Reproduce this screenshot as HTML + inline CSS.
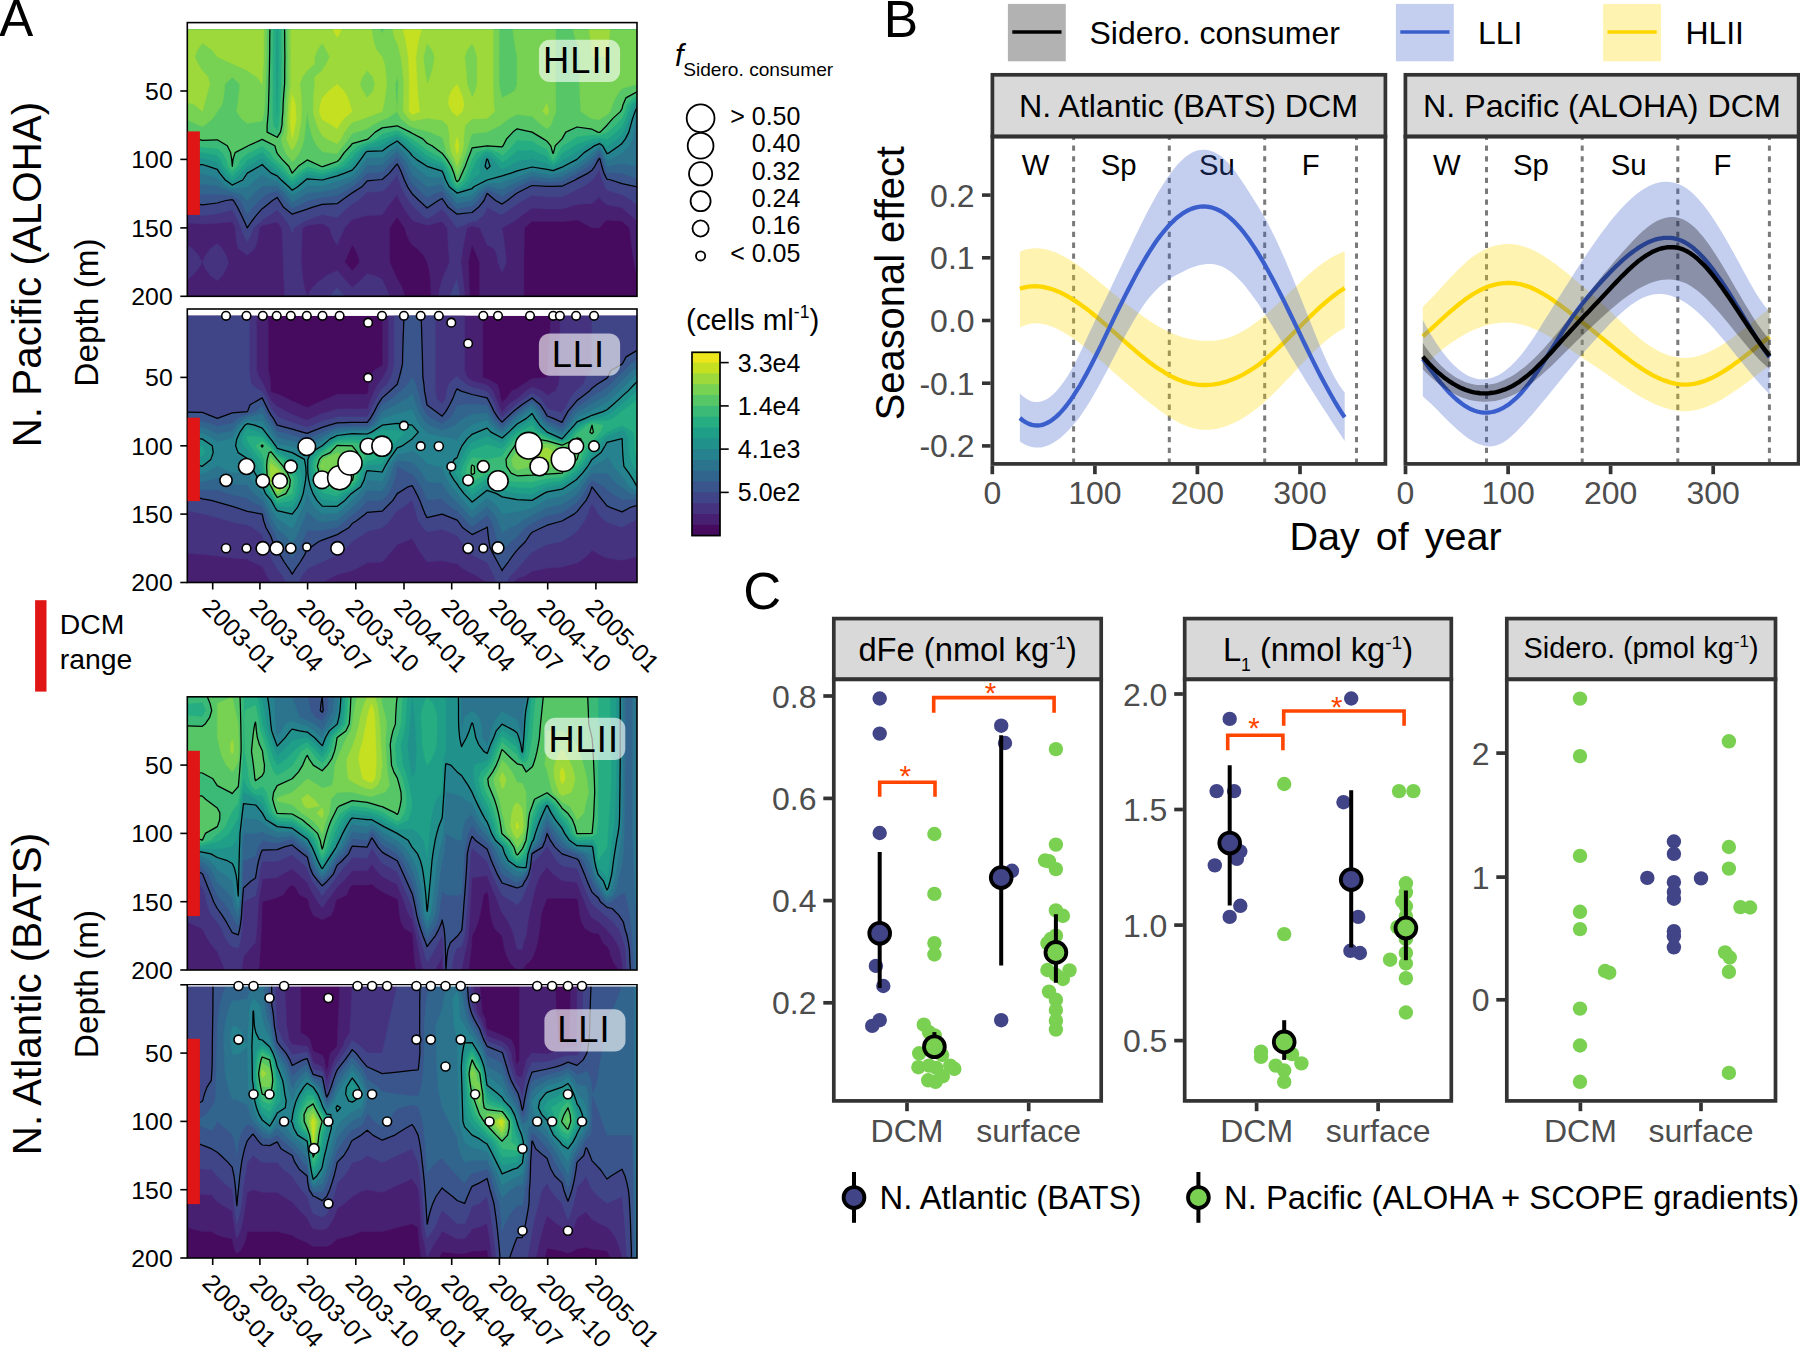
<!DOCTYPE html>
<html><head><meta charset="utf-8"><title>Figure</title>
<style>
html,body{margin:0;padding:0;background:#fff;overflow:hidden;}
svg{display:block;}
text{font-family:"Liberation Sans", Arial, sans-serif;}
</style></head><body>
<svg width="1800" height="1347" viewBox="0 0 1800 1347">
<rect x="0" y="0" width="1800" height="1347" fill="#ffffff"/>
<clipPath id="clip_aH"><rect x="187.3" y="29.4" width="449.7" height="266.9"/></clipPath>
<g clip-path="url(#clip_aH)">
<rect x="187.3" y="29.4" width="449.7" height="266.9" fill="#460b5e"/>
<path d="M202.3 22.6L217.3 22.6L232.3 22.6L247.3 22.6L262.2 22.6L277.2 22.6L292.2 22.6L307.2 22.6L322.2 22.6L337.2 22.6L352.2 22.6L367.2 22.6L382.2 22.6L397.2 22.6L412.1 22.6L427.1 22.6L442.1 22.6L457.1 22.6L472.1 22.6L487.1 22.6L502.1 22.6L517.1 22.6L532.1 22.6L547.1 22.6L553.1 22.6L562 22.6L577 22.6L592 22.6L599.5 22.6L607 22.6L622 22.6L637 22.6L637 29.4L637 36.3L637 43.1L637 50L637 56.8L637 63.7L637 70.5L637 77.3L637 84.2L637 91L637 97.9L637 104.7L637 111.6L637 118.4L637 125.2L637 132.1L637 138.9L637 145.8L637 152.6L637 159.4L637 166.3L637 173.1L637 180L637 186.8L637 193.7L637 200.5L637 207.3L637 214.2L637 221L637 227.9L637 234.7L637 241.6L637 248.4L637 255.2L637 262.1L637 268.9L637 275.8L637 276.8L636.8 275.8L635.2 268.9L634 262.1L632.9 255.2L631.9 248.4L631 241.6L630.2 234.7L629.5 227.9L622 221.2L619.6 221L607 220.2L605.5 221L599.5 227.9L592 227.9L579.8 221L577 220L568.3 221L562 221.6L553.1 221.6L547.1 221.6L532.1 221.3L524.6 227.9L524.4 234.7L524.3 241.6L524.2 248.4L524 255.2L523.9 262.1L523.9 268.9L523.9 275.8L523.9 282.6L523.9 289.5L523.9 296.3L517.1 296.3L502.1 296.3L487.1 296.3L479.6 296.3L479.6 289.5L479.6 282.6L479.6 275.8L479.6 268.9L479.6 262.1L476.6 255.2L473.6 248.4L472.1 245L471.3 248.4L469.7 255.2L468.4 262.1L468.7 268.9L469 275.8L469.2 282.6L469.4 289.5L469.6 296.3L457.1 296.3L442.1 296.3L430.9 296.3L430.7 289.5L430.4 282.6L429.9 275.8L429 268.9L427.1 262.1L427.1 262.1L423.4 255.2L417.1 248.4L412.1 245L409.7 241.6L406.5 234.7L404.7 227.9L399.7 221L397.2 216.9L394.2 221L389.7 227.9L389.7 234.7L389.7 241.6L389.7 248.4L389.7 255.2L389.7 262.1L392.7 268.9L395.7 275.8L397.2 279.2L399.7 282.6L402.8 289.5L404.7 296.3L397.2 296.3L382.2 296.3L367.2 296.3L352.2 296.3L337.2 296.3L322.2 296.3L307.2 296.3L292.2 296.3L277.2 296.3L262.2 296.3L247.3 296.3L232.3 296.3L217.3 296.3L202.3 296.3L187.3 296.3L187.3 289.5L187.3 282.6L187.3 275.8L187.3 268.9L187.3 262.1L187.3 255.2L187.3 248.4L187.3 241.6L187.3 234.7L187.3 227.9L187.3 221L187.3 214.2L187.3 207.3L187.3 200.5L187.3 193.7L187.3 186.8L187.3 180L187.3 173.1L187.3 166.3L187.3 159.4L187.3 152.6L187.3 145.8L187.3 138.9L187.3 132.1L187.3 125.2L187.3 118.4L187.3 111.6L187.3 104.7L187.3 97.9L187.3 91L187.3 84.2L187.3 77.3L187.3 70.5L187.3 63.7L187.3 56.8L187.3 50L187.3 43.1L187.3 36.3L187.3 29.4L187.3 22.6ZM350.7 248.4L347.7 255.2L344.7 262.1L350.7 268.9L352.2 270.6L353.9 268.9L359.7 262.1L357.8 255.2L354.7 248.4L352.2 245Z" fill="#482071" stroke="#482071" stroke-width="0.5"/>
<path d="M202.3 22.6L217.3 22.6L232.3 22.6L247.3 22.6L262.2 22.6L277.2 22.6L292.2 22.6L307.2 22.6L322.2 22.6L337.2 22.6L352.2 22.6L367.2 22.6L382.2 22.6L397.2 22.6L412.1 22.6L427.1 22.6L442.1 22.6L457.1 22.6L472.1 22.6L487.1 22.6L502.1 22.6L517.1 22.6L532.1 22.6L547.1 22.6L553.1 22.6L562 22.6L577 22.6L592 22.6L599.5 22.6L607 22.6L622 22.6L637 22.6L637 29.4L637 36.3L637 43.1L637 50L637 56.8L637 63.7L637 70.5L637 77.3L637 84.2L637 91L637 97.9L637 104.7L637 111.6L637 118.4L637 125.2L637 132.1L637 138.9L637 145.8L637 152.6L637 159.4L637 166.3L637 173.1L637 180L637 186.8L637 193.7L637 200.5L637 207.3L637 214.2L637 221L629.3 214.2L622 207.8L619.6 207.3L607 204.8L601.7 200.5L599.5 196.9L595.8 200.5L592 203.4L577 204.4L568.3 207.3L562 209.1L553.1 209.1L547.1 209.1L532.1 208.2L523.3 214.2L517.1 219.6L514.8 221L502.1 227.9L502.1 227.9L502.1 227.9L503.2 234.7L504.2 241.6L505 248.4L505.7 255.2L506.4 262.1L503.7 268.9L502.1 271.9L500.5 268.9L497.8 262.1L496.9 255.2L493.9 248.4L487.1 245L485.6 241.6L482.6 234.7L479.6 227.9L472.1 225.8L467.1 227.9L465.6 234.7L464.2 241.6L462.9 248.4L461.9 255.2L460.9 262.1L461.9 268.9L462.7 275.8L463.5 282.6L464.1 289.5L464.6 296.3L457.1 296.3L442.1 296.3L438.4 296.3L439.5 289.5L441.1 282.6L442.1 279.2L443.6 275.8L446.6 268.9L449.6 262.1L448.9 255.2L448.4 248.4L447.9 241.6L447.5 234.7L447.1 227.9L442.1 221.5L427.1 225.2L413.3 221L412.1 220.1L407.7 214.2L403.3 207.3L399.5 200.5L397.2 194.9L392.5 200.5L387.3 207.3L382.6 214.2L382.2 214.9L367.2 215.4L352.2 219.6L350.7 221L344.7 227.9L341.7 234.7L338.7 241.6L337.2 245L334.7 241.6L331.6 234.7L329.7 227.9L322.2 223.5L307.2 225.4L302.7 227.9L302.1 234.7L301.9 241.6L301.7 248.4L301.5 255.2L301.3 262.1L301.8 268.9L302.5 275.8L303.5 282.6L304.9 289.5L307.2 296.3L292.2 296.3L284.7 296.3L284.4 289.5L284 282.6L283.7 275.8L283.4 268.9L283.2 262.1L283 255.2L282.7 248.4L282.5 241.6L282.3 234.7L281.7 227.9L277.2 222L262.2 225.4L259.3 227.9L258.5 234.7L257.3 241.6L254.8 248.4L247.3 255.2L238.1 248.4L236.4 241.6L235.7 234.7L235.3 227.9L232.3 221.8L217.3 223.2L202.3 224L187.3 223L187.3 221L187.3 214.2L187.3 207.3L187.3 200.5L187.3 193.7L187.3 186.8L187.3 180L187.3 173.1L187.3 166.3L187.3 159.4L187.3 152.6L187.3 145.8L187.3 138.9L187.3 132.1L187.3 125.2L187.3 118.4L187.3 111.6L187.3 104.7L187.3 97.9L187.3 91L187.3 84.2L187.3 77.3L187.3 70.5L187.3 63.7L187.3 56.8L187.3 50L187.3 43.1L187.3 36.3L187.3 29.4L187.3 22.6ZM192.3 248.4L198.5 255.2L202.3 262.1L198.5 268.9L192.3 275.8L187.3 279.2L187.3 275.8L187.3 268.9L187.3 262.1L187.3 255.2L187.3 248.4L187.3 245ZM217.3 243.4L222.3 248.4L226.2 255.2L228.5 262.1L226.2 268.9L222.3 275.8L217.3 280.7L210.6 275.8L205.4 268.9L202.3 262.1L205.4 255.2L210.6 248.4ZM337.2 270.6L341.7 275.8L347.7 282.6L352.2 287.7L358.6 282.6L365.3 275.8L367.2 273.5L374.7 275.8L382.2 279.2L383.7 282.6L386.7 289.5L389.7 296.3L382.2 296.3L367.2 296.3L352.2 296.3L337.2 296.3L322.2 296.3L307.2 296.3L311 289.5L317.2 282.6L322.2 279.2L326 275.8Z" fill="#46337f" stroke="#46337f" stroke-width="0.5"/>
<path d="M202.3 22.6L217.3 22.6L232.3 22.6L247.3 22.6L262.2 22.6L277.2 22.6L292.2 22.6L307.2 22.6L322.2 22.6L337.2 22.6L352.2 22.6L367.2 22.6L382.2 22.6L397.2 22.6L412.1 22.6L427.1 22.6L442.1 22.6L457.1 22.6L472.1 22.6L487.1 22.6L502.1 22.6L517.1 22.6L532.1 22.6L547.1 22.6L553.1 22.6L562 22.6L577 22.6L592 22.6L599.5 22.6L607 22.6L622 22.6L637 22.6L637 29.4L637 36.3L637 43.1L637 50L637 56.8L637 63.7L637 70.5L637 77.3L637 84.2L637 91L637 97.9L637 104.7L637 111.6L637 118.4L637 125.2L637 132.1L637 138.9L637 145.8L637 152.6L637 159.4L637 166.3L637 173.1L637 180L637 186.8L637 193.7L637 200.5L637 205.1L631.7 200.5L622 194.7L618.6 193.7L607 190.2L604.9 186.8L602.1 180L600.3 173.1L599.5 168.9L597.5 173.1L592.4 180L592 180.4L582.9 186.8L577 189.5L568.9 193.7L562 196.8L553.1 196.8L547.1 196.8L532.1 195.4L523 200.5L517.1 203.9L512.7 207.3L502.6 214.2L502.1 214.5L500.3 214.2L487.1 207.3L487.1 207.3L487.1 207.3L484.4 214.2L476.6 221L472.1 221.6L457.1 227.9L452 221L446.6 214.2L442.1 209.1L434.9 214.2L427.1 218.7L420.9 214.2L414.4 207.3L412.1 205.1L408.6 200.5L404.4 193.7L401.2 186.8L398.9 180L397.2 174.6L393.4 180L387.3 186.8L382.2 191.2L367.2 192.2L365.3 193.7L358.2 200.5L352.2 203.9L347.9 207.3L340.5 214.2L337.2 217.6L322.2 214.4L307.2 219.9L305 221L293.7 227.9L292.2 233.6L290.7 227.9L286.4 221L281 214.2L277.2 209.8L271.3 214.2L262.2 219.9L261.3 221L253.3 227.9L251 234.7L247.3 241.6L243.4 234.7L241.3 227.9L238 221L234.7 214.2L232.3 209.7L217.3 213.8L214.1 214.2L202.3 215.5L193.4 214.2L187.3 213.1L187.3 207.3L187.3 200.5L187.3 193.7L187.3 186.8L187.3 180L187.3 173.1L187.3 166.3L187.3 159.4L187.3 152.6L187.3 145.8L187.3 138.9L187.3 132.1L187.3 125.2L187.3 118.4L187.3 111.6L187.3 104.7L187.3 97.9L187.3 91L187.3 84.2L187.3 77.3L187.3 70.5L187.3 63.7L187.3 56.8L187.3 50L187.3 43.1L187.3 36.3L187.3 29.4L187.3 22.6ZM457.1 279.2L457.7 282.6L458.7 289.5L459.6 296.3L457.1 296.3L449.6 296.3L452.6 289.5L455.6 282.6ZM337.2 287.7L338.7 289.5L344.7 296.3L337.2 296.3L329.7 296.3L335.3 289.5Z" fill="#404588" stroke="#404588" stroke-width="0.5"/>
<path d="M202.3 22.6L217.3 22.6L232.3 22.6L247.3 22.6L262.2 22.6L277.2 22.6L292.2 22.6L307.2 22.6L322.2 22.6L337.2 22.6L352.2 22.6L367.2 22.6L382.2 22.6L397.2 22.6L412.1 22.6L427.1 22.6L442.1 22.6L457.1 22.6L472.1 22.6L487.1 22.6L502.1 22.6L517.1 22.6L532.1 22.6L547.1 22.6L553.1 22.6L562 22.6L577 22.6L592 22.6L599.5 22.6L607 22.6L622 22.6L637 22.6L637 29.4L637 36.3L637 43.1L637 50L637 56.8L637 63.7L637 70.5L637 77.3L637 84.2L637 91L637 97.9L637 104.7L637 111.6L637 118.4L637 125.2L637 132.1L637 138.9L637 145.8L637 152.6L637 159.4L637 166.3L637 173.1L637 180L637 186.8L622 183.6L611 180L607 179.2L603.9 173.1L601.8 166.3L600.1 159.4L599.5 158.3L598.6 159.4L594.8 166.3L592 170.2L588.1 173.1L577 178.9L575.1 180L562 186.2L553.1 186.3L547.1 186.3L532.1 185.5L529.3 186.8L517.1 193L515.9 193.7L507.4 200.5L502.1 204.1L495.6 200.5L487.6 193.7L487.1 193.5L486.9 193.7L484 200.5L478.5 207.3L472.1 212.5L457.1 214.2L448.2 207.3L443.5 200.5L442.1 198.5L438.3 200.5L428.2 207.3L427.1 208.1L426.4 207.3L419 200.5L412.1 193.7L412.1 193.7L407.6 186.8L404.4 180L401.7 173.1L398.6 166.3L397.2 164L395 166.3L389.4 173.1L382.2 179.5L376.1 180L367.2 180.9L361.9 186.8L352.2 192.9L350.9 193.7L341.5 200.5L337.2 203.7L322.2 204.4L312.1 207.3L307.2 209.2L292.2 214.2L283.6 207.3L279.2 200.5L277.2 197.4L272.5 200.5L264.2 207.3L262.2 208.7L257.3 214.2L251.9 221L247.3 227.9L244.2 221L241 214.2L237.5 207.3L233.5 200.5L232.3 199.7L225.9 200.5L217.3 203L202.3 204.8L187.3 202.1L187.3 200.5L187.3 193.7L187.3 186.8L187.3 180L187.3 173.1L187.3 166.3L187.3 159.4L187.3 152.6L187.3 145.8L187.3 138.9L187.3 132.1L187.3 125.2L187.3 118.4L187.3 111.6L187.3 104.7L187.3 97.9L187.3 91L187.3 84.2L187.3 77.3L187.3 70.5L187.3 63.7L187.3 56.8L187.3 50L187.3 43.1L187.3 36.3L187.3 29.4L187.3 22.6Z" fill="#39558c" stroke="#39558c" stroke-width="0.5"/>
<path d="M202.3 22.6L217.3 22.6L232.3 22.6L247.3 22.6L262.2 22.6L277.2 22.6L292.2 22.6L307.2 22.6L322.2 22.6L337.2 22.6L352.2 22.6L367.2 22.6L382.2 22.6L397.2 22.6L412.1 22.6L427.1 22.6L442.1 22.6L457.1 22.6L472.1 22.6L487.1 22.6L502.1 22.6L517.1 22.6L532.1 22.6L547.1 22.6L553.1 22.6L562 22.6L577 22.6L592 22.6L599.5 22.6L607 22.6L622 22.6L637 22.6L637 29.4L637 36.3L637 43.1L637 50L637 56.8L637 63.7L637 70.5L637 77.3L637 84.2L637 91L637 97.9L637 104.7L637 111.6L637 118.4L637 125.2L637 132.1L637 138.9L637 145.8L637 152.6L637 159.4L637 166.3L637 173.1L637 178.6L622 173.3L620 173.1L607 172.5L604.4 166.3L602.3 159.4L599.5 153.6L594.8 159.4L592 163.6L588.3 166.3L577.4 173.1L577 173.3L564.5 180L562 181.1L553.1 182L547.1 182L532.1 180L532.1 180L532.1 180L517.8 186.8L517.1 187.2L506 193.7L502.1 196.4L497.9 193.7L487.1 190L482.3 193.7L478 200.5L472.1 206L464.6 207.3L457.1 208.7L455.3 207.3L448.9 200.5L444 193.7L442.1 190.9L434.4 193.7L427.1 197.6L423 193.7L415.5 186.8L412.1 183.9L409.9 180L406.7 173.1L403.4 166.3L399.2 159.4L397.2 157.2L394.4 159.4L387.9 166.3L382.2 172.1L367.2 173L367 173.1L360.9 180L352.2 186.8L352.2 186.8L340.1 193.7L337.2 195.5L322.2 197.4L308.9 200.5L307.2 201L294 207.3L292.2 208L291.4 207.3L285.1 200.5L280.2 193.7L277.2 190.8L267.7 193.7L262.2 197.4L259 200.5L252.7 207.3L247.3 214.2L244 207.3L240.4 200.5L232.3 195.6L217.3 194.2L202.3 194.3L196.7 193.7L187.3 192.6L187.3 186.8L187.3 180L187.3 173.1L187.3 166.3L187.3 159.4L187.3 152.6L187.3 145.8L187.3 138.9L187.3 132.1L187.3 125.2L187.3 118.4L187.3 111.6L187.3 104.7L187.3 97.9L187.3 91L187.3 84.2L187.3 77.3L187.3 70.5L187.3 63.7L187.3 56.8L187.3 50L187.3 43.1L187.3 36.3L187.3 29.4L187.3 22.6Z" fill="#32658e" stroke="#32658e" stroke-width="0.5"/>
<path d="M202.3 22.6L217.3 22.6L232.3 22.6L247.3 22.6L262.2 22.6L277.2 22.6L292.2 22.6L307.2 22.6L322.2 22.6L337.2 22.6L352.2 22.6L367.2 22.6L382.2 22.6L397.2 22.6L412.1 22.6L427.1 22.6L442.1 22.6L457.1 22.6L472.1 22.6L487.1 22.6L502.1 22.6L517.1 22.6L532.1 22.6L547.1 22.6L553.1 22.6L562 22.6L577 22.6L592 22.6L599.5 22.6L607 22.6L622 22.6L637 22.6L637 29.4L637 36.3L637 43.1L637 50L637 56.8L637 63.7L637 70.5L637 77.3L637 84.2L637 91L637 97.9L637 104.7L637 111.6L637 118.4L637 125.2L637 132.1L637 138.9L637 145.8L637 152.6L637 159.4L637 166.3L637 167.1L635.2 166.3L622 163.2L607 166.3L604.5 159.4L601.5 152.6L599.5 149.9L596.2 152.6L592 158.1L590.4 159.4L580.9 166.3L577 168.7L568.7 173.1L562 176.6L553.1 177.9L547.1 177.9L532.1 175.9L521.4 180L517.1 182L506.6 186.8L502.1 189.6L490.2 186.8L487.1 186.5L486.4 186.8L477.8 193.7L472.1 200.5L472.1 200.5L457.1 203.2L454.4 200.5L448.8 193.7L443.3 186.8L442.1 184.1L428.3 186.8L427.1 187.2L426.8 186.8L419.1 180L412.1 174.2L411.6 173.1L408.3 166.3L404.4 159.4L398.2 152.6L397.2 151.6L395.7 152.6L387.5 159.4L382.2 164.9L367.2 165.3L366.5 166.3L361.1 173.1L353.9 180L352.2 181.3L340.1 186.8L337.2 188.5L322.2 191.6L307.2 193.3L306.7 193.7L295.1 200.5L292.2 201.9L290.9 200.5L285.4 193.7L278.3 186.8L277.2 185.8L262.2 186.1L261.4 186.8L253.7 193.7L247.3 200.5L240 193.7L232.3 192L218.4 186.8L217.3 185.8L202.3 184.1L187.3 183.4L187.3 180L187.3 173.1L187.3 166.3L187.3 159.4L187.3 152.6L187.3 145.8L187.3 138.9L187.3 132.1L187.3 125.2L187.3 118.4L187.3 111.6L187.3 104.7L187.3 97.9L187.3 91L187.3 84.2L187.3 77.3L187.3 70.5L187.3 63.7L187.3 56.8L187.3 50L187.3 43.1L187.3 36.3L187.3 29.4L187.3 22.6Z" fill="#2c738e" stroke="#2c738e" stroke-width="0.5"/>
<path d="M202.3 22.6L217.3 22.6L232.3 22.6L247.3 22.6L262.2 22.6L277.2 22.6L292.2 22.6L307.2 22.6L322.2 22.6L337.2 22.6L352.2 22.6L367.2 22.6L382.2 22.6L397.2 22.6L412.1 22.6L427.1 22.6L442.1 22.6L457.1 22.6L472.1 22.6L487.1 22.6L502.1 22.6L517.1 22.6L532.1 22.6L547.1 22.6L553.1 22.6L562 22.6L577 22.6L592 22.6L599.5 22.6L607 22.6L622 22.6L637 22.6L637 29.4L637 36.3L637 43.1L637 50L637 56.8L637 63.7L637 70.5L637 77.3L637 84.2L637 91L637 97.9L637 104.7L637 111.6L637 116.1L636.2 118.4L634.8 125.2L633.9 132.1L632.3 138.9L629.4 145.8L622.9 152.6L622 153.1L609.3 159.4L607 160.1L606.8 159.4L604 152.6L599.5 146.4L592 152.6L592 152.6L583.7 159.4L577 164.1L572.7 166.3L562 172L557.9 173.1L553.1 174.2L547.1 174.2L540.3 173.1L532.1 171.6L527.4 173.1L517.1 176.9L508.1 180L502.1 182.7L487.1 183.2L480.1 186.8L473.2 193.7L472.1 195L457.1 197.8L453.6 193.7L446.3 186.8L443.2 180L442.1 177.2L427.1 176.7L423 173.1L414.6 166.3L412.1 164.4L409.5 159.4L404.1 152.6L397.2 145.9L387.8 152.6L382.2 157.7L367.2 157.6L365.9 159.4L361 166.3L355.2 173.1L352.2 175.9L340.6 180L337.2 181.5L322.2 185.8L307.2 185.6L305.9 186.8L295.9 193.7L292.2 195.7L290.5 193.7L283.5 186.8L277.2 180.8L273.1 180L262.2 174.8L255.1 180L247.3 186.8L247.3 186.8L232.3 188.7L227.2 186.8L219.2 180L217.3 177.4L202.3 173.8L187.3 174.2L187.3 173.1L187.3 166.3L187.3 159.4L187.3 152.6L187.3 145.8L187.3 138.9L187.3 132.1L187.3 125.2L187.3 118.4L187.3 111.6L187.3 104.7L187.3 97.9L187.3 91L187.3 84.2L187.3 77.3L187.3 70.5L187.3 63.7L187.3 56.8L187.3 50L187.3 43.1L187.3 36.3L187.3 29.4L187.3 22.6Z" fill="#26828e" stroke="#26828e" stroke-width="0.5"/>
<path d="M202.3 22.6L217.3 22.6L232.3 22.6L247.3 22.6L262.2 22.6L277.2 22.6L292.2 22.6L307.2 22.6L322.2 22.6L337.2 22.6L352.2 22.6L367.2 22.6L382.2 22.6L397.2 22.6L412.1 22.6L427.1 22.6L442.1 22.6L457.1 22.6L472.1 22.6L487.1 22.6L502.1 22.6L517.1 22.6L532.1 22.6L547.1 22.6L553.1 22.6L562 22.6L577 22.6L592 22.6L599.5 22.6L607 22.6L622 22.6L637 22.6L637 29.4L637 36.3L637 43.1L637 50L637 56.8L637 63.7L637 70.5L637 77.3L637 84.2L637 91L637 97.9L637 104.7L637 107.6L635.1 111.6L632.6 118.4L630.8 125.2L628.8 132.1L625.4 138.9L622 143.4L619.1 145.8L609.5 152.6L607 153.8L606.5 152.6L602.6 145.8L599.5 143.6L594.2 145.8L592 147.5L584.1 152.6L577 159.4L577 159.4L563.8 166.3L562 167.2L553.1 170.6L547.1 169.3L532.1 167L517.1 170.8L511.1 173.1L502.1 175.9L487.1 180L487.1 180L473.8 186.8L472.1 188.6L457.1 193.1L449.2 186.8L445.7 180L443.2 173.1L442.1 171.2L427.1 166.3L427.1 166.3L416.4 159.4L412.1 155.6L409.9 152.6L402.7 145.8L397.2 141L389.3 145.8L382.2 150.9L367.2 151.4L365.5 152.6L360.8 159.4L355.6 166.3L352.2 170.1L344.7 173.1L337.2 175.8L322.2 180L307.2 178.8L305.7 180L297.7 186.8L292.2 190.2L288.8 186.8L281.2 180L277.2 175.9L271.2 173.1L263.9 166.3L262.2 164.5L259.4 166.3L247.3 173.1L247.3 173.1L242.7 180L232.3 185L225.3 180L219.7 173.1L217.3 169.4L208.3 166.3L202.3 164.5L187.3 165.2L187.3 159.4L187.3 152.6L187.3 145.8L187.3 138.9L187.3 132.1L187.3 125.2L187.3 118.4L187.3 111.6L187.3 104.7L187.3 97.9L187.3 91L187.3 84.2L187.3 77.3L187.3 70.5L187.3 63.7L187.3 56.8L187.3 50L187.3 43.1L187.3 36.3L187.3 29.4L187.3 22.6ZM486.6 159.4L485.1 166.3L487.1 169.1L490.1 166.3L487.7 159.4L487.1 159Z" fill="#21918c" stroke="#21918c" stroke-width="0.5"/>
<path d="M202.3 22.6L217.3 22.6L232.3 22.6L247.3 22.6L262.2 22.6L277.2 22.6L292.2 22.6L307.2 22.6L322.2 22.6L337.2 22.6L352.2 22.6L367.2 22.6L382.2 22.6L397.2 22.6L412.1 22.6L427.1 22.6L442.1 22.6L457.1 22.6L472.1 22.6L487.1 22.6L502.1 22.6L517.1 22.6L532.1 22.6L547.1 22.6L553.1 22.6L562 22.6L577 22.6L592 22.6L599.5 22.6L607 22.6L622 22.6L637 22.6L637 29.4L637 36.3L637 43.1L637 50L637 56.8L637 63.7L637 70.5L637 77.3L637 84.2L637 91L637 97.9L637 102.7L634.7 104.7L631.7 111.6L629.1 118.4L626.7 125.2L623.7 132.1L622 134.8L617.3 138.9L608.5 145.8L607 146.8L606.5 145.8L599.5 140.9L592 143L585.1 145.8L577 151.8L575.7 152.6L563.9 159.5L562 160.5L554.8 166.3L553.1 167L551.1 166.3L547.1 163.4L533.9 159.4L532.1 158.8L527.2 159.4L517.1 161.2L508.9 166.3L502.1 169L498.7 166.3L493.7 159.4L487.1 154.7L481.7 159.4L479.3 166.3L480.3 173.1L472.1 179.3L471.8 180L467.5 186.8L457.1 190.7L452.2 186.8L448.3 180L445.9 173.1L442.1 166.5L441.5 166.3L427.1 160.8L425 159.4L416.5 152.6L412.1 149.4L408.3 145.8L400.6 138.9L397.2 137L392.1 138.9L382.2 145.1L379.9 145.8L367.2 148.1L360.6 152.6L355.7 159.4L352.2 163.9L349.9 166.3L337.2 171.8L332.8 173.1L322.2 176.9L307.2 174.3L299.9 180L292.2 185.5L285.9 180L279.1 173.1L277.2 171.1L270.6 166.3L263.9 159.4L262.2 157.7L259.1 159.4L247.9 166.3L247.3 166.6L241.4 173.1L233.6 180L232.3 180.6L231.4 180L224.6 173.1L219.8 166.3L217.3 162.2L208.1 159.4L202.3 158.1L187.3 157.7L187.3 152.6L187.3 145.8L187.3 138.9L187.3 132.1L187.3 125.2L187.3 118.4L187.3 111.6L187.3 104.7L187.3 97.9L187.3 91L187.3 84.2L187.3 77.3L187.3 70.5L187.3 63.7L187.3 56.8L187.3 50L187.3 43.1L187.3 36.3L187.3 29.4L187.3 22.6Z" fill="#1f9f88" stroke="#1f9f88" stroke-width="0.5"/>
<path d="M202.3 22.6L217.3 22.6L232.3 22.6L247.3 22.6L262.2 22.6L276 22.6L276 29.4L275.9 36.3L275.7 43.1L275.6 50L275.5 56.8L275.6 63.7L275.7 70.5L275.8 77.3L275.9 84.2L276 91L276.1 97.9L276.3 104.7L276.4 111.6L277.2 116.6L277.8 111.6L277.9 104.7L278.1 97.9L278.3 91L278.5 84.2L278.6 77.3L278.7 70.5L278.9 63.7L279 56.8L278.9 50L278.7 43.1L278.6 36.3L278.5 29.4L278.5 22.6L292.2 22.6L307.2 22.6L322.2 22.6L337.2 22.6L352.2 22.6L367.2 22.6L382.2 22.6L397.2 22.6L412.1 22.6L427.1 22.6L442.1 22.6L457.1 22.6L472.1 22.6L487.1 22.6L502.1 22.6L517.1 22.6L532.1 22.6L547.1 22.6L553.1 22.6L562 22.6L577 22.6L592 22.6L599.5 22.6L607 22.6L622 22.6L637 22.6L637 29.4L637 36.3L637 43.1L637 50L637 56.8L637 63.7L637 70.5L637 77.3L637 84.2L637 91L637 97.9L637 99.2L630.8 104.7L628.3 111.6L625.6 118.4L622.7 125.2L622 126.6L616.2 132.1L607.9 138.9L607 139.6L605.1 138.9L599.5 138.1L592 138.9L592 138.9L577 144.1L574.4 145.8L563.2 152.6L562 153.3L558.3 159.4L553.1 163.6L548.7 159.4L547.1 156.4L537.5 152.6L532.1 149.9L517.1 150.6L515.3 152.6L506.9 159.4L502.1 162.2L499.7 159.4L491 152.6L487.1 151.2L483.5 152.6L476.7 159.4L473.6 166.3L472.1 169L470.5 173.1L467.6 180L461.3 186.8L457.1 188.4L455.1 186.8L450.8 180L448.5 173.1L445 166.3L442.1 162.5L434.5 159.4L427.1 155.3L423.6 152.6L414.5 145.8L412.1 144.1L406.5 138.9L397.2 133.8L383.3 138.9L382.2 139.6L367.2 145L365.1 145.8L355.8 152.6L352.2 157.4L350.5 159.4L343.5 166.3L337.2 169L324.1 173.1L322.2 173.8L318.7 173.1L307.2 170.4L303.2 173.1L294.2 180L292.2 181.3L290.6 180L283.5 173.1L277.2 166.3L277.2 166.3L269.4 159.4L263.1 152.6L262.2 151.9L260.9 152.6L248.4 159.4L247.3 160.1L242.4 166.3L235.6 173.1L232.3 175.9L229.5 173.1L223.9 166.3L220.6 159.4L217.3 155.3L202.3 152.6L202.3 152.6L187.3 150.6L187.3 145.8L187.3 138.9L187.3 132.1L187.3 125.2L187.3 118.4L187.3 111.6L187.3 104.7L187.3 97.9L187.3 91L187.3 84.2L187.3 77.3L187.3 70.5L187.3 63.7L187.3 56.8L187.3 50L187.3 43.1L187.3 36.3L187.3 29.4L187.3 22.6Z" fill="#26ad81" stroke="#26ad81" stroke-width="0.5"/>
<path d="M202.3 22.6L217.3 22.6L232.3 22.6L247.3 22.6L262.2 22.6L273 22.6L273 29.4L272.8 36.3L272.7 43.1L272.6 50L272.5 56.8L272.5 63.7L272.5 70.5L272.5 77.3L272.5 84.2L272.5 91L272.4 97.9L272.4 104.7L272.4 111.6L272.7 118.4L273.2 125.2L277.2 131.2L279.1 125.2L279.7 118.4L280.3 111.6L280.5 104.7L280.8 97.9L281.1 91L281.5 84.2L281.6 77.3L281.7 70.5L281.8 63.7L281.9 56.8L281.8 50L281.7 43.1L281.6 36.3L281.5 29.4L281.5 22.6L292.2 22.6L307.2 22.6L322.2 22.6L337.2 22.6L352.2 22.6L367.2 22.6L382.2 22.6L397.2 22.6L412.1 22.6L427.1 22.6L442.1 22.6L457.1 22.6L472.1 22.6L487.1 22.6L502.1 22.6L517.1 22.6L532.1 22.6L547.1 22.6L553.1 22.6L562 22.6L577 22.6L592 22.6L599.5 22.6L607 22.6L622 22.6L637 22.6L637 29.4L637 36.3L637 43.1L637 50L637 56.8L637 63.7L637 70.5L637 77.3L637 84.2L637 91L637 95.5L632.9 97.9L626.9 104.7L624.9 111.6L622 118.4L622 118.4L615.2 125.2L607.4 132.1L607 132.4L599.5 135.2L592 134.8L577 136.4L573.3 138.9L562.6 145.8L562 146.1L558 152.6L553.9 159.4L553.1 160.1L552.3 159.4L548.8 152.6L547.1 149.4L539.8 145.8L532.1 141L517.1 139.9L512.1 145.8L505.9 152.6L502.1 155.3L498.9 152.6L487.1 148.5L476.4 152.6L472.1 158.8L471.8 159.4L469.2 166.3L466.3 173.1L463.3 180L457.1 185.5L453.4 180L451.2 173.1L448 166.3L443 159.4L442.1 158.3L431.8 152.6L427.1 149.9L421.7 145.8L412.5 138.9L412.1 138.7L401.4 132.1L397.2 130.1L388.8 132.1L382.2 134.1L375.6 138.9L367.2 142.1L357.9 145.8L352.2 150.9L350.5 152.6L345 159.4L337.2 166.3L337.2 166.3L322.2 170.3L307.2 166.6L297.7 173.1L292.2 177.2L287.9 173.1L283 166.3L277.2 161.5L274.9 159.4L269.9 152.6L262.2 146.1L249.1 152.6L247.3 153.6L240.5 159.4L237.4 166.3L232.3 171.1L228.1 166.3L226.2 159.4L222.3 152.6L217.3 148.5L202.3 147.1L195.9 145.8L187.3 143.4L187.3 138.9L187.3 132.1L187.3 125.2L187.3 118.4L187.3 111.6L187.3 104.7L187.3 97.9L187.3 91L187.3 84.2L187.3 77.3L187.3 70.5L187.3 63.7L187.3 56.8L187.3 50L187.3 43.1L187.3 36.3L187.3 29.4L187.3 22.6Z" fill="#3aba76" stroke="#3aba76" stroke-width="0.5"/>
<path d="M202.3 22.6L217.3 22.6L232.3 22.6L247.3 22.6L262.2 22.6L269.9 22.6L269.9 29.4L269.8 36.3L269.7 43.1L269.7 50L269.6 56.8L269.5 63.7L269.4 70.5L269.2 77.3L269.1 84.2L268.9 91L268.7 97.9L268.5 104.7L268.3 111.6L267.8 118.4L267.1 125.2L267.1 132.1L277.2 137.3L280.5 132.1L282 125.2L282.3 118.4L282.9 111.6L283.1 104.7L283.5 97.9L284 91L284.6 84.2L284.7 77.3L284.7 70.5L284.8 63.7L284.9 56.8L284.8 50L284.7 43.1L284.7 36.3L284.6 29.4L284.6 22.6L292.2 22.6L307.2 22.6L322.2 22.6L337.2 22.6L352.2 22.6L367.2 22.6L382.2 22.6L397.2 22.6L412.1 22.6L427.1 22.6L442.1 22.6L457.1 22.6L472.1 22.6L487.1 22.6L502.1 22.6L517.1 22.6L532.1 22.6L547.1 22.6L553.1 22.6L562 22.6L577 22.6L592 22.6L599.5 22.6L607 22.6L622 22.6L637 22.6L637 29.4L637 36.3L637 43.1L637 50L637 56.8L637 63.7L637 70.5L637 77.3L637 84.2L637 91L637 91.7L625.9 97.9L623 104.7L622 108.8L620.3 111.6L612.9 118.4L607 125.2L607 125.2L600.2 132.1L599.5 132.4L597.8 132.1L592 129.2L577 127L565.8 132.1L562 138.9L562 138.9L555.2 145.8L553.5 152.6L553.1 153.4L552.6 152.6L550.8 145.8L547.1 141.3L543.3 138.9L532.1 132.1L532.1 132.1L517.1 128.8L512.9 132.1L506.6 138.9L503.1 145.8L502.1 146.8L487.1 145.8L487.1 145.8L487.1 145.8L472.1 147.9L470.4 152.6L467.7 159.4L465.2 166.3L462.2 173.1L459.1 180L457.1 181.7L455.9 180L453.8 173.1L451.1 166.3L446.9 159.4L442.1 153.2L441 152.6L432 145.8L427.1 143.2L422.8 138.9L412.1 133.3L410.2 132.1L397.2 125.8L382.2 127.9L375.2 132.1L368.1 138.9L367.2 139.3L352.2 143.7L350.6 145.8L344.2 152.6L339.5 159.4L337.2 161.5L323.4 166.3L322.2 166.6L320.9 166.3L307.2 159.9L298.2 166.3L292.2 173.1L288.8 166.3L282.1 159.4L277.2 153.3L276.8 152.6L274.9 145.8L262.2 139.4L248.1 145.8L247.3 146.2L235.1 152.6L233 159.4L232.3 166.3L231.7 159.4L230.6 152.6L227.3 145.8L217.3 139.8L202.3 140.3L197.4 138.9L187.3 134.8L187.3 132.1L187.3 125.2L187.3 118.4L187.3 111.6L187.3 104.7L187.3 97.9L187.3 91L187.3 84.2L187.3 77.3L187.3 70.5L187.3 63.7L187.3 56.8L187.3 50L187.3 43.1L187.3 36.3L187.3 29.4L187.3 22.6Z" fill="#56c667" stroke="#56c667" stroke-width="0.5"/>
<path d="M202.3 22.6L217.3 22.6L232.3 22.6L247.3 22.6L262.2 22.6L266.8 22.6L266.8 29.4L266.8 36.3L266.7 43.1L266.7 50L266.7 56.8L266.4 63.7L266.2 70.5L265.9 77.3L265.7 84.2L265.4 91L265 97.9L264.7 104.7L264.3 111.6L262.9 118.4L262.2 121.1L247.3 123.4L241.1 118.4L236.6 111.6L237.6 104.7L238.4 97.9L239.2 91L239.8 84.2L232.3 77.3L232.3 77.3L232.3 77.3L224.8 84.2L224.3 91L223.5 97.9L222 104.7L217.3 111.6L217.3 111.6L212.9 118.4L204.8 125.2L202.3 126.6L199.1 125.2L187.3 119.8L187.3 118.4L187.3 111.6L187.3 104.7L187.3 97.9L187.3 91L187.3 84.2L187.3 77.3L187.3 70.5L187.3 63.7L187.3 56.8L187.3 50L187.3 43.1L187.3 36.3L187.3 29.4L187.3 22.6ZM292.2 22.6L307.2 22.6L322.2 22.6L337.2 22.6L352.2 22.6L367.2 22.6L380.4 22.6L380.4 29.4L382.2 34L383.9 29.4L383.9 22.6L397.2 22.6L412.1 22.6L427.1 22.6L442.1 22.6L457.1 22.6L472.1 22.6L487.1 22.6L499.1 22.6L499.1 29.4L499.1 36.3L499.1 43.1L499.1 50L499.1 56.8L499.1 63.7L499.1 70.5L499.1 77.3L499.1 84.2L500.3 91L502.1 97.9L502.1 97.9L502.1 97.9L514.6 91L517.1 84.2L517.1 84.2L517.1 77.3L517.1 70.5L517.1 63.7L517.1 56.8L517.1 56.8L515.7 50L514.6 43.1L513.6 36.3L512.8 29.4L512.8 22.6L517.1 22.6L532.1 22.6L547.1 22.6L553.1 22.6L555.6 22.6L555.6 29.4L555.6 36.3L555.6 43.1L555.6 50L555.6 56.8L555.6 63.7L555.6 70.5L555.6 77.3L555.6 84.2L555.7 91L555.8 97.9L555.9 104.7L556.1 111.6L553.3 118.4L553.1 119.1L550.8 125.2L547.1 129L542.1 125.2L534.2 118.4L532.1 116.3L517.1 114.5L509 118.4L502.1 123.9L500.6 125.2L487.1 132.1L487.1 132.1L472.1 133.7L469.9 138.9L468.3 145.8L466.2 152.6L463.6 159.4L461.1 166.3L458.1 173.1L457.1 175.2L456.5 173.1L454.1 166.3L450.9 159.4L446.5 152.6L444.7 145.8L442.7 138.9L442.1 137.4L429.7 132.1L427.1 131.3L412.1 127.2L408.2 125.2L400.7 118.4L397.2 111.6L397.5 104.7L397.7 97.9L398 91L398.3 84.2L397.3 77.3L397.2 76.4L396.9 77.3L395.4 84.2L395.7 91L396 97.9L396.5 104.7L397.2 111.6L386.9 118.4L382.2 120.1L372.3 125.2L367.2 128.8L356.8 132.1L352.2 133.4L348.4 138.9L343.2 145.8L337.9 152.6L337.2 153.7L327.5 152.6L322.2 151.6L316.9 145.8L313.2 138.9L310.9 132.1L309.3 125.2L308.1 118.4L307.2 111.6L307.2 111.6L307.2 111.6L306.5 118.4L305.8 125.2L305 132.1L304.1 138.9L302.4 145.8L299.7 152.6L294.9 159.4L292.2 161.7L290.5 159.4L285.3 152.6L282.8 145.8L281.2 138.9L284 132.1L284.9 125.2L284.9 118.4L285.5 111.6L285.7 104.7L286.3 97.9L286.9 91L287.6 84.2L287.7 77.3L287.7 70.5L287.8 63.7L287.8 56.8L287.8 50L287.7 43.1L287.7 36.3L287.6 29.4L287.6 22.6ZM577 22.6L592 22.6L599.5 22.6L607 22.6L622 22.6L637 22.6L637 29.4L637 36.3L637 43.1L637 50L637 56.8L637 63.7L637 70.5L637 77.3L637 84.2L637 84.2L622 88.5L619.8 91L615.4 97.9L612.5 104.7L610.1 111.6L607 114.7L601.2 118.4L599.5 119.8L592 118.7L591.2 118.4L580.8 111.6L580.4 104.7L580 97.9L579.8 91L579.5 84.2L579.5 77.3L579.5 70.5L579.5 63.7L579.5 56.8L578.3 50L577 43.1L577 43.1L574.5 36.3L572.8 29.4L572.8 22.6Z" fill="#77d153" stroke="#77d153" stroke-width="0.5"/>
<path d="M202.3 22.6L217.3 22.6L232.3 22.6L247.3 22.6L262.2 22.6L263.8 22.6L263.8 29.4L263.8 36.3L263.7 43.1L263.7 50L263.7 56.8L263.4 63.7L263 70.5L262.7 77.3L262.2 84.2L257.3 77.3L247.3 70.5L247.3 70.5L232.3 63.7L232.3 63.7L217.3 56.8L217.3 56.8L212.3 50L202.3 43.1L202.3 43.1L202.3 43.1L197.3 50L194.8 56.8L198 63.7L202.3 70.5L202.3 70.5L208.3 77.3L209.8 84.2L207.9 91L206 97.9L204.2 104.7L202.3 111.6L194.8 104.7L187.3 102.4L187.3 97.9L187.3 91L187.3 84.2L187.3 77.3L187.3 70.5L187.3 63.7L187.3 56.8L187.3 50L187.3 43.1L187.3 36.3L187.3 29.4L187.3 22.6ZM292.2 22.6L307.2 22.6L322.2 22.6L337.2 22.6L352.2 22.6L367.2 22.6L371.6 22.6L371.6 29.4L372.5 36.3L374 43.1L376.5 50L382.2 56.8L382.2 56.8L384.5 63.7L385.6 70.5L386.2 77.3L386.6 84.2L385.9 91L384.9 97.9L383.8 104.7L382.2 111.6L382.2 111.6L367.2 117.3L364.1 118.4L352.2 122.5L349.5 125.2L344.5 132.1L340.9 138.9L337.2 143.8L326.6 138.9L322.2 135.6L320.2 132.1L317.1 125.2L314.9 118.4L313.2 111.6L313.4 104.7L313.6 97.9L314 91L314.7 84.2L314.7 77.3L322.2 70.5L322.2 70.5L326.5 63.7L329.7 56.8L326.3 50L322.2 43.1L322.2 43.1L322.2 43.1L317.2 50L314.7 56.8L314.7 63.7L307.2 70.5L307.2 70.5L302.2 77.3L299.7 84.2L300.8 91L301.4 97.9L301.7 104.7L301.5 111.6L301.4 118.4L300.5 125.2L299.4 132.1L298.1 138.9L295.1 145.8L292.2 150.3L289.5 145.8L286.7 138.9L287.6 132.1L287.7 125.2L287.6 118.4L288 111.6L288.3 104.7L289 97.9L289.8 91L290.7 84.2L290.7 77.3L290.7 70.5L290.7 63.7L290.8 56.8L290.7 50L290.7 43.1L290.7 36.3L290.7 29.4L290.7 22.6ZM367.2 70.5L362.2 77.3L359.7 84.2L362.9 91L367.2 97.9L367.2 97.9L367.2 97.9L373.2 91L374.7 84.2L373.2 77.3L367.2 70.5L367.2 70.5ZM397.2 22.6L412.1 22.6L427.1 22.6L442.1 22.6L457.1 22.6L472.1 22.6L487.1 22.6L493.1 22.6L493.1 29.4L493.1 36.3L493.1 43.1L493.1 50L493.1 56.8L493.1 63.7L493.1 70.5L493.1 77.3L493.1 84.2L493.3 91L493.5 97.9L493.9 104.7L494.6 111.6L487.1 118.4L487.1 118.4L472.1 118.9L465.2 125.2L464.2 132.1L463.8 138.9L463.6 145.8L462 152.6L459.5 159.4L457.1 166.3L454.8 159.4L451.4 152.6L449.9 145.8L449.6 138.9L449.1 132.1L447.7 125.2L442.1 120.2L429.7 118.4L427.1 118.1L426.4 118.4L412.1 120.9L408.8 118.4L403.2 111.6L403.3 104.7L403.5 97.9L403.7 91L403.8 84.2L403.2 77.3L402.6 70.5L401.8 63.7L400.9 56.8L399.2 50L397.2 43.1L397.2 43.1L393.9 36.3L392.8 29.4L392.8 22.6ZM427.1 43.1L425.1 50L423.4 56.8L424.1 63.7L425 70.5L426 77.3L427.1 84.2L427.1 84.2L427.1 84.2L430.1 77.3L432.1 70.5L433.6 63.7L434.6 56.8L432.1 50L427.1 43.1L427.1 43.1ZM472.1 43.1L467.1 50L464.6 56.8L465.4 63.7L466.1 70.5L466.7 77.3L467.1 84.2L469.7 91L472.1 97.9L472.1 97.9L472.1 97.9L475.4 91L477.1 84.2L477.1 77.3L477.1 70.5L477.1 63.7L477.1 56.8L475.1 50L472.1 43.1L472.1 43.1ZM592 22.6L599.5 22.6L607 22.6L610 22.6L610 29.4L609.4 36.3L608.7 43.1L607.9 50L607 56.8L599.5 56.8L592 56.8L591.4 50L590.7 43.1L589.9 36.3L589 29.4L589 22.6ZM547.1 103.3L547.4 104.7L548.7 111.6L547.1 115.6L542.6 111.6L546.1 104.7Z" fill="#9dd93b" stroke="#9dd93b" stroke-width="0.5"/>
<path d="M337.2 22.6L341.5 22.6L341.5 29.4L337.9 36.3L337.2 37.3L336.7 36.3L332.9 29.4L332.9 22.6ZM412.1 22.6L421.4 22.6L421.4 29.4L419.5 36.3L418.1 43.1L416.9 50L415.9 56.8L416.1 63.7L416.4 70.5L416.8 77.3L417.1 84.2L417.6 91L418.1 97.9L418.8 104.7L419.6 111.6L412.1 114.7L409.2 111.6L409.2 104.7L409.3 97.9L409.3 91L409.4 84.2L409.2 77.3L409 70.5L408.7 63.7L408.4 56.8L407.4 50L406.2 43.1L404.8 36.3L402.9 29.4L402.9 22.6ZM337.2 84.2L344 91L347.9 97.9L350 104.7L352.2 111.6L343.9 118.4L339 125.2L337.2 128.7L332.4 125.2L322.2 119.6L321.7 118.4L319.2 111.6L320.4 104.7L322.2 97.9L322.2 97.9L328.9 91ZM457.1 84.2L460.1 91L462.8 97.9L464.1 104.7L462.3 111.6L457.1 116.3L451.9 111.6L448.7 104.7L448.8 97.9L451.4 91ZM292.2 94.4L293.5 97.9L295.4 104.7L295.8 111.6L296.2 118.4L295.2 125.2L293.8 132.1L292.2 138.9L291.2 132.1L290.6 125.2L290.2 118.4L290.6 111.6L290.9 104.7L291.8 97.9ZM457.1 136.9L457.7 138.9L458.9 145.8L457.8 152.6L457.1 154.4L456.4 152.6L455.1 145.8L456.5 138.9Z" fill="#c5e021" stroke="#c5e021" stroke-width="0.5"/>
<path d="M637 186.8L622 183.6L611 180L607 179.2L603.9 173.1L601.8 166.3L600.1 159.4L599.5 158.3L598.6 159.4L594.8 166.3L592 170.2L588.1 173.1L577 178.9L575.1 180L562 186.2L553.1 186.3L547.1 186.3L532.1 185.5L529.3 186.8L517.1 193L515.9 193.7L507.4 200.5L502.1 204.1L495.6 200.5L487.6 193.7L487.1 193.5L486.9 193.7L484 200.5L478.5 207.3L472.1 212.5L457.1 214.2L448.2 207.3L443.5 200.5L442.1 198.5L438.3 200.5L428.2 207.3L427.1 208.1L426.4 207.3L419 200.5L412.1 193.7L412.1 193.7L407.6 186.8L404.4 180L401.7 173.1L398.6 166.3L397.2 164L395 166.3L389.4 173.1L382.2 179.5L376.1 180L367.2 180.9L361.9 186.8L352.2 192.9L350.9 193.7L341.5 200.5L337.2 203.7L322.2 204.4L312.1 207.3L307.2 209.2L292.2 214.2L283.6 207.3L279.2 200.5L277.2 197.4L272.5 200.5L264.2 207.3L262.2 208.7L257.3 214.2L251.9 221L247.3 227.9L244.2 221L241 214.2L237.5 207.3L233.5 200.5L232.3 199.7L225.9 200.5L217.3 203L202.3 204.8L187.3 202.1M637 107.6L635.1 111.6L632.6 118.4L630.8 125.2L628.8 132.1L625.4 138.9L622 143.4L619.1 145.8L609.5 152.6L607 153.8L606.5 152.6L602.6 145.8L599.5 143.6L594.2 145.8L592 147.5L584.1 152.6L577 159.4L577 159.4L563.8 166.3L562 167.2L553.1 170.6L547.1 169.3L532.1 167L517.1 170.8L511.1 173.1L502.1 175.9L487.1 180L487.1 180L473.8 186.8L472.1 188.6L457.1 193.1L449.2 186.8L445.7 180L443.2 173.1L442.1 171.2L427.1 166.3L427.1 166.3L416.4 159.4L412.1 155.6L409.9 152.6L402.7 145.8L397.2 141L389.3 145.8L382.2 150.9L367.2 151.4L365.5 152.6L360.8 159.4L355.6 166.3L352.2 170.1L344.7 173.1L337.2 175.8L322.2 180L307.2 178.8L305.7 180L297.7 186.8L292.2 190.2L288.8 186.8L281.2 180L277.2 175.9L271.2 173.1L263.9 166.3L262.2 164.5L259.4 166.3L247.3 173.1L247.3 173.1L242.7 180L232.3 185L225.3 180L219.7 173.1L217.3 169.4L208.3 166.3L202.3 164.5L187.3 165.2M487.1 159L486.6 159.4L485.1 166.3L487.1 169.1L490.1 166.3L487.7 159.4ZM269.9 22.6L269.9 29.4L269.8 36.3L269.7 43.1L269.7 50L269.6 56.8L269.5 63.7L269.4 70.5L269.2 77.3L269.1 84.2L268.9 91L268.7 97.9L268.5 104.7L268.3 111.6L267.8 118.4L267.1 125.2L267.1 132.1L277.2 137.3L280.5 132.1L282 125.2L282.3 118.4L282.9 111.6L283.1 104.7L283.5 97.9L284 91L284.6 84.2L284.7 77.3L284.7 70.5L284.8 63.7L284.9 56.8L284.8 50L284.7 43.1L284.7 36.3L284.6 29.4L284.6 22.6M637 91.7L625.9 97.9L623 104.7L622 108.8L620.3 111.6L612.9 118.4L607 125.2L607 125.2L600.2 132.1L599.5 132.4L597.8 132.1L592 129.2L577 127L565.8 132.1L562 138.9L562 138.9L555.2 145.8L553.5 152.6L553.1 153.4L552.6 152.6L550.8 145.8L547.1 141.3L543.3 138.9L532.1 132.1L532.1 132.1L517.1 128.8L512.9 132.1L506.6 138.9L503.1 145.8L502.1 146.8L487.1 145.8L487.1 145.8L487.1 145.8L472.1 147.9L470.4 152.6L467.7 159.4L465.2 166.3L462.2 173.1L459.1 180L457.1 181.7L455.9 180L453.8 173.1L451.1 166.3L446.9 159.4L442.1 153.2L441 152.6L432 145.8L427.1 143.2L422.8 138.9L412.1 133.3L410.2 132.1L397.2 125.8L382.2 127.9L375.2 132.1L368.1 138.9L367.2 139.3L352.2 143.7L350.6 145.8L344.2 152.6L339.5 159.4L337.2 161.5L323.4 166.3L322.2 166.6L320.9 166.3L307.2 159.9L298.2 166.3L292.2 173.1L288.8 166.3L282.1 159.4L277.2 153.3L276.8 152.6L274.9 145.8L262.2 139.4L248.1 145.8L247.3 146.2L235.1 152.6L233 159.4L232.3 166.3L231.7 159.4L230.6 152.6L227.3 145.8L217.3 139.8L202.3 140.3L197.4 138.9L187.3 134.8" fill="none" stroke="#000" stroke-width="1.25" stroke-linejoin="round"/>
</g>
<clipPath id="clip_aL"><rect x="187.3" y="315.8" width="449.7" height="266.7"/></clipPath>
<g clip-path="url(#clip_aL)">
<rect x="187.3" y="315.8" width="449.7" height="266.7" fill="#460b5e"/>
<path d="M202.3 309L217.3 309L232.3 309L247.3 309L262.2 309L268.2 309L268.2 315.8L268.2 322.7L268.2 329.5L268.2 336.4L268.2 343.2L268.2 350L268.2 356.9L268.2 363.7L268.2 370.5L270.1 377.4L270.6 384.2L270.8 391.1L271.2 391.9L277.2 393.8L286.2 397.9L292.2 400.9L300.7 404.7L307.2 407.5L313.2 404.7L322.2 400.6L329.2 397.9L337.2 394.2L352.2 394.2L367.2 394.2L368.4 391.1L368.9 384.2L369.9 377.4L373.6 370.5L382.2 365.6L382.7 363.7L382.7 356.9L382.7 350L382.7 343.2L382.7 336.4L382.7 329.5L382.7 322.7L382.7 315.8L382.7 309L397.2 309L412.1 309L427.1 309L442.1 309L457.1 309L472.1 309L482.8 309L482.8 315.8L482.8 322.7L482.8 329.5L482.8 336.4L482.8 343.2L482.8 350L482.8 356.9L482.8 363.7L482.8 370.5L482.8 377.4L487.1 378.7L497.4 384.2L499.5 391.1L500.3 397.9L502.1 402.2L506.8 397.9L511.5 391L517.1 388.5L523.2 384.2L532.1 378.5L547.1 377.4L547.1 377.4L547.6 370.5L548.1 363.7L548.6 356.9L549 350L549.4 343.2L549.8 336.4L550.1 329.5L550.5 322.7L550.8 315.8L550.8 309L562 309L577 309L592 309L607 309L622 309L637 309L637 315.8L637 322.7L637 329.5L637 336.4L637 343.2L637 350L637 356.9L637 363.7L637 370.5L637 377.4L637 384.2L637 391.1L637 397.9L637 404.7L637 411.6L637 418.4L637 425.2L637 432.1L637 438.9L637 445.8L637 452.6L637 459.4L637 466.3L637 473.1L637 479.9L637 486.8L637 493.6L637 500.4L637 507.3L637 514.1L637 521L637 527.8L637 534.6L637 541.5L637 548.3L637 555.1L637 562L637 568.8L637 575.7L637 582.5L622 582.5L607 582.5L592 582.5L577 582.5L562 582.5L547.1 582.5L532.1 582.5L517.1 582.5L502.1 582.5L487.1 582.5L472.1 582.5L457.1 582.5L442.1 582.5L427.1 582.5L412.1 582.5L412.1 582.5L397.2 582.5L397.2 582.5L382.2 582.5L367.2 582.5L352.2 582.5L337.2 582.5L322.2 582.5L307.2 582.5L292.2 582.5L277.2 582.5L271.2 582.5L262.2 582.5L247.3 582.5L232.3 582.5L217.3 582.5L202.3 582.5L187.3 582.5L187.3 575.7L187.3 568.8L187.3 562L187.3 555.1L187.3 548.3L187.3 541.5L187.3 534.6L187.3 527.8L187.3 521L187.3 514.1L187.3 507.3L187.3 500.4L187.3 493.6L187.3 486.8L187.3 479.9L187.3 473.1L187.3 466.3L187.3 459.4L187.3 452.6L187.3 445.8L187.3 438.9L187.3 432.1L187.3 425.2L187.3 418.4L187.3 411.6L187.3 404.7L187.3 397.9L187.3 391.1L187.3 384.2L187.3 377.4L187.3 370.5L187.3 363.7L187.3 356.9L187.3 350L187.3 343.2L187.3 336.4L187.3 329.5L187.3 322.7L187.3 315.8L187.3 309Z" fill="#482071" stroke="#482071" stroke-width="0.5"/>
<path d="M202.3 309L217.3 309L232.3 309L247.3 309L256.5 309L256.5 315.8L256.5 322.7L256.5 329.5L256.5 336.4L256.5 343.2L256.5 350L256.5 356.9L256.5 363.7L256.5 370.5L259.4 377.4L262.2 381.5L263.6 384.2L266.4 391.1L270.1 397.9L271.2 400.5L275.5 404.7L277.2 406.8L286.6 411.6L292.2 414.4L302.2 418.4L307.2 420L311 418.4L322.2 413.3L329.7 411.6L337.2 409L352.2 409L367.2 409L368.7 404.7L371.4 397.9L374.5 391.1L377.8 384.2L382.2 378.7L383.1 377.4L386.7 370.5L388.5 363.7L388.5 356.9L388.5 350L388.5 343.2L388.5 336.4L388.5 329.5L388.5 322.7L388.5 315.8L388.5 309L397.2 309L412.1 309L427.1 309L442.1 309L457.1 309L464.6 309L464.6 315.8L464.6 322.7L464.6 329.5L464.6 336.4L464.6 343.2L464.6 350L464.6 356.9L464.6 363.7L464.6 370.5L467.4 377.4L472.1 380.7L484.1 384.2L487.1 385.1L493.1 391.1L495.9 397.9L499 404.7L501.6 411.6L502.1 412.2L502.8 411.6L508.1 404.7L517.1 398.6L518 397.9L525.7 391.1L532.1 387.1L542.5 391.1L547.1 395.6L555.4 391.1L558.4 384.2L559.6 377.4L559.6 370.5L559.7 363.7L559.8 356.9L559.9 350L559.9 343.2L560 336.4L560.1 329.5L560.1 322.7L560.2 315.8L560.2 309L562 309L577 309L592 309L607 309L622 309L637 309L637 315.8L637 322.7L637 329.5L637 336.4L637 343.2L637 350L637 356.9L637 363.7L637 370.5L637 377.4L637 384.2L637 391.1L637 397.9L637 404.7L637 411.6L637 418.4L637 425.2L637 432.1L637 438.9L637 445.8L637 452.6L637 459.4L637 466.3L637 473.1L637 479.9L637 486.8L637 493.6L637 500.4L637 507.3L637 514.1L637 521L637 527.8L637 534.6L637 541.5L637 548.3L637 555.1L637 556.7L622 560.2L607 557.9L600.7 555.2L592 550.3L587.9 555.1L578.9 562L577 563L562 567.1L547.1 568.1L544.3 568.8L532.1 571.2L525.5 575.7L517.1 578.6L514.1 582.5L502.1 582.5L487.1 582.5L487.1 582.5L476.1 575.7L472.1 573.4L463 568.8L457.1 563.7L447.6 562L442.1 560.8L427.1 562L422 555.1L417.5 548.3L413.7 541.5L412.1 538.4L405.2 541.5L397.2 544.5L394.2 548.3L388.4 555.1L382.2 562L382.2 562L367.2 563L356.3 568.8L352.2 570.8L337.2 574.7L335.2 575.7L322.2 582.5L307.2 582.5L307.2 582.5L292.2 582.5L277.2 582.5L277.2 582.5L271.2 582.5L266.8 575.7L263.3 568.8L262.2 566.5L252.4 562L247.3 559.1L232.3 557.9L217.3 556.1L208.7 555.1L202.3 554.4L187.3 553.2L187.3 548.3L187.3 541.5L187.3 534.6L187.3 527.8L187.3 521L187.3 514.1L187.3 507.3L187.3 500.4L187.3 493.6L187.3 486.8L187.3 479.9L187.3 473.1L187.3 466.3L187.3 459.4L187.3 452.6L187.3 445.8L187.3 438.9L187.3 432.1L187.3 425.2L187.3 418.4L187.3 411.6L187.3 404.7L187.3 397.9L187.3 391.1L187.3 384.2L187.3 377.4L187.3 370.5L187.3 363.7L187.3 356.9L187.3 350L187.3 343.2L187.3 336.4L187.3 329.5L187.3 322.7L187.3 315.8L187.3 309Z" fill="#46337f" stroke="#46337f" stroke-width="0.5"/>
<path d="M202.3 309L217.3 309L232.3 309L247.3 309L249.4 309L249.4 315.8L249.4 322.7L249.4 329.5L249.4 336.4L249.4 343.2L249.4 350L249.4 356.9L249.4 363.7L249.4 370.5L250.1 377.4L251.3 384.2L260.3 391.1L262.2 391.5L266.2 397.9L269.3 404.7L271.2 408.4L273.9 411.6L277.2 416.3L281.4 418.4L292.2 422.5L300.4 425.2L307.2 427.3L312.6 425.2L322.2 421.1L332.2 418.4L337.2 417L352.2 417L367.2 417L370.3 411.6L373.2 404.7L376.8 397.9L380.6 391L382.2 388.8L387.2 384.2L390.7 377.4L393 370.5L394.3 363.7L394.3 356.9L394.3 350L394.3 343.2L394.3 336.4L394.3 329.5L394.3 322.7L394.3 315.8L394.3 309L397.2 309L412.1 309L427.1 309L435.3 309L435.3 315.8L435.3 322.7L435.3 329.5L435.3 336.4L435.3 343.2L435.3 350L435.3 356.9L435.3 363.7L435.3 370.5L435.3 377.4L435.3 384.2L435.3 391.1L436.3 397.9L442.1 404.3L445.8 397.9L446.7 391.1L448.6 384.2L455.1 377.4L457.1 376.5L457.9 377.4L465.9 384.2L472.1 387.2L485.6 391.1L487.1 391.5L491.5 397.9L494.9 404.7L497.8 411.6L502.1 417.6L508 411.6L516 404.7L517.1 404L525 397.9L532.1 393.1L540.1 397.9L544.8 404.7L547.1 408.8L557.2 411.6L562 413.2L562.8 411.6L567.2 404.7L570.3 397.9L575.7 391.1L577 390.1L583.2 384.2L585.8 377.4L592 370.5L592 370.5L592 363.7L592 356.9L592 350L592 343.2L592 336.4L592 329.5L592 322.7L592 315.8L592 309L607 309L622 309L637 309L637 315.8L637 322.7L637 329.5L637 336.4L637 343.2L637 350L637 356.9L637 363.7L637 370.5L637 377.4L637 384.2L637 391.1L637 397.9L637 404.7L637 411.6L637 418.4L637 425.2L637 432.1L637 438.9L637 445.8L637 452.6L637 459.4L637 466.3L637 473.1L637 479.9L637 486.8L637 493.6L637 500.4L637 507.3L637 514.1L637 519.1L633.7 521L622 527.3L607 522.2L605.3 521L598.1 514.1L594.7 507.3L592 503.9L590.1 507.3L587.7 514.1L584.6 521L579.8 527.8L577 531.3L572.9 534.6L562 541.5L562 541.5L547.1 544.5L539.9 548.3L532.1 552.2L529.5 555.1L523.3 562L517.1 568.8L517.1 568.8L510.2 575.7L506.6 582.5L502.1 582.5L496.5 582.5L493.8 575.7L490.5 568.8L487.1 562.4L486.3 562L472.1 555.1L472.1 555.1L466.2 548.3L461.6 541.5L457.1 535.8L454.5 534.6L442.1 529.3L427.1 531.9L422.9 527.8L418.6 521L416.2 514.1L414.5 507.3L412.3 500.4L412.1 500.2L411.8 500.4L403.2 507.3L397.2 510.7L394.1 514.1L389.7 521L382.2 527.8L382.2 527.8L367.2 531.4L363.3 534.6L352.2 541.5L352.2 541.5L346 548.3L337.2 555.1L337.2 555.1L322.2 562L322.2 562L307.2 568.8L307.2 568.8L301.9 575.7L298.4 582.5L292.2 582.5L286.1 582.5L282.5 575.7L277.2 568.8L277.2 568.8L273.2 562L271.2 558.1L269.8 555.1L266.7 548.3L264.2 541.5L262.2 534.6L262.2 534.6L252.9 527.8L247.3 525.1L232.3 522.2L228.9 521L217.3 517.8L204 514.1L202.3 513.7L187.3 510.7L187.3 507.3L187.3 500.4L187.3 493.6L187.3 486.8L187.3 479.9L187.3 473.1L187.3 466.3L187.3 459.4L187.3 452.6L187.3 445.8L187.3 438.9L187.3 432.1L187.3 425.2L187.3 418.4L187.3 411.6L187.3 404.7L187.3 397.9L187.3 391.1L187.3 384.2L187.3 377.4L187.3 370.5L187.3 363.7L187.3 356.9L187.3 350L187.3 343.2L187.3 336.4L187.3 329.5L187.3 322.7L187.3 315.8L187.3 309Z" fill="#404588" stroke="#404588" stroke-width="0.5"/>
<path d="M412.1 309L421.1 309L421.1 315.8L421.4 322.7L421.6 329.5L421.8 336.4L422 343.2L422.2 350L422.4 356.9L422.6 363.7L422.7 370.5L422.9 377.4L423.9 384.2L424.5 391.1L425.8 397.9L426.9 404.7L427.1 405.1L435.9 411.6L442.1 416.2L445.8 411.6L449.7 404.7L453.1 397.9L455.7 391.1L457.1 388.9L461.2 391.1L472.1 394.5L487.1 397.9L487.1 397.9L490.8 404.7L494 411.6L498.5 418.4L502.1 422.1L505.9 418.4L513.3 411.6L517.1 408.4L521.9 404.7L532.1 397.9L540.3 404.7L544.7 411.6L547.1 416L553.3 418.4L562 422.4L564.1 418.4L567.8 411.6L573.6 404.7L577 400.6L580.4 397.9L589.4 391.1L592 388.2L597.2 384.2L607 378.1L607.6 377.4L610.8 370.5L622 364.1L622.4 363.7L626.1 356.9L637 350.4L637 356.9L637 363.7L637 370.5L637 377.4L637 384.2L637 391.1L637 397.9L637 404.7L637 411.6L637 418.4L637 425.2L637 432.1L637 438.9L637 445.8L637 452.6L637 459.4L637 466.3L637 473.1L637 479.9L637 486.8L637 493.6L637 500.4L637 505.4L630.6 507.3L622 511.9L610 507.3L607 505.9L602.6 500.4L597.2 493.6L592 486.8L592 486.8L592 486.8L589.6 493.6L586.1 500.4L580.4 507.3L577 511.6L574.1 514.1L562 521L562 521L547.1 525.2L541.7 527.8L532.1 532.3L530 534.6L525.5 541.5L518.8 548.3L517.1 550.2L513.1 555.1L508.2 562L503.1 568.8L502.1 570.8L501.3 568.8L497.5 562L493.8 555.1L490.2 548.3L489 541.5L488.1 534.6L487.4 527.8L487.1 526.9L486.3 527.8L472.1 534.6L462.8 527.8L457.9 521L457.1 520.1L442.1 514.1L442.1 514.1L442.1 514.1L427.1 517.7L425.1 514.1L422.4 507.3L419.8 500.4L416.5 493.6L412.9 486.8L412.1 485.7L408.1 486.8L397.2 493.6L397.2 493.6L392.9 500.4L386.1 507.3L382.2 511.1L367.2 512.3L365.4 514.1L356.2 521L352.2 523.6L348.7 527.8L337.2 534.6L337.2 534.6L322.2 540.2L318.9 541.5L309.4 548.3L307.2 549.7L304.4 555.1L300.3 562L295.5 568.8L292.2 574.1L289 568.8L284.2 562L280.1 555.1L277.2 550.5L276.1 548.3L272.7 541.5L271.2 537.2L270 534.6L266 527.8L263.7 521L262.2 514.1L262.2 514.1L247.3 511.4L235.5 507.3L232.3 506.3L217.3 502.1L211.3 500.4L202.3 498.8L187.3 493.6L187.3 493.6L187.3 486.8L187.3 479.9L187.3 473.1L187.3 466.3L187.3 459.4L187.3 452.6L187.3 445.8L187.3 438.9L187.3 432.1L187.3 425.2L187.3 418.4L187.3 412.1L202.3 412.4L217.3 418.4L217.3 418.4L217.3 418.4L232.3 412.8L247.3 411.7L247.5 411.6L250.1 404.7L262.2 397.9L265.6 404.7L269 411.6L271.2 415.4L273.4 418.4L277.2 425.2L277.2 425.2L292.2 429.1L302.4 432.1L307.2 433.4L310.1 432.1L322.2 427.3L329.3 425.2L337.2 422.8L352.2 422.4L367.2 422.4L370.3 418.4L374.3 411.6L377.7 404.7L382.2 397.9L382.2 397.9L390 391L397.2 384.2L397.2 384.2L399.3 377.4L401 370.5L402.5 363.7L402.6 356.9L402.8 350L403 343.2L403.2 336.4L403.5 329.5L403.7 322.7L404 315.8L404 309Z" fill="#39558c" stroke="#39558c" stroke-width="0.5"/>
<path d="M637 358.9L637 363.7L637 370.5L637 377.4L637 384.2L637 391.1L637 397.9L637 404.7L637 411.6L637 418.4L637 425.2L637 432.1L637 438.9L637 445.8L637 452.6L637 459.4L637 466.3L637 473.1L637 479.9L637 486.8L637 493.6L637 499.1L622 499.5L612 493.6L607 489.5L604.9 486.8L592 479.9L592 479.9L592 479.9L587 486.8L583.6 493.6L578.7 500.4L577 502.2L569.6 507.3L562 512.8L554.6 514.1L547.1 515.5L536.4 521L532.1 523L525.1 527.8L519.1 534.6L517.1 537L511.1 541.5L504.4 548.3L502.1 551.4L500.4 548.3L497.6 541.5L495.5 534.6L493.9 527.8L491.5 521L487.1 515.2L479.5 521L472.1 526.4L466.4 521L460.2 514.1L457.1 510.7L451 507.3L443.6 500.4L442.1 498.5L427.1 500L424.4 493.6L421.2 486.8L417 479.9L412.1 473.8L409.3 473.1L397.2 466.3L397.2 466.3L397.2 466.3L396 473.1L394.3 479.9L392 486.8L388.4 493.6L382.2 500.4L382.2 500.4L367.2 500.8L361.5 507.3L353.3 514.1L352.2 514.8L345.1 521L337.2 527.5L335.3 527.8L322.2 530.5L307.2 530.2L305.4 534.6L302.2 541.5L298.5 548.3L294.3 555.1L292.2 558.2L290.1 555.1L285.7 548.3L279.5 541.5L277.2 539.4L275.1 534.6L271.6 527.8L271.2 527.1L268.2 521L265.9 514.1L262.4 507.3L262.2 506.9L249.7 500.4L247.3 498.1L232.3 494.9L228.3 493.6L217.3 489.7L202.3 489.9L191 486.8L187.3 485.7L187.3 479.9L187.3 473.1L187.3 466.3L187.3 459.4L187.3 452.6L187.3 445.8L187.3 438.9L187.3 432.1L187.3 425.2L187.3 420.5L202.3 421.5L214.9 425.2L217.3 426.2L222.1 425.2L232.3 423.3L237.3 418.4L247.3 414.6L256 411.6L262.2 405.8L265.1 411.6L268.9 418.4L271.2 421.8L273.4 425.2L277.2 431.4L279.8 432.1L292.2 435.2L305.1 438.9L307.2 439.6L308.2 438.9L322.2 432.4L322.9 432.1L337.2 426.9L352.2 426.3L367.2 426.3L369.1 425.2L374.3 418.4L378.2 411.6L382.2 404.7L382.2 404.7L393 397.9L397.2 394.1L401.1 391.1L407.7 384.2L412.1 377.4L415.7 384.2L417.8 391.1L419.8 397.9L421.5 404.7L424.8 411.6L427.1 415.2L431.7 418.4L442.1 423.7L450 418.4L454.3 411.6L457.1 405.8L464.1 404.7L472.1 404L478.5 404.7L487.1 405.4L490.2 411.6L494.3 418.4L500.7 425.2L502.1 426.3L503.2 425.2L510.3 418.4L517.1 412.6L518.5 411.6L527.5 404.7L532.1 401.6L535.8 404.7L541.3 411.6L545 418.4L547.1 420.8L556.8 425.2L562 427.6L564.2 425.2L568.2 418.4L572.7 411.6L577 407.1L581.2 404.7L590.1 397.9L592 396.5L601.6 391.1L607 387.6L610.6 384.2L616.8 377.4L622 372.9L624.5 370.5L631.3 363.7Z" fill="#32658e" stroke="#32658e" stroke-width="0.5"/>
<path d="M637 366.4L637 370.5L637 377.4L637 384.2L637 391.1L637 397.9L637 404.7L637 411.6L637 418.4L637 425.2L637 432.1L637 438.9L637 445.8L637 452.6L637 459.4L637 466.3L637 473.1L637 479.9L637 486.8L637 493.6L637 495L631 493.6L622 487.6L620.8 486.8L612.9 479.9L607 473.1L607 473.1L592 473.1L592 473.1L586.7 479.9L581.9 486.8L577.6 493.6L577 494.3L567.9 500.4L562 504.6L547.1 507.3L547.1 507.3L534.8 514.1L532.1 515.5L521.1 521L517.1 524.4L509.4 527.8L502.1 532.6L500.4 527.8L498.1 521L494.2 514.1L487.9 507.3L487.1 506.6L486.3 507.3L477.5 514.1L472.1 518.2L468.1 514.1L461.9 507.3L457.1 501.8L455.3 500.4L448.5 493.6L444.1 486.8L442.1 482.9L427.1 481.8L426.2 479.9L422.1 473.1L416.5 466.3L412.1 462.2L397.2 460.3L393.1 466.3L391.1 473.1L388.7 479.9L385.1 486.8L382.2 490.9L367.2 490.2L364.9 493.6L359.5 500.4L352.2 507.3L352.2 507.3L344.5 514.1L337.2 520.3L331.7 521L322.2 522.3L318.6 521L309.4 514.1L307.2 510.8L306 514.1L303.4 521L300.5 527.8L297.2 534.6L293.4 541.5L292.2 543.5L290.7 541.5L284.3 534.6L277.2 529.2L276.6 527.8L272.9 521L271.2 518.2L269.6 514.1L266.4 507.3L262.7 500.4L262.2 499.8L253.8 493.6L248.4 486.8L247.3 484.7L232.3 483.9L222.5 479.9L217.3 477.6L210.9 479.9L202.3 482L194.8 479.9L187.3 477.9L187.3 473.1L187.3 466.3L187.3 459.4L187.3 452.6L187.3 445.8L187.3 438.9L187.3 432.1L187.3 426.6L202.3 427.3L213.8 432.1L217.3 434L226.4 432.1L232.3 430.9L235.7 425.2L245 418.4L247.3 417.6L262.2 413.6L264.8 418.4L269.2 425.2L271.2 428L273.8 432.1L277.2 437.5L283 438.9L292.2 441L307.2 445.7L317.8 438.9L322.2 436.9L331.5 432.1L337.2 430L352.2 428.7L367.2 428.7L373.4 425.2L378.2 418.4L382.2 411.6L382.2 411.6L396.2 404.7L397.2 404L407.4 397.9L412.1 393.3L413.9 397.9L416 404.7L418.9 411.6L422.8 418.4L427.1 424.3L428.9 425.2L442.1 430.4L455.1 425.2L457.1 423.2L463.2 418.4L472.1 414.3L487.1 412.9L490.1 418.4L495.5 425.2L502.1 430L507.4 425.2L514.7 418.4L517.1 416.3L523.6 411.6L532.1 405.4L537.8 411.6L541.6 418.4L547.1 424.6L548.6 425.2L562 431.4L567.6 425.2L572.2 418.4L577 412.2L578.5 411.6L590.2 404.7L592 403.4L602.3 397.9L607 395.2L611.4 391.1L618.6 384.2L622 380.8L625.5 377.4L632.6 370.5Z" fill="#2c738e" stroke="#2c738e" stroke-width="0.5"/>
<path d="M637 374L637 377.4L637 384.2L637 391.1L637 397.9L637 404.7L637 411.6L637 418.4L637 425.2L637 432.1L637 438.9L637 445.8L637 452.6L637 459.4L637 466.3L637 473.1L637 479.9L637 486.8L637 490.9L629.2 486.8L624.9 479.9L622 475.8L619.3 473.1L613.3 466.3L609.5 459.4L607 456.7L604.9 459.4L592 466.3L592 466.3L587.3 473.1L581.4 479.9L577 486.4L576.6 486.8L566.1 493.6L562 496.3L547.1 499.1L544.9 500.4L533.3 507.3L532.1 508L517.1 511.7L502.1 513.8L498.5 507.3L491.3 500.5L487.1 498.1L484.3 500.4L475.6 507.3L472.1 510L469.5 507.3L463.3 500.5L457.6 493.6L457.1 492.9L451.8 486.8L447.4 479.9L444.2 473.1L442.1 467.2L437.7 466.3L427.1 463.5L423.7 459.4L415.6 452.6L412.1 450.5L406.7 452.6L397.2 454.4L393.5 459.4L389.1 466.3L386.3 473.1L383 479.9L382.2 481.3L369.9 479.9L367.2 479.6L367.1 479.9L364.6 486.8L357.9 493.6L352.2 499.8L351.6 500.4L343.9 507.3L337.2 513.1L322.2 514.1L314.6 507.3L310.3 500.4L307.8 493.6L307.2 491.4L306.8 493.6L305.2 500.4L302.9 507.3L299.1 514.1L296.1 521L292.8 527.8L292.2 528.8L291.1 527.8L281.3 521L277.2 518.9L274.5 514.1L271.2 509.3L270.3 507.3L267 500.4L262.7 493.6L262.2 492.6L256.1 486.8L251.8 479.9L248.1 473.1L247.3 471.4L232.3 472.9L218.7 466.3L217.3 465.5L216.4 466.3L204.9 473.1L202.3 474.1L198.5 473.1L187.3 470L187.3 466.3L187.3 459.4L187.3 452.6L187.3 445.8L187.3 438.9L187.3 432.8L202.3 433.1L213.2 438.9L217.3 441.8L230.2 438.9L232.3 438.5L235.8 432.1L240.3 425.2L247.3 420.6L262.2 421.5L264.5 425.2L269.8 432.1L271.2 434.1L274.2 438.9L277.2 443.7L287 445.8L292.2 446.8L307.2 451.8L314.7 445.8L322.2 441.3L325 438.9L337.2 432.9L343.8 432.1L352.2 431L367.2 431L377.8 425.2L382.2 418.4L382.2 418.4L397.2 414L406.6 411.6L412.1 409.3L413 411.6L416 418.4L420 425.2L426 432.1L427.1 433.4L442.1 437L453.3 438.9L457.1 440.6L458 438.9L463.1 432.1L471.1 425.2L472.1 424.6L487.1 420.5L490.4 425.2L498.6 432.1L502.1 433.9L504.2 432.1L511.6 425.2L517.1 420.2L520 418.4L528.8 411.6L532.1 409.2L534.3 411.6L538.3 418.4L543.8 425.2L547.1 428.3L555.3 432.1L562 435.2L564.7 432.1L571 425.2L576.2 418.4L577 417.4L589.8 411.6L592 410.2L603.2 404.7L607 402.7L612.3 397.9L619.5 391.1L622 388.7L626.5 384.2L633.4 377.4Z" fill="#26828e" stroke="#26828e" stroke-width="0.5"/>
<path d="M637 381.8L637 384.2L637 391.1L637 397.9L637 404.7L637 411.6L637 418.4L637 425.2L637 432.1L637 438.9L637 445.8L637 452.6L637 459.4L637 466.3L637 473.1L637 479.9L637 486.8L633.2 479.9L628.9 473.1L623.9 466.3L623.2 459.4L622.7 452.6L622.4 445.8L622.2 438.9L622 438.6L620.9 438.9L607 442.3L605.1 445.8L601 452.6L592 459.4L592 459.4L587.8 466.3L582.5 473.1L577 479L575.9 479.9L565.9 486.8L562 489.2L547.1 491.9L543.6 493.6L532.1 500.4L517.1 499.7L502.1 496.9L496.6 493.6L487.1 490.3L483 493.6L474.2 500.4L472.1 502.1L470.6 500.4L464 493.6L458.9 486.8L457.1 484.1L453.9 479.9L449.8 473.1L450.7 466.3L454.3 459.4L457.1 457.6L458.9 452.6L462 445.8L467.1 438.9L472.1 434.3L477.3 432.1L487.1 428.1L490.9 432.1L502.1 438L508.7 432.1L515.8 425.2L517.1 424L526.4 418.4L532.1 413.5L535 418.4L539.9 425.2L547.1 432.1L547.1 432.1L562 438.9L562 438.9L562 438.9L568 432.1L574.3 425.2L577 421.8L585.2 418.4L592 415.3L603.1 411.6L607 409.7L612.9 404.7L620.5 397.9L622 396.4L627.9 391.1L634.5 384.2ZM247.3 423.7L254.6 425.2L262.2 428.2L265.3 432.1L270.5 438.9L271.2 439.6L275.7 445.8L277.2 448.3L292.2 452.6L292.2 452.6L304.4 459.4L305.7 466.3L306.2 473.1L305.6 479.9L304.4 486.8L303.2 493.6L300.9 500.4L297.5 507.3L292.2 514.1L277.2 510.6L274.9 507.3L271.2 500.4L271.2 500.4L265.5 493.6L262.7 486.8L262.2 484.8L258.9 479.9L255 473.1L251.3 466.3L247.9 459.4L247.3 458.5L238.1 452.6L235.6 445.8L236.8 438.9L240 432.1L244.9 425.2ZM397.2 423.4L412.1 425.2L412.1 425.2L418.3 432.1L412.1 438.9L412.1 438.9L402.4 445.8L397.2 447.9L393.9 452.6L389.1 459.4L385.1 466.3L382.2 472L367.2 470.6L366 473.1L364.2 479.9L360.8 486.8L352.2 493.1L351.2 493.6L344.9 500.4L337.2 506.3L322.2 506.1L316.9 500.4L313 493.6L310.4 486.8L308.7 479.9L307.8 473.1L307.7 466.3L307.8 459.4L310.7 452.6L322.2 445.8L322.2 445.8L330.2 438.9L337.2 435.5L352.2 433.7L367.2 434L371.5 432.1L382.2 425.2L382.2 425.2ZM202.3 438.9L212.3 445.8L213.2 452.6L210.9 459.4L202.3 466.3L187.3 461.9L187.3 459.4L187.3 452.6L187.3 445.8L187.3 438.9Z" fill="#21918c" stroke="#21918c" stroke-width="0.5"/>
<path d="M637 390.4L637 391.1L637 397.9L637 404.7L637 411.6L637 418.4L637 425.2L637 432.1L637 438.9L637 445.8L637 452.6L637 459.4L637 466.3L637 471.9L633.4 466.3L630.7 459.4L628.9 452.6L628.7 445.8L628.4 438.9L625.5 432.1L622 430L617.5 432.1L607 436.2L603.7 438.9L599.2 445.8L592.9 452.6L592 453.3L588.3 459.4L583.6 466.3L577.7 473.1L577 473.8L569.6 479.9L562 484.4L547.1 486.8L547.1 486.8L533.2 493.6L532.1 494.3L522.3 493.6L517.1 493.3L502.1 490L493.6 486.8L487.1 484L483 486.8L474.4 493.6L472.1 495.3L470.4 493.6L464.6 486.8L459.8 479.9L457.1 475.6L455.4 473.1L457.1 469.6L458.4 466.3L461.3 459.4L464.5 452.6L469 445.8L472.1 442.3L480.8 438.9L487.1 436.2L491.7 438.9L502.1 443.3L505.7 438.9L513.2 432.1L517.1 428.3L523.2 425.2L532.1 419.1L536 425.2L542.2 432.1L547.1 434.1L557.6 438.9L562 440.5L565.6 438.9L571.2 432.1L577 425.9L578 425.2L592 419.1L597 418.4L607 415.1L613.1 411.6L621.1 404.7L622 403.9L629.4 397.9L636.4 391.1ZM247.3 428L258 432.1L262.2 433.2L267.1 438.9L271.2 442.7L273.5 445.8L277.2 452L279.1 452.6L291.6 459.4L292.2 460.4L298 466.3L300.9 473.1L301.8 479.9L300.6 486.8L299.5 493.6L296.6 500.4L292.2 507.3L277.2 505.9L273.2 500.5L271.2 497L268.4 493.6L264.8 486.8L263 479.9L262.2 473.8L261.8 473.1L258 466.3L254 459.4L249.4 452.6L247.3 449.3L243.9 445.8L241.6 438.9L244.1 432.1ZM382.2 430.1L397.2 430.7L404.7 432.1L398.8 438.9L397.2 439.9L392.8 445.8L389.2 452.6L384.8 459.4L382.2 464.1L367.2 464.9L366 466.3L363 473.1L361.3 479.9L357.1 486.8L352.2 490.3L345.8 493.6L338.2 500.4L337.2 501.2L331 500.4L322.2 499.1L318.1 493.6L314.6 486.8L312.2 479.9L310.7 473.1L310.1 466.3L310.7 459.4L314.7 452.6L322.2 448.1L325.8 445.8L335.5 438.9L337.2 438.1L352.2 436.6L367.2 437.3L379.1 432.1ZM202.3 445.8L205 452.6L202.3 456L187.3 452.7L187.3 452.6L187.3 452.2Z" fill="#1f9f88" stroke="#1f9f88" stroke-width="0.5"/>
<path d="M637 399.4L637 404.7L637 411.6L637 418.4L637 425.2L637 432.1L637 438.9L637 445.8L637 452.6L637 457L635.1 452.6L634.9 445.8L634.6 438.9L633.5 432.1L622 425.2L622 425.2L622 425.2L607 432.1L607 432.1L598.7 438.9L593.3 445.8L592 447.1L588 452.6L584.5 459.4L579.4 466.3L577 469L572.5 473.1L563.2 479.9L562 480.6L547.1 482.7L534.8 486.8L532.1 488.1L517.1 487.5L513.3 486.8L502.1 485L490 479.9L487.1 478.6L484.8 479.9L474.7 486.8L472.1 488.8L470.3 486.8L465 479.9L460.7 473.1L462.7 466.3L466.1 459.4L470.1 452.6L472.1 449.9L483.6 445.8L487.1 444.4L490.4 445.8L502.1 449.1L505 445.8L510.5 438.9L517.1 432.8L518.9 432.1L532.1 425.2L537.4 432.1L547.1 436.2L553.1 438.9L562 442.1L569.1 438.9L574.4 432.1L577 429.3L582.7 425.2L592 421.1L607 420.6L613.4 418.4L621.6 411.6L622 411.2L630.9 404.7ZM247.3 436L262.2 437.2L263.8 438.9L271.2 445.8L271.2 445.8L275.6 452.6L277.2 454.6L286.8 459.4L291.2 466.3L292.2 468.2L295.5 473.1L298 479.9L296.9 486.8L295.9 493.6L292.2 500.4L292.2 500.4L277.2 503.2L275.2 500.5L271.2 493.6L271.2 493.6L267 486.8L264.4 479.9L263.8 473.1L262.9 466.3L262.2 462.9L260 459.4L255 452.6L250.4 445.8L247.3 440.6L246.4 438.9ZM382.2 435L389.3 438.9L386.4 445.8L384.5 452.6L382.2 456.4L374.1 459.4L367.2 460.8L362.5 466.3L359.9 473.1L358.4 479.9L353.3 486.8L352.2 487.6L340.3 493.6L337.2 496.3L326.1 493.6L322.2 492.2L318.8 486.8L315.8 479.9L313.7 473.1L312.5 466.3L313.6 459.4L318.8 452.6L322.2 450.5L329.4 445.8L337.2 440.5L352.2 439.6L367.2 440.9L373.2 438.9Z" fill="#26ad81" stroke="#26ad81" stroke-width="0.5"/>
<path d="M592 423.2L603.3 425.2L600.2 432.1L593.7 438.9L592 441L587.5 445.8L583.4 452.6L580.8 459.4L577 464.2L574 466.3L567.3 473.1L562 476.9L547.1 478.5L539.6 479.9L532.1 482L517.1 481.6L502.1 480.1L501.8 479.9L487.1 473.1L487.1 466.3L487.1 459.4L502.1 456.5L504.4 452.6L509.9 445.8L515.2 438.9L517.1 437.2L530.8 432.1L532.1 431.4L532.6 432.1L547.1 438.2L548.6 438.9L562 443.7L572.7 438.9L577 433L579.2 432.1L587.3 425.2ZM262.2 441.1L267.2 445.8L271.2 448.8L273.6 452.6L277.2 457L282 459.4L287.2 466.3L290.9 473.1L292.2 476L294.1 479.9L293.2 486.8L292.2 493.6L292.2 493.6L277.2 500.4L273 493.6L271.2 490.2L269.1 486.8L265.9 479.9L265.4 473.1L264.8 466.3L264.2 459.4L262.2 454.7L260.7 452.6L255.8 445.8ZM337.2 442.9L352.2 442.7L367.2 444.6L374.1 445.8L369.9 452.6L367.2 453.6L363.4 459.4L359 466.3L356.9 473.1L355.5 479.9L352.2 484.2L345.9 486.8L337.2 491.6L324.7 486.8L322.2 485.4L319.4 479.9L316.6 473.1L314.9 466.3L316.5 459.4L322.2 453L323.2 452.6L333 445.8ZM472.1 457.4L487.1 459.4L487.1 466.3L487.1 473.1L475.5 479.9L472.1 482.3L470.2 479.9L465.9 473.1L467.1 466.3L470.8 459.4Z" fill="#3aba76" stroke="#3aba76" stroke-width="0.5"/>
<path d="M592 425.2L593.4 432.1L592 433.7L589.9 432.1ZM532.1 437.7L535.4 438.9L547.1 440.8L562 445.2L576.2 438.9L577 437.8L580.9 438.9L581.7 445.8L578.9 452.6L577 459.4L577 459.4L566.8 466.3L562 473.1L562 473.1L547.1 474.1L532.1 475.2L517.1 475.8L511.1 473.1L506.6 466.3L506 459.4L510.1 452.6L514.8 445.8L517.1 442.8L528.5 438.9ZM262.2 445L263.1 445.8L262.2 447.2L261.2 445.8ZM337.2 445.4L352.2 445.8L352.2 445.8L357.6 452.6L357.8 459.4L355.5 466.3L353.9 473.1L352.7 479.9L352.2 480.5L337.2 486.8L326.8 479.9L322.2 478.7L319.5 473.1L317.3 466.3L319.4 459.4L322.2 456.3L330.3 452.6L336.6 445.8ZM271.2 451.9L271.7 452.6L277.2 459.4L277.2 459.4L283.2 466.3L287.5 473.1L290.3 479.9L289.6 486.8L285.9 493.6L277.2 497.5L274.8 493.6L271.2 486.8L271.2 486.8L267.3 479.9L267 473.1L266.6 466.3L267.2 459.4L269.1 452.6ZM472.1 465L474.3 466.3L474.6 473.1L472.1 474.7L471.1 473.1L471.4 466.3Z" fill="#56c667" stroke="#56c667" stroke-width="0.5"/>
<path d="M532.1 444.7L547.1 443.7L554.7 445.8L562 451.6L564.5 452.6L565.8 459.4L562 462.8L554.6 466.3L547.1 468.3L532.1 466.3L517.1 469.9L513.1 466.3L511.6 459.4L515.8 452.6L517.1 450.6L528.8 445.8ZM271.2 457.2L272.8 459.4L277.2 464L279.2 466.3L284.1 473.1L286.3 479.9L286.2 486.8L279.5 493.6L277.2 494.6L276.6 493.6L272.9 486.8L271.2 484.3L268.7 479.9L268.6 473.1L268.5 466.3L270.2 459.4ZM337.2 452.7L352.2 459.4L350.7 466.3L337.2 471.6L322.2 472.6L319.7 466.3L322.2 459.5L322.5 459.4Z" fill="#77d153" stroke="#77d153" stroke-width="0.5"/>
<path d="M532.1 451.8L547.1 447.6L554.1 452.6L550.8 459.4L547.1 461.1L540.4 459.4L532.1 454.5L530.2 452.6ZM271.2 463.3L274.2 466.3L277.2 468.5L280.7 473.1L282.4 479.9L282.8 486.8L277.2 491.6L274.6 486.8L271.2 481.8L270.1 479.9L270.2 473.1L270.3 466.3ZM322.2 465.8L323.7 466.3L322.2 466.7L322 466.3Z" fill="#9dd93b" stroke="#9dd93b" stroke-width="0.5"/>
<path d="M277.2 473.1L278.4 479.9L279.3 486.8L277.2 488.6L276.2 486.8L273.8 479.9Z" fill="#c5e021" stroke="#c5e021" stroke-width="0.5"/>
<path d="M421.1 309L421.1 315.8L421.4 322.7L421.6 329.5L421.8 336.4L422 343.2L422.2 350L422.4 356.9L422.6 363.7L422.7 370.5L422.9 377.4L423.9 384.2L424.5 391.1L425.8 397.9L426.9 404.7L427.1 405.1L435.9 411.6L442.1 416.2L445.8 411.6L449.7 404.7L453.1 397.9L455.7 391.1L457.1 388.9L461.2 391.1L472.1 394.5L487.1 397.9L487.1 397.9L490.8 404.7L494 411.6L498.5 418.4L502.1 422.1L505.9 418.4L513.3 411.6L517.1 408.4L521.9 404.7L532.1 397.9L540.3 404.7L544.7 411.6L547.1 416L553.3 418.4L562 422.4L564.1 418.4L567.8 411.6L573.6 404.7L577 400.6L580.4 397.9L589.4 391.1L592 388.2L597.2 384.2L607 378.1L607.6 377.4L610.8 370.5L622 364.1L622.4 363.7L626.1 356.9L637 350.4M187.3 412.1L202.3 412.4L217.3 418.4L217.3 418.4L217.3 418.4L232.3 412.8L247.3 411.7L247.5 411.6L250.1 404.7L262.2 397.9L265.6 404.7L269 411.6L271.2 415.4L273.4 418.4L277.2 425.2L277.2 425.2L292.2 429.1L302.4 432.1L307.2 433.4L310.1 432.1L322.2 427.3L329.3 425.2L337.2 422.8L352.2 422.4L367.2 422.4L370.3 418.4L374.3 411.6L377.7 404.7L382.2 397.9L382.2 397.9L390 391L397.2 384.2L397.2 384.2L399.3 377.4L401 370.5L402.5 363.7L402.6 356.9L402.8 350L403 343.2L403.2 336.4L403.5 329.5L403.7 322.7L404 315.8L404 309M637 505.4L630.6 507.3L622 511.9L610 507.3L607 505.9L602.6 500.4L597.2 493.6L592 486.8L592 486.8L592 486.8L589.6 493.6L586.1 500.4L580.4 507.3L577 511.6L574.1 514.1L562 521L562 521L547.1 525.2L541.7 527.8L532.1 532.3L530 534.6L525.5 541.5L518.8 548.3L517.1 550.2L513.1 555.1L508.2 562L503.1 568.8L502.1 570.8L501.3 568.8L497.5 562L493.8 555.1L490.2 548.3L489 541.5L488.1 534.6L487.4 527.8L487.1 526.9L486.3 527.8L472.1 534.6L462.8 527.8L457.9 521L457.1 520.1L442.1 514.1L442.1 514.1L442.1 514.1L427.1 517.7L425.1 514.1L422.4 507.3L419.8 500.4L416.5 493.6L412.9 486.8L412.1 485.7L408.1 486.8L397.2 493.6L397.2 493.6L392.9 500.4L386.1 507.3L382.2 511.1L367.2 512.3L365.4 514.1L356.2 521L352.2 523.6L348.7 527.8L337.2 534.6L337.2 534.6L322.2 540.2L318.9 541.5L309.4 548.3L307.2 549.7L304.4 555.1L300.3 562L295.5 568.8L292.2 574.1L289 568.8L284.2 562L280.1 555.1L277.2 550.5L276.1 548.3L272.7 541.5L271.2 537.2L270 534.6L266 527.8L263.7 521L262.2 514.1L262.2 514.1L247.3 511.4L235.5 507.3L232.3 506.3L217.3 502.1L211.3 500.4L202.3 498.8L187.3 493.6L187.3 493.6M187.3 438.9L202.3 438.9L212.3 445.8L213.2 452.6L210.9 459.4L202.3 466.3L187.3 461.9M637 486.8L633.2 479.9L628.9 473.1L623.9 466.3L623.2 459.4L622.7 452.6L622.4 445.8L622.2 438.9L622 438.6L620.9 438.9L607 442.3L605.1 445.8L601 452.6L592 459.4L592 459.4L587.8 466.3L582.5 473.1L577 479L575.9 479.9L565.9 486.8L562 489.2L547.1 491.9L543.6 493.6L532.1 500.4L517.1 499.7L502.1 496.9L496.6 493.6L487.1 490.3L483 493.6L474.2 500.4L472.1 502.1L470.6 500.4L464 493.6L458.9 486.8L457.1 484.1L453.9 479.9L449.8 473.1L450.7 466.3L454.3 459.4L457.1 457.6L458.9 452.6L462 445.8L467.1 438.9L472.1 434.3L477.3 432.1L487.1 428.1L490.9 432.1L502.1 438L508.7 432.1L515.8 425.2L517.1 424L526.4 418.4L532.1 413.5L535 418.4L539.9 425.2L547.1 432.1L547.1 432.1L562 438.9L562 438.9L562 438.9L568 432.1L574.3 425.2L577 421.8L585.2 418.4L592 415.3L603.1 411.6L607 409.7L612.9 404.7L620.5 397.9L622 396.4L627.9 391.1L634.5 384.2L637 381.8M247.3 423.7L254.6 425.2L262.2 428.2L265.3 432.1L270.5 438.9L271.2 439.6L275.7 445.8L277.2 448.3L292.2 452.6L292.2 452.6L304.4 459.4L305.7 466.3L306.2 473.1L305.6 479.9L304.4 486.8L303.2 493.6L300.9 500.4L297.5 507.3L292.2 514.1L277.2 510.6L274.9 507.3L271.2 500.4L271.2 500.4L265.5 493.6L262.7 486.8L262.2 484.8L258.9 479.9L255 473.1L251.3 466.3L247.9 459.4L247.3 458.5L238.1 452.6L235.6 445.8L236.8 438.9L240 432.1L244.9 425.2ZM397.2 423.4L412.1 425.2L412.1 425.2L418.3 432.1L412.1 438.9L412.1 438.9L402.4 445.8L397.2 447.9L393.9 452.6L389.1 459.4L385.1 466.3L382.2 472L367.2 470.6L366 473.1L364.2 479.9L360.8 486.8L352.2 493.1L351.2 493.6L344.9 500.4L337.2 506.3L322.2 506.1L316.9 500.4L313 493.6L310.4 486.8L308.7 479.9L307.8 473.1L307.7 466.3L307.8 459.4L310.7 452.6L322.2 445.8L322.2 445.8L330.2 438.9L337.2 435.5L352.2 433.7L367.2 434L371.5 432.1L382.2 425.2L382.2 425.2ZM592 425.2L593.4 432.1L592 433.7L589.9 432.1ZM532.1 437.7L535.4 438.9L547.1 440.8L562 445.2L576.2 438.9L577 437.8L580.9 438.9L581.7 445.8L578.9 452.6L577 459.4L577 459.4L566.8 466.3L562 473.1L562 473.1L547.1 474.1L532.1 475.2L517.1 475.8L511.1 473.1L506.6 466.3L506 459.4L510.1 452.6L514.8 445.8L517.1 442.8L528.5 438.9ZM262.2 445L263.1 445.8L262.2 447.2L261.2 445.8ZM337.2 445.4L352.2 445.8L352.2 445.8L357.6 452.6L357.8 459.4L355.5 466.3L353.9 473.1L352.7 479.9L352.2 480.5L337.2 486.8L326.8 479.9L322.2 478.7L319.5 473.1L317.3 466.3L319.4 459.4L322.2 456.3L330.3 452.6L336.6 445.8ZM271.2 451.9L271.7 452.6L277.2 459.4L277.2 459.4L283.2 466.3L287.5 473.1L290.3 479.9L289.6 486.8L285.9 493.6L277.2 497.5L274.8 493.6L271.2 486.8L271.2 486.8L267.3 479.9L267 473.1L266.6 466.3L267.2 459.4L269.1 452.6ZM472.1 465L474.3 466.3L474.6 473.1L472.1 474.7L471.1 473.1L471.4 466.3Z" fill="none" stroke="#000" stroke-width="1.25" stroke-linejoin="round"/>
</g>
<clipPath id="clip_bH"><rect x="187.3" y="696.8" width="449.7" height="273.2"/></clipPath>
<g clip-path="url(#clip_bH)">
<rect x="187.3" y="696.8" width="449.7" height="273.2" fill="#460b5e"/>
<path d="M202.3 696.8L217.3 696.8L232.3 696.8L238.3 696.8L243.5 696.8L255.5 696.8L262.2 696.8L277.2 696.8L292.2 696.8L307.2 696.8L322.2 696.8L337.2 696.8L352.2 696.8L367.2 696.8L371.7 696.8L382.2 696.8L397.2 696.8L412.1 696.8L427.1 696.8L442.1 696.8L445.9 696.8L457.1 696.8L461.6 696.8L472.1 696.8L487.1 696.8L502.1 696.8L517.1 696.8L522.3 696.8L526.1 696.8L532.1 696.8L547.1 696.8L562 696.8L577 696.8L592 696.8L598 696.8L607 696.8L619 696.8L625 696.8L632.5 696.8L637 696.8L637 703.6L637 710.5L637 717.3L637 724.1L637 730.9L637 737.8L637 744.6L637 751.4L637 758.3L637 765.1L637 771.9L637 778.8L637 785.6L637 792.4L637 799.2L637 806.1L637 812.9L637 819.7L637 826.6L637 833.4L637 840.2L637 847.1L637 853.9L637 860.7L637 867.5L637 874.4L637 881.2L637 888L637 894.9L637 901.7L637 908.5L637 915.4L637 922.2L637 929L637 935.9L637 942.7L637 949.5L637 956.3L637 963.2L637 970L632.5 970L625 970L619 970L619 970L613.9 963.2L611 956.3L609.2 949.5L607 946.3L602.8 942.7L600.1 935.9L598 933.4L592 932.8L585.5 929L581.5 922.2L579.8 915.4L578.9 908.5L578.3 901.7L577 898.5L562 898.2L547.1 898.3L545.7 901.7L543.2 908.5L541.1 915.4L540.5 922.2L539.7 929L538.7 935.9L537.5 942.7L535.7 949.5L533.2 956.3L532.1 958.6L528.1 963.2L526.1 964.3L522.3 970L517.1 970L510.3 963.2L506.7 956.3L504.6 949.5L503.3 942.7L502.1 935.9L502.1 935.9L495 929L492.2 922.2L490.7 915.4L489.7 908.5L489.1 901.7L488.4 894.9L487.1 891.7L483.5 894.9L482.4 901.7L481.3 908.5L479.8 915.4L478 922.2L475.5 929L472.1 935.9L472.1 935.9L471.7 942.7L471.1 949.5L470.3 956.3L469.5 963.2L468.6 970L461.6 970L457.1 970L445.9 970L442.1 970L427.1 970L415.9 970L414.9 963.2L414.2 956.3L413.7 949.5L413.2 942.7L412.8 935.9L412.1 933.1L404.9 929L401.1 922.2L399.7 915.4L398.8 908.5L398.3 901.7L397.2 898.8L388.5 894.9L382.2 891.8L376.4 888L371.7 884L367.2 885.1L352.2 885.1L349.5 888L346.5 894.9L337.2 899.3L335.4 901.7L334.2 908.5L331 915.4L322.2 919.8L313.4 915.4L310.2 908.5L309 901.7L307.2 898.5L299.7 894.9L295.8 888L292.2 884.8L287.8 888L283 894.9L277.2 897.7L262.2 901.7L262.2 901.7L262 908.5L261.8 915.4L261.6 922.2L261.3 929L261 935.9L260.7 942.7L260.3 949.5L259.9 956.3L259.4 963.2L258.9 970L255.5 970L243.5 970L238.3 970L232.3 970L217.3 970L202.3 970L187.3 970L187.3 963.2L187.3 956.3L187.3 949.5L187.3 942.7L187.3 935.9L187.3 929L187.3 922.2L187.3 915.4L187.3 908.5L187.3 901.7L187.3 894.9L187.3 888L187.3 881.2L187.3 874.4L187.3 867.5L187.3 860.7L187.3 853.9L187.3 847.1L187.3 840.2L187.3 833.4L187.3 826.6L187.3 819.7L187.3 812.9L187.3 806.1L187.3 799.2L187.3 792.4L187.3 785.6L187.3 778.8L187.3 771.9L187.3 765.1L187.3 758.3L187.3 751.4L187.3 744.6L187.3 737.8L187.3 730.9L187.3 724.1L187.3 717.3L187.3 710.5L187.3 703.6L187.3 696.8Z" fill="#482071" stroke="#482071" stroke-width="0.5"/>
<path d="M202.3 696.8L217.3 696.8L232.3 696.8L238.3 696.8L243.5 696.8L255.5 696.8L262.2 696.8L277.2 696.8L292.2 696.8L307.2 696.8L322.2 696.8L337.2 696.8L352.2 696.8L367.2 696.8L371.7 696.8L382.2 696.8L397.2 696.8L412.1 696.8L427.1 696.8L442.1 696.8L445.9 696.8L457.1 696.8L461.6 696.8L472.1 696.8L487.1 696.8L502.1 696.8L517.1 696.8L522.3 696.8L526.1 696.8L532.1 696.8L547.1 696.8L562 696.8L577 696.8L592 696.8L598 696.8L607 696.8L619 696.8L625 696.8L632.5 696.8L637 696.8L637 703.6L637 710.5L637 717.3L637 724.1L637 730.9L637 737.8L637 744.6L637 751.4L637 758.3L637 765.1L637 771.9L637 778.8L637 785.6L637 792.4L637 799.2L637 806.1L637 812.9L637 819.7L637 826.6L637 833.4L637 840.2L637 847.1L637 853.9L637 860.7L637 867.5L637 874.4L637 881.2L637 888L637 894.9L637 901.7L637 908.5L637 915.4L637 922.2L637 929L637 935.9L637 942.7L637 949.5L637 956.3L637 963.2L637 970L632.5 970L625 970L623 970L622.2 963.2L621.2 956.3L619.7 949.5L619 947.2L616.6 942.7L612 935.9L607 930.2L606.1 929L599.1 922.2L598 921.4L592 917.5L590.5 915.4L587 908.5L584.6 901.7L581.6 894.9L579 888L577 882.4L567.3 881.2L562 880.5L553.5 874.4L547.4 867.5L547.1 866.9L546.4 867.5L541.1 874.4L537.7 881.2L535.4 888L533.6 894.9L532.1 901.7L532.1 901.7L530.5 908.5L529.1 915.4L528 922.2L527 929L526.1 935.9L526.1 935.9L523.5 942.7L522.3 949.5L517.1 949.5L515.5 942.7L513.9 935.8L511.6 929L508.5 922.2L504 915.4L502.1 913.1L500 908.5L497.8 901.7L495.1 894.9L492.1 888L489.2 881.2L487.1 875.6L472.1 877.8L471.9 881.2L471.4 888L471 894.9L470.5 901.7L470.1 908.5L469.8 915.4L469.4 922.2L468.9 929L468.3 935.8L467.2 942.7L465.8 949.5L464.2 956.3L463 963.2L461.6 970L457.1 970L457.1 970L445.9 970L442.9 970L442.5 963.2L442.1 956.3L442.1 956.3L442.1 956.3L438.9 963.2L434.6 970L427.1 970L423.4 970L421.3 963.2L419.8 956.3L418.6 949.5L417.4 942.7L416.2 935.9L414.3 929L412.7 922.2L412.1 919.5L409.3 915.4L406.1 908.5L404.2 901.7L401.3 894.9L398.6 888L397.2 884.3L390.9 881.2L382.2 876.5L379.9 874.4L374.1 867.5L371.7 863.9L369.6 867.5L367.2 870.7L352.2 870.7L349.3 874.4L343.3 881.2L337.2 887.2L336.6 888L331.6 894.9L326.6 901.7L322.2 907.7L317.8 901.7L313.5 894.9L309.8 888L307.2 882.4L305.9 881.2L298.4 874.4L292.2 868.8L281.9 874.4L277.2 877.6L262.2 878.9L261.9 881.2L260.8 888L259.5 894.9L258.4 901.7L258 908.5L257.6 915.4L257.2 922.2L256.7 929L256.1 935.9L255.5 942.7L255.5 942.7L249.2 949.5L243.9 956.3L243.5 956.9L242.7 963.2L241.8 970L238.3 970L232.3 970L224.8 970L222.1 963.2L219.2 956.3L217.3 951.8L215.1 949.5L209.8 942.7L205.6 935.8L202.3 929L202.3 929L188.4 922.2L187.3 921.6L187.3 915.4L187.3 908.5L187.3 901.7L187.3 894.9L187.3 888L187.3 881.2L187.3 874.4L187.3 867.5L187.3 860.7L187.3 853.9L187.3 847.1L187.3 840.2L187.3 833.4L187.3 826.6L187.3 819.7L187.3 812.9L187.3 806.1L187.3 799.2L187.3 792.4L187.3 785.6L187.3 778.8L187.3 771.9L187.3 765.1L187.3 758.3L187.3 751.4L187.3 744.6L187.3 737.8L187.3 730.9L187.3 724.1L187.3 717.3L187.3 710.5L187.3 703.6L187.3 696.8Z" fill="#46337f" stroke="#46337f" stroke-width="0.5"/>
<path d="M202.3 696.8L217.3 696.8L232.3 696.8L238.3 696.8L243.5 696.8L255.5 696.8L262.2 696.8L277.2 696.8L292.2 696.8L307.2 696.8L322.2 696.8L337.2 696.8L352.2 696.8L367.2 696.8L371.7 696.8L382.2 696.8L397.2 696.8L412.1 696.8L427.1 696.8L442.1 696.8L445.9 696.8L457.1 696.8L461.6 696.8L472.1 696.8L487.1 696.8L502.1 696.8L517.1 696.8L522.3 696.8L526.1 696.8L532.1 696.8L547.1 696.8L562 696.8L577 696.8L592 696.8L598 696.8L607 696.8L619 696.8L625 696.8L632.5 696.8L637 696.8L637 703.6L637 710.5L637 717.3L637 724.1L637 730.9L637 737.8L637 744.6L637 751.4L637 758.3L637 765.1L637 771.9L637 778.8L637 785.6L637 792.4L637 799.2L637 806.1L637 812.9L637 819.7L637 826.6L637 833.4L637 840.2L637 847.1L637 853.9L637 860.7L637 867.5L637 874.4L637 881.2L637 888L637 894.9L637 901.7L637 908.5L637 915.4L637 922.2L637 929L637 935.9L637 942.7L637 949.5L637 956.3L637 963.2L637 970L632.5 970L626.8 970L626.4 963.2L626.1 956.3L625.7 949.5L625 946.1L623.8 942.7L621.7 935.9L619 929L619 929L613 922.2L607 916.7L605.2 915.4L598 909L597.5 908.5L592 904L590.8 901.7L587.5 894.9L584.6 888L581.9 881.2L579.6 874.4L577 868.5L572 867.5L562 865.7L556.8 860.7L552.3 853.9L548.2 847.1L547.1 845.1L546.4 847.1L541.3 853.9L534.9 860.7L532.1 862.5L531.5 867.5L530.8 874.4L529 881.2L526.6 888L526.1 889L523.6 894.9L522.3 898.7L519.7 901.7L517.1 905.1L512.8 901.7L502.1 895.3L501.9 894.9L498.4 888L495.2 881.2L492 874.4L489.5 867.5L487.1 861.2L486.3 860.7L479.1 853.9L472.1 848L470.5 853.9L470.1 860.7L469.7 867.5L469.3 874.4L468.8 881.2L468.3 888L467.8 894.9L467.3 901.7L466.9 908.5L466.4 915.4L465.9 922.2L465.4 929L464.4 935.9L462.7 942.7L461.6 946.3L457.1 948.1L456.1 949.5L453.4 956.3L452.4 963.2L451.5 970L445.9 970L444.4 970L444.1 963.2L443.9 956.3L443.5 949.5L443.2 942.7L442.2 935.9L442.1 935.4L441.9 935.9L438.1 942.7L434.6 949.5L430.9 956.3L427.1 961.8L425.3 956.3L423.5 949.5L421.5 942.7L419.6 935.9L417.5 929L415.6 922.2L414 915.4L412.7 908.5L412.1 906.3L410.1 901.7L407 894.9L404.1 888L401.3 881.2L398.5 874.4L397.2 871.6L389.8 867.5L382.2 863L380.2 860.7L375.8 853.9L371.7 848L369.1 853.9L367.2 858L352.2 857.5L350 860.7L344 867.5L338.1 874.4L337.2 875.3L333.8 881.2L327.9 888L322.9 894.9L322.2 895.8L321.6 894.9L317.3 888L312.4 881.2L309.1 874.4L307.2 868L306.7 867.5L299.2 860.7L292.2 854.8L278.2 860.7L277.2 861.2L262.2 861.6L260.6 867.5L259.5 874.4L258.4 881.2L257.1 888L255.7 894.9L255.5 895.8L243.5 901.7L243.5 901.7L243.2 908.5L243 915.4L242.6 922.2L242.1 929L241.3 935.8L240 942.7L238.3 948.1L232.3 946.8L228.2 942.7L224 935.8L221.6 929L217.3 922.2L217.3 922.2L211.5 915.4L208.5 908.5L206.5 901.7L205.2 894.9L202.5 888L202.3 887.6L195.3 881.2L187.3 874.8L187.3 874.4L187.3 867.5L187.3 860.7L187.3 853.9L187.3 847.1L187.3 840.2L187.3 833.4L187.3 826.6L187.3 819.7L187.3 812.9L187.3 806.1L187.3 799.2L187.3 792.4L187.3 785.6L187.3 778.8L187.3 771.9L187.3 765.1L187.3 758.3L187.3 751.4L187.3 744.6L187.3 737.8L187.3 730.9L187.3 724.1L187.3 717.3L187.3 710.5L187.3 703.6L187.3 696.8Z" fill="#404588" stroke="#404588" stroke-width="0.5"/>
<path d="M202.3 696.8L217.3 696.8L232.3 696.8L238.3 696.8L243.5 696.8L255.5 696.8L262.2 696.8L277.2 696.8L292.2 696.8L307.2 696.8L322.2 696.8L321 703.6L320.3 710.5L322.2 712.3L323.2 710.5L322.7 703.6L322.2 696.8L337.2 696.8L352.2 696.8L367.2 696.8L371.7 696.8L382.2 696.8L397.2 696.8L412.1 696.8L427.1 696.8L442.1 696.8L445.9 696.8L457.1 696.8L461.6 696.8L472.1 696.8L487.1 696.8L502.1 696.8L517.1 696.8L522.3 696.8L526.1 696.8L532.1 696.8L547.1 696.8L562 696.8L577 696.8L592 696.8L598 696.8L607 696.8L619 696.8L625 696.8L632.5 696.8L637 696.8L637 703.6L637 710.5L637 717.3L637 724.1L637 730.9L637 737.8L637 744.6L637 751.4L637 758.3L637 765.1L637 771.9L637 778.8L637 785.6L637 792.4L637 799.2L637 806.1L637 812.9L637 819.7L637 826.6L637 833.4L637 840.2L637 847.1L637 853.9L637 860.7L637 867.5L637 874.4L637 881.2L637 888L637 894.9L637 901.7L637 908.5L637 915.4L637 922.2L637 929L637 935.9L637 942.7L637 949.5L637 956.3L637 963.2L637 970L632.5 970L630.4 970L630 963.2L629.7 956.3L629.4 949.5L628.4 942.7L627.1 935.8L625 929L625 929L623.4 922.2L619 915.4L619 915.4L612.2 908.5L607 907.4L600.4 901.7L598 897.4L594.9 894.9L592 892.1L590.1 888L587.2 881.2L584.6 874.4L581.7 867.5L578.8 860.7L577 859L562 853.9L562 853.9L554.9 847.1L550.3 840.2L547.1 833.4L547.1 833.4L547.1 833.4L545.3 840.2L542.5 847.1L532.1 853.6L531.9 853.9L531.2 860.7L530.4 867.5L528.6 874.4L526.1 879.6L524.8 881.2L522.3 886L517.1 888L502.1 883L501.2 881.2L497.4 874.4L494.3 867.5L491.4 860.7L488.9 853.9L487.1 849.3L484.3 847.1L475.3 840.2L472.1 836.3L470.6 840.2L468.7 847.1L467.3 853.9L467 860.7L466.6 867.5L466.2 874.4L465.7 881.2L465.2 888L464.7 894.9L464.1 901.7L463.6 908.5L463.1 915.4L462.5 922.2L461.9 929L461.6 930.4L457.6 935.8L457.1 936.3L450.4 942.7L447.9 949.5L446.9 956.3L446.4 963.2L445.9 970L445.7 963.2L445.6 956.3L445.4 949.5L445.2 942.7L444.8 935.9L444.1 929L442.6 922.2L442.1 919.9L441.7 922.2L438.9 929L435.3 935.9L430 942.7L427.1 946.7L425.7 942.7L423 935.9L420.6 929L418.5 922.2L416.8 915.4L415.5 908.5L414.1 901.7L412.5 894.9L412.1 893.6L409.6 888L406.6 881.2L403.6 874.4L400.4 867.5L397.2 860.7L397.2 860.7L385 853.9L382.2 852.1L377.9 847.1L373.5 840.2L371.7 837.9L370.5 840.2L367.2 847.1L352.2 846.2L351.7 847.1L348.5 853.9L342.1 860.7L337.2 865.1L336.1 867.5L333.2 874.4L327.1 881.2L322.2 885.8L318.1 881.2L312.8 874.4L310 867.5L308.2 860.7L307.2 856.9L303.2 853.9L294.4 847.1L292.2 844.9L283.5 847.1L277.2 849.6L262.2 850.2L260.6 853.9L258.6 860.7L257.2 867.5L256.1 874.4L255.5 878L250.8 881.2L243.5 888L243.5 888L242.9 894.9L242.4 901.7L241.9 908.5L241.5 915.4L240.8 922.2L239.7 929L238.3 934.9L232.3 932.7L230.2 929L226.5 922.2L222.2 915.4L217.3 908.5L217.3 908.5L213.6 901.7L211.1 894.9L208.2 888L205.5 881.2L202.8 874.4L202.3 873.8L191.8 867.5L187.3 864.2L187.3 860.7L187.3 853.9L187.3 847.1L187.3 840.2L187.3 833.4L187.3 826.6L187.3 819.7L187.3 812.9L187.3 806.1L187.3 799.2L187.3 792.4L187.3 785.6L187.3 778.8L187.3 771.9L187.3 765.1L187.3 758.3L187.3 751.4L187.3 744.6L187.3 737.8L187.3 730.9L187.3 724.1L187.3 717.3L187.3 710.5L187.3 703.6L187.3 696.8Z" fill="#39558c" stroke="#39558c" stroke-width="0.5"/>
<path d="M202.3 696.8L217.3 696.8L232.3 696.8L238.3 696.8L243.5 696.8L255.5 696.8L262.2 696.8L277.2 696.8L292.2 696.8L307.2 696.8L307.2 696.8L309.2 703.6L310.5 710.5L315 717.3L322.2 721.6L324.7 717.3L328 710.5L328.1 703.6L328.2 696.8L337.2 696.8L352.2 696.8L367.2 696.8L371.7 696.8L382.2 696.8L397.2 696.8L412.1 696.8L427.1 696.8L442.1 696.8L445.9 696.8L457.1 696.8L461.6 696.8L472.1 696.8L487.1 696.8L502.1 696.8L517.1 696.8L522.3 696.8L526.1 696.8L532.1 696.8L547.1 696.8L562 696.8L577 696.8L592 696.8L598 696.8L607 696.8L619 696.8L625 696.8L632.5 696.8L637 696.8L637 703.6L637 710.5L637 717.3L637 724.1L637 730.9L637 737.8L637 744.6L637 751.4L637 758.3L637 765.1L637 771.9L637 778.8L637 785.6L637 792.4L637 799.2L637 806.1L637 812.9L637 819.7L637 826.6L637 833.4L637 840.2L637 847.1L637 853.9L637 860.7L637 867.5L637 874.4L637 881.2L637 888L637 894.9L637 901.7L637 908.5L637 915.4L637 922.2L637 929L637 935.9L637 942.7L637 949.5L637 956.3L637 963.2L637 970L634.5 970L634.1 963.2L633.6 956.3L633.2 949.5L632.7 942.7L632.5 939.6L632.2 935.9L631.6 929L630.8 922.2L630 915.4L628.9 908.5L627.5 901.7L625.8 894.9L625 892.6L619 894.9L619 894.9L611.5 901.7L607 902.6L605.9 901.7L600.3 894.9L598 890.8L595.4 888L592.3 881.2L592 880.2L589.6 874.4L586.7 867.5L583.8 860.7L577 853.9L577 853.9L562 847.4L561.7 847.1L555.9 840.2L551.8 833.4L547.3 826.6L547.1 826.2L546.9 826.6L544.1 833.4L542.3 840.2L538.6 847.1L532.1 851.1L531 853.9L530.2 860.7L529.3 867.5L526.4 874.4L526.1 875L522.3 879.8L519.3 881.2L517.1 882.6L513.7 881.2L503.1 874.4L502.1 873.4L499.1 867.5L495.9 860.7L493.1 853.9L490.3 847.1L487.1 841.9L484.6 840.2L477.6 833.4L472.9 826.6L472.1 825.2L471.1 826.6L467.9 833.4L466.1 840.2L465 847.1L464.2 853.9L463.8 860.7L463.5 867.5L463.1 874.4L462.6 881.2L462.1 888L461.6 893.5L458.2 894.9L457.1 895.3L445.9 894.9L445.9 894.9L442.1 890.8L441.6 894.9L440.6 901.7L439.7 908.5L438.8 915.4L436.8 922.2L433.3 929L428.6 935.9L427.1 937.6L426.4 935.9L423.7 929L421.5 922.2L419.5 915.4L418.3 908.5L417.2 901.7L415.8 894.9L414.1 888L412.1 881.9L411.8 881.2L408.8 874.4L405.7 867.5L402.5 860.7L397.2 853.9L397.2 853.9L386.2 847.1L382.2 844.7L378.6 840.2L373.4 833.4L371.7 832L370.6 833.4L367.2 840.2L352.2 838.5L351.3 840.2L347.8 847.1L343.3 853.9L337.2 859L336.1 860.7L332.9 867.5L328.9 874.4L322.2 880.2L316.5 874.4L312.8 867.5L310.6 860.7L308.6 853.9L307.2 851.2L300.8 847.1L293.6 840.2L292.2 839.2L286.9 840.2L277.2 843L262.2 840.6L257.9 847.1L255.9 853.9L255.5 855.9L243.5 860.7L243.5 860.7L243.2 867.5L242.8 874.4L242.5 881.2L242.3 888L241.8 894.9L241.3 901.7L240.7 908.5L240 915.4L239 922.2L238.3 925.6L235.2 922.2L232.3 915.7L232.1 915.4L227.9 908.5L222.8 901.7L217.3 895.6L217 894.9L214 888L211.1 881.2L208.3 874.4L202.3 867.5L202.3 867.5L191.9 860.7L187.3 859L187.3 853.9L187.3 847.1L187.3 840.2L187.3 833.4L187.3 826.6L187.3 819.7L187.3 812.9L187.3 806.1L187.3 799.2L187.3 792.4L187.3 785.6L187.3 778.8L187.3 771.9L187.3 765.1L187.3 758.3L187.3 751.4L187.3 744.6L187.3 737.8L187.3 730.9L187.3 724.1L187.3 717.3L187.3 710.5L187.3 703.6L187.3 696.8Z" fill="#32658e" stroke="#32658e" stroke-width="0.5"/>
<path d="M202.3 696.8L217.3 696.8L232.3 696.8L238.3 696.8L243.5 696.8L255.5 696.8L262.2 696.8L277.2 696.8L292.2 696.8L292.2 696.8L294.7 703.6L297.2 710.5L299.7 717.3L307.2 720.3L314.2 724.1L322.2 730.9L322.2 730.9L322.2 730.9L326.2 724.1L329.9 717.3L332.8 710.5L333.4 703.6L334.2 696.8L337.2 696.8L352.2 696.8L367.2 696.8L371.7 696.8L382.2 696.8L397.2 696.8L412.1 696.8L427.1 696.8L442.1 696.8L445.9 696.8L457.1 696.8L461.6 696.8L472.1 696.8L487.1 696.8L502.1 696.8L517.1 696.8L517.1 696.8L522.3 696.8L522.3 696.8L526.1 696.8L532.1 696.8L547.1 696.8L562 696.8L577 696.8L592 696.8L598 696.8L607 696.8L619 696.8L625 696.8L625 703.6L625 710.5L625 717.3L625 724.1L625 730.9L625 737.8L625 744.6L625 751.4L625 758.3L625 765.1L624.9 771.9L624.9 778.8L624.8 785.6L624.8 792.4L624.7 799.2L624.6 806.1L624.6 812.9L624.5 819.7L624.4 826.6L624.2 833.4L624 840.2L623.7 847.1L623.2 853.9L622.5 860.7L621.4 867.5L619 874.4L619 874.4L617.7 881.2L616.3 888L613.6 894.9L607 899L603.4 894.9L599.6 888L598 885.3L595.6 881.2L593.3 874.4L592 868.2L591.7 867.6L588.9 860.7L583.9 853.9L577 851.2L567.9 847.1L562 840.9L561.5 840.2L556.6 833.4L551.8 826.6L547.4 819.7L547.1 819.1L546.8 819.7L543.9 826.6L541.2 833.4L539.3 840.2L534.7 847.1L532.1 848.7L530 853.9L529.2 860.7L528.3 867.5L526.1 872.3L523.4 874.4L522.3 875.7L517.1 877.1L512.4 874.4L504.7 867.5L502.1 864.1L500.4 860.7L497.4 853.9L494.5 847.1L489.3 840.2L487.1 835.4L484.8 833.4L478.9 826.6L474.8 819.7L472.1 814.3L465.6 819.7L463.2 826.6L462.2 833.4L461.6 840.2L457.1 840.2L445.9 833.4L445.9 833.4L445.9 833.4L445.4 840.2L444.8 847.1L443.9 853.9L442.1 860.7L442.1 860.7L441 867.5L440 874.4L439.1 881.2L438.2 888L437.3 894.9L436.5 901.7L435.7 908.5L434.7 915.4L431.8 922.2L427.6 929L427.1 929.7L426.9 929L424.4 922.2L422.2 915.4L421.1 908.5L420.2 901.7L419.1 894.9L417.8 888L416 881.2L413.8 874.4L412.1 870.3L410.9 867.5L407.8 860.7L403.4 853.9L397.2 847.1L397.2 847.1L385.8 840.2L382.2 838.2L378.4 833.4L371.7 827.9L367.2 833.4L352.2 831.4L351 833.4L347.3 840.2L343.9 847.1L338 853.9L337.2 854.6L333.2 860.7L329.6 867.5L324.6 874.4L322.2 876.4L320.2 874.4L315.6 867.5L313 860.7L310.8 853.9L307.2 847.1L307.2 847.1L298.7 840.2L292.2 835.4L277.2 837.5L265.7 833.4L262.2 831.4L255.5 833.4L243.5 833.4L243.5 833.4L243.1 840.2L242.7 847.1L242.4 853.9L242 860.7L241.8 867.5L241.5 874.4L241.2 881.2L241 888L240.6 894.9L240.2 901.7L239.4 908.5L238.5 915.4L238.3 916.7L237.5 915.4L234.6 908.5L232.9 901.7L232.3 898.3L229.7 894.9L223.5 888L217.3 882.6L216.7 881.2L213.8 874.4L209.2 867.5L202.3 862.1L200.2 860.7L187.3 855.9L187.3 853.9L187.3 847.1L187.3 840.2L187.3 833.4L187.3 826.6L187.3 819.7L187.3 812.9L187.3 806.1L187.3 799.2L187.3 792.4L187.3 785.6L187.3 778.8L187.3 771.9L187.3 765.1L187.3 758.3L187.3 751.4L187.3 744.6L187.3 737.8L187.3 730.9L187.3 724.1L187.3 717.3L187.3 710.5L187.3 703.6L187.3 696.8ZM637 696.8L637 703.6L637 710.5L637 717.3L637 724.1L637 730.9L637 737.8L637 744.6L637 751.4L637 758.3L637 765.1L637 771.9L637 778.8L637 785.6L637 792.4L637 799.2L637 806.1L637 812.9L637 819.7L637 826.6L637 833.4L637 840.2L637 847.1L637 853.9L637 860.7L637 867.5L637 874.4L637 881.2L637 888L637 894.9L637 901.7L637 908.5L637 915.4L637 922.2L637 927.3L636.7 922.2L636.2 915.4L635.8 908.5L635.3 901.7L635 894.9L634.8 888L634.5 881.2L634.2 874.4L633.9 867.5L633.6 860.7L633.3 853.9L633.1 847.1L632.8 840.2L632.5 833.4L632.5 826.6L632.5 819.7L632.5 812.9L632.5 806.1L632.5 799.2L632.5 792.4L632.5 785.6L632.5 778.8L632.5 771.9L632.5 765.1L632.5 758.3L632.5 751.4L632.5 744.6L632.5 737.8L632.5 730.9L632.5 724.1L632.5 717.3L632.5 710.5L632.5 703.6L632.5 696.8Z" fill="#2c738e" stroke="#2c738e" stroke-width="0.5"/>
<path d="M202.3 696.8L217.3 696.8L232.3 696.8L238.3 696.8L243.5 696.8L255.5 696.8L262.2 696.8L274 696.8L274.4 703.6L274.7 710.5L274.9 717.3L275.1 724.1L275.4 730.9L277.2 736L281.6 730.9L285.2 724.1L292.2 720.9L300.4 724.1L307.2 726.3L313.8 730.9L321.6 737.8L322.2 738.5L322.5 737.8L325.8 730.9L331.7 724.1L335.2 717.3L337.2 711.7L337.4 710.5L337.9 703.6L338.4 696.8L352.2 696.8L367.2 696.8L371.7 696.8L382.2 696.8L397.2 696.8L412.1 696.8L427.1 696.8L442.1 696.8L445.9 696.8L457.1 696.8L461.1 696.8L461.1 703.6L461.1 710.5L461.1 717.3L461.1 724.1L461.6 727.8L463.2 724.1L464.2 717.3L472.1 710.5L479.2 717.3L481.2 724.1L481.9 730.9L482.4 737.8L487.1 744.5L489.8 737.8L490.8 730.9L493.3 724.1L496.9 717.3L502.1 711.7L512.5 717.3L517.1 720.2L518.5 724.1L520.3 730.9L522.1 737.8L522.3 738.7L522.4 737.8L523 730.9L523.2 724.1L523.5 717.3L523.9 710.5L524.8 703.6L526.1 700.4L526.8 696.8L532.1 696.8L547.1 696.8L562 696.8L577 696.8L592 696.8L598 696.8L607 696.8L619 696.8L622.6 696.8L622.6 703.6L622.6 710.5L622.6 717.3L622.6 724.1L622.6 730.9L622.6 737.8L622.6 744.6L622.6 751.4L622.6 758.3L622.6 765.1L622.5 771.9L622.5 778.8L622.4 785.6L622.3 792.4L622.2 799.2L622.2 806.1L622.1 812.9L622 819.7L621.7 826.6L621.3 833.4L620.7 840.2L619.8 847.1L619 851.6L618.6 853.9L617.4 860.7L616.4 867.5L615.4 874.4L613.9 881.2L612.3 888L608.1 894.9L607 895.6L606.4 894.9L602.8 888L599.1 881.2L598 879.8L595.6 874.4L594 867.5L592.7 860.7L592 856.3L590.7 853.9L577 848.4L574 847.1L565.5 840.2L562 834.4L561.3 833.4L556.3 826.6L551.4 819.7L547.6 812.9L547.1 811.9L546.6 812.9L543.5 819.7L540.8 826.6L538.3 833.4L536.3 840.2L532.1 845.8L531.6 847.1L529 853.9L528.1 860.7L527.2 867.5L526.1 869.9L522.3 871.6L517.1 871.6L511.8 867.5L504.5 860.7L502.1 854.9L501.6 853.9L498.6 847.1L492.3 840.2L488.9 833.4L487.1 829L484.9 826.6L480.2 819.7L476.6 812.9L473.4 806.1L472.1 803.3L464.7 799.2L461.6 796.1L457.1 794.7L448.6 792.4L445.9 791.5L445.8 792.4L445.4 799.2L444.9 806.1L444.6 812.9L444.2 819.7L443.7 826.6L443 833.4L442.1 839.5L441.9 840.2L440 847.1L438.4 853.9L437.1 860.7L436.2 867.5L435.4 874.4L434.7 881.2L433.9 888L433.1 894.9L432.4 901.7L431.7 908.5L430.5 915.4L427.1 921.8L424.9 915.4L424 908.5L423.3 901.7L422.5 894.9L421.4 888L420.1 881.2L418.6 874.4L416.5 867.5L413.4 860.7L412.1 858.7L409.6 853.9L404.7 847.1L397.2 840.2L397.2 840.2L385.3 833.4L382.2 831.7L376.5 826.6L371.7 823.8L367.2 826.6L352.2 824.2L350.7 826.6L346.9 833.4L343.4 840.2L339.9 847.1L337.2 850.1L334.8 853.9L330.4 860.7L326.4 867.5L322.2 872.6L318.5 867.5L315.4 860.7L312.9 853.9L309.6 847.1L307.2 843L303.8 840.2L294.5 833.4L292.2 831.8L277.2 832L267.1 826.6L262.2 822.1L257.3 819.7L255.5 818.4L243.5 818.4L243.4 819.7L242.6 826.6L241.8 833.4L241.4 840.2L241.1 847.1L240.8 853.9L240.6 860.7L240.3 867.5L240.1 874.4L239.9 881.2L239.7 888L239.5 894.9L239 901.7L238.3 907.8L236.1 901.7L234.9 894.9L233.8 888L232.4 881.2L232.3 880.9L224.7 874.4L217.3 869.6L216.2 867.5L210.1 860.7L202.3 856.6L193.3 853.9L187.3 852.9L187.3 847.1L187.3 840.2L187.3 833.4L187.3 826.6L187.3 819.7L187.3 812.9L187.3 806.1L187.3 799.2L187.3 792.4L187.3 785.6L187.3 778.8L187.3 771.9L187.3 765.1L187.3 758.3L187.3 751.4L187.3 744.6L187.3 737.8L187.3 730.9L187.3 724.1L187.3 717.3L187.3 710.5L187.3 703.6L187.3 696.8Z" fill="#26828e" stroke="#26828e" stroke-width="0.5"/>
<path d="M202.3 696.8L217.3 696.8L232.3 696.8L238.3 696.8L243.5 696.8L255.5 696.8L262.2 696.8L267.5 696.8L268.6 703.6L269.5 710.5L270.2 717.3L270.8 724.1L271.7 730.9L274.1 737.8L276.7 744.6L277.2 746L278.7 744.6L285 737.8L290.3 730.9L292.2 729.1L299.5 730.9L307.2 732.1L314.6 737.8L321.2 744.6L322.2 745.7L322.8 744.6L325.4 737.8L329.3 730.9L337.2 724.1L337.2 724.1L338.9 717.3L340 710.5L340.5 703.6L340.9 696.8L352.2 696.8L367.2 696.8L371.7 696.8L382.2 696.8L397.2 696.8L412.1 696.8L427.1 696.8L442.1 696.8L445.9 696.8L457.1 696.8L458.4 696.8L458.5 703.6L458.5 710.5L458.5 717.3L458.6 724.1L459 730.9L459.7 737.8L461 744.6L461.6 746.7L462.5 744.6L466.4 737.8L469.2 730.9L471.4 724.1L472.1 722.8L472.9 724.1L474.5 730.9L475.8 737.8L478.7 744.6L483.8 751.4L487.1 753.5L488 751.4L490.5 744.6L493.6 737.8L496.2 730.9L502.1 724.1L514.6 730.9L517.1 732.9L518.9 737.8L520.8 744.6L522 751.4L522.3 752.2L522.6 751.4L523.2 744.6L523.8 737.8L524.3 730.9L524.6 724.1L525.1 717.3L525.8 710.5L526.1 708.9L527.1 703.6L528.3 696.8L532.1 696.8L547.1 696.8L562 696.8L577 696.8L592 696.8L598 696.8L607 696.8L619 696.8L620.2 696.8L620.2 703.6L620.2 710.5L620.2 717.3L620.2 724.1L620.2 731L620.2 737.8L620.2 744.6L620.2 751.4L620.2 758.3L620.2 765.1L620.1 771.9L620 778.8L620 785.6L619.9 792.4L619.8 799.2L619.7 806.1L619.6 812.9L619.5 819.7L619 826.6L619 826.6L618 833.4L616.7 840.2L615.6 847.1L614.5 853.9L613.5 860.7L612.6 867.5L611.7 874.4L610.1 881.2L608.2 888L607 889.9L606.1 888L603.5 881.2L598 874.4L598 874.4L596 867.5L594.5 860.7L593.6 853.9L592.6 847.1L592 846.3L577 845.7L569.3 840.2L564.6 833.4L562 828.3L560.8 826.6L555.3 819.7L551.1 812.9L547.7 806.1L547.1 805.6L546.4 806.1L543.2 812.9L540.3 819.7L537.7 826.6L535.4 833.4L533.4 840.2L532.1 841.9L530.2 847.1L528 853.9L527.1 860.7L526.1 867.5L522.3 867.5L517.1 866.9L508.3 860.7L504.7 853.9L502.5 847.1L502.1 846.6L495.3 840.2L491.5 833.4L489 826.6L487.1 821.9L485.5 819.7L481.8 812.9L478.4 806.1L475.1 799.2L472.1 792.4L472.1 792.4L468.3 785.6L463.8 778.8L461.6 775.5L457.1 771.9L457.1 771.9L450.8 765.1L445.9 763.7L445.6 765.1L445.1 771.9L444.7 778.8L444.3 785.6L444 792.4L443.5 799.2L443 806.1L442.6 812.9L442.1 818.1L441.4 819.7L438.7 826.6L436.8 833.4L435.2 840.2L434 847.1L432.9 853.9L432 860.7L431.4 867.5L430.8 874.4L430.2 881.2L429.5 888L428.9 894.9L428.2 901.7L427.6 908.5L427.1 911.3L426.8 908.5L426.3 901.7L425.8 894.9L425.1 888L424.3 881.2L423.4 874.4L422.2 867.5L420.4 860.7L417.6 853.9L412.1 847.1L412.1 847.1L408.1 840.2L397.2 833.4L397.2 833.4L383.9 826.6L382.2 825.6L371.7 819.7L371.7 819.7L367.2 819.7L352.2 818L350.4 819.7L346.3 826.6L342.7 833.4L339.5 840.2L337.2 844.7L336.2 847.1L331.9 853.9L327.5 860.7L323.2 867.5L322.2 868.7L321.3 867.6L317.8 860.7L315 853.9L312 847.1L308.2 840.2L307.2 839.1L299.4 833.4L292.2 828.2L277.2 826.6L277.2 826.6L266 819.7L262.2 812.9L262.2 812.9L256.8 806.1L255.5 805L243.5 803.7L243.2 806.1L242.4 812.9L241.6 819.7L240.8 826.6L240 833.4L239.8 840.2L239.5 847.1L239.3 853.9L239.1 860.7L238.9 867.5L238.8 874.4L238.6 881.2L238.5 888L238.3 894.9L238.3 896L238.1 894.9L237.6 888L237 881.2L236 874.4L234.2 867.5L232.3 863.5L227.3 860.7L217.3 857.5L211 853.9L202.3 852.2L187.3 850L187.3 847.1L187.3 840.2L187.3 833.4L187.3 826.6L187.3 819.7L187.3 812.9L187.3 806.1L187.3 799.2L187.3 792.4L187.3 785.6L187.3 778.8L187.3 771.9L187.3 765.1L187.3 758.3L187.3 751.4L187.3 744.6L187.3 737.8L187.3 730.9L187.3 724.1L187.3 717.3L187.3 710.5L187.3 703.6L187.3 696.8Z" fill="#21918c" stroke="#21918c" stroke-width="0.5"/>
<path d="M202.3 696.8L217.3 696.8L232.3 696.8L238.3 696.8L243.5 696.8L255.5 696.8L261.5 696.8L262.2 701.4L262.8 703.6L264.3 710.5L265.5 717.3L266.5 724.1L268 730.9L270.3 737.8L272.8 744.6L275.3 751.4L277.2 755.9L282.5 751.4L289.1 744.6L292.2 740.9L304 737.8L307.2 737.4L307.7 737.8L315.3 744.6L321.9 751.4L322.2 751.8L322.4 751.4L326.1 744.6L328.3 737.8L332.9 731L337.2 727.2L340.2 724.1L341.6 717.3L342.6 710.5L343 703.6L343.4 696.8L352.2 696.8L367.2 696.8L371.7 696.8L382.2 696.8L397.2 696.8L412.1 696.8L411.5 703.6L411 710.5L410.4 717.3L409.9 724.1L409.3 730.9L408.5 737.8L407.5 744.6L408 751.4L408.9 758.3L409.8 765.1L411 771.9L412.1 777.2L415.3 771.9L415.9 765.1L416.2 758.3L416.4 751.4L416.2 744.6L415.9 737.8L415.6 730.9L415.2 724.1L414.5 717.3L414.1 710.5L413.4 703.6L412.1 696.8L427.1 696.8L442.1 696.8L445.9 696.8L445.9 703.6L445.9 710.5L445.9 717.3L445.9 724.1L445.9 730.9L445.9 737.8L445.9 744.6L445.9 751.4L443.6 758.3L443 765.1L442.7 771.9L442.5 778.8L442.3 785.6L442.1 792.4L442.1 792.4L436.4 799.2L433.6 806.1L432 812.9L430.8 819.7L430 826.6L429.4 833.4L428.6 840.2L427.9 847.1L427.4 853.9L427.1 857.3L426.7 853.9L425.4 847.1L423.3 840.2L419 833.4L412.2 828.8L397.2 829.3L391.8 826.6L382.2 820.8L380.2 819.7L371.7 816L367.2 815.6L352.2 813.3L345.7 819.7L341.9 826.6L338.6 833.4L337.2 836.5L335.7 840.2L332.9 847.1L329 853.9L324.6 860.7L322.2 864.5L320.2 860.7L317.1 853.9L314.4 847.1L311.2 840.2L307.2 835.5L304.3 833.4L294.9 826.6L292.2 824.9L277.2 823.5L271.1 819.7L265.9 812.9L263.1 806.1L262.2 804L256.2 799.2L255.5 799L244.3 792.4L243.5 791.1L243.3 792.4L242.3 799.2L241.4 806.1L240.6 812.9L239.8 819.7L239 826.6L238.3 833.4L238.3 833.4L236.8 840.2L232.3 846L229.6 847.1L217.3 849.1L202.3 848.8L187.3 847.1L187.3 847.1L187.3 840.2L187.3 833.4L187.3 826.6L187.3 819.7L187.3 812.9L187.3 806.1L187.3 799.2L187.3 792.4L187.3 785.6L187.3 778.8L187.3 771.9L187.3 765.1L187.3 758.3L187.3 751.4L187.3 744.6L187.3 737.8L187.3 730.9L187.3 724.1L187.3 717.3L187.3 710.5L187.3 703.6L187.3 696.8ZM532.1 696.8L547.1 696.8L562 696.8L577 696.8L592 696.8L598 696.8L607 696.8L616 696.8L616.1 703.6L616.1 710.5L616.1 717.3L616.2 724.1L616.2 730.9L616.2 737.8L616.3 744.6L616.3 751.4L616.3 758.3L616.3 765.1L616.2 771.9L616.1 778.8L615.9 785.6L615.6 792.4L615.3 799.2L615.1 806.1L614.8 812.9L614.5 819.7L613.7 826.6L612.9 833.4L612 840.2L611.3 847.1L610.4 853.9L609.6 860.7L608.8 867.5L608.1 874.4L607 878.5L604.9 874.4L598 867.5L598 867.5L596.2 860.7L595.7 853.9L594.9 847.1L592 842.7L577 843L573.2 840.2L567.6 833.4L564.6 826.6L562 823.2L559.2 819.7L554.6 812.9L550.9 806.1L547.1 802.8L542.8 806.1L539.8 812.9L537.1 819.7L534.7 826.6L532.5 833.4L532.1 834.8L531.1 840.2L528.8 847.1L527.1 853.9L526.1 860.7L526.1 860.7L522.3 863.1L517.1 864.2L512.2 860.7L507.5 853.9L505.4 847.1L502.1 843.8L498.3 840.2L494 833.4L491.9 826.6L489.5 819.7L487.1 813.1L487 812.9L483.4 806.1L480 799.2L476.8 792.4L475.3 785.6L474.2 778.8L473.6 771.9L474.4 765.1L487.1 760.5L488.4 758.3L491.4 751.4L494 744.6L497.4 737.8L501.5 730.9L502.1 730.3L503.3 730.9L513.2 737.8L517.1 740.9L518.4 744.6L520 751.4L522.3 756.2L524.2 751.4L524.7 744.6L525.2 737.8L525.7 730.9L526.1 724.1L526.1 724.1L527.2 717.3L528.1 710.5L529.1 703.6L529.8 696.8Z" fill="#1f9f88" stroke="#1f9f88" stroke-width="0.5"/>
<path d="M202.3 696.8L217.3 696.8L232.3 696.8L238.3 696.8L243.5 696.8L255.5 696.8L257.5 696.8L258.9 703.6L260.2 710.5L261.3 717.3L262.2 724.1L262.2 724.1L264.3 730.9L266.5 737.8L268.8 744.6L271.1 751.4L273.4 758.3L276.8 765.1L277.2 765.8L278.3 765.1L287.2 758.3L292.2 753.5L293.5 751.4L301.8 744.6L307.2 742.6L309.5 744.6L316.5 751.4L322.2 757.6L326.5 751.4L329.4 744.6L331.2 737.8L336.4 730.9L337.2 730.3L343.2 724.1L344.4 717.3L345.1 710.5L345.5 703.6L345.9 696.8L352.2 696.8L367.2 696.8L371.7 696.8L382.2 696.8L397.2 696.8L407.2 696.8L406.7 703.6L406.2 710.5L405.8 717.3L405.3 724.1L404.2 730.9L402.6 737.8L400.6 744.6L401.2 751.4L402 758.3L402.8 765.1L405.4 771.9L407.5 778.8L408.9 785.6L410.2 792.4L411.4 799.2L411.7 806.1L410.4 812.9L408.1 819.7L397.2 825.2L387.7 819.7L382.2 816.3L373.7 812.9L371.7 812.2L367.2 811.5L352.2 809.5L346.7 812.9L341 819.7L337.5 826.6L337.2 827.3L334.5 833.4L332 840.2L329.6 847.1L326.2 853.9L322.2 860L319.3 853.9L316.8 847.1L314.2 840.2L308.9 833.4L307.2 832L299.6 826.6L292.2 821.8L277.2 820.4L276.1 819.7L269.5 812.9L266.9 806.1L264.2 799.2L262.2 795.2L255.5 794.6L251.8 792.4L246.4 785.6L243.5 778.8L243.5 778.8L243.5 778.8L242.4 785.6L241.4 792.4L240.5 799.2L239.6 806.1L238.8 812.9L238.3 817.9L237.1 819.7L233.3 826.6L232.3 828.6L229.3 833.4L220.5 840.2L217.3 841.6L202.3 845.7L187.3 844.3L187.3 840.2L187.3 833.4L187.3 826.6L187.3 819.7L187.3 812.9L187.3 806.1L187.3 799.2L187.3 792.4L187.3 785.6L187.3 778.8L187.3 771.9L187.3 765.1L187.3 758.3L187.3 751.4L187.3 744.6L187.3 737.8L187.3 730.9L187.3 724.1L187.3 717.3L187.3 710.5L187.3 703.6L187.3 696.8ZM427.1 696.8L433.1 703.6L435.7 710.5L437.1 717.3L437 724.1L436.8 730.9L436.6 737.8L436.4 744.6L434.9 751.4L432 758.3L427.6 765.1L427.1 765.6L426.9 765.1L424.8 758.3L423.4 751.4L422.3 744.6L422 737.8L421.7 730.9L421.3 724.1L420.8 717.3L421.9 710.5L423.7 703.6ZM532.1 696.8L547.1 696.8L562 696.8L577 696.8L592 696.8L598 696.8L607 696.8L610 696.8L610.1 703.6L610.2 710.5L610.3 717.3L610.4 724.1L610.5 730.9L610.6 737.8L610.7 744.6L610.8 751.4L610.9 758.3L611 765.1L611 771.9L611.1 778.8L610.7 785.6L610.4 792.4L610 799.2L609.6 806.1L609.2 812.9L608.8 819.7L608.3 826.6L607.8 833.4L607.4 840.2L607 847.1L607 847.1L602.4 853.9L598 860.7L597.7 853.9L597.2 847.1L594.2 840.2L592 839.4L577 840.2L570.7 833.4L568.1 826.6L563.3 819.7L562 818.4L558.1 812.9L554.2 806.1L547.1 800L539.2 806.1L536.4 812.9L533.9 819.7L532.1 825.2L531.8 826.6L530.5 833.4L529.4 840.2L527.5 847.1L526.1 853.9L526.1 853.9L522.3 858.7L519.1 860.7L517.1 861.5L516 860.7L510.4 853.9L508.2 847.1L502.1 841L501.2 840.2L496.6 833.4L494.9 826.6L492.9 819.7L490.8 812.9L488.2 806.1L487.1 803.7L484.8 799.2L481.5 792.4L479.6 785.6L478.7 778.8L481.1 771.9L487.1 766.8L488.2 765.1L491.9 758.3L494.7 751.4L497.5 744.6L501.2 737.8L502.1 736.4L504.1 737.8L513.1 744.6L517.1 748L518 751.4L521 758.3L522.3 759.6L524.2 758.3L525.8 751.4L526.1 746.9L526.5 744.6L527.8 737.8L528.7 730.9L529.3 724.1L530 717.3L530.5 710.5L531 703.6L531.3 696.8Z" fill="#26ad81" stroke="#26ad81" stroke-width="0.5"/>
<path d="M202.3 696.8L217.3 696.8L232.3 696.8L238.3 696.8L243.5 696.8L243.4 703.6L243.4 710.5L243.3 717.3L243.3 724.1L243.2 730.9L243.2 737.8L243.2 744.6L243.1 751.4L242.7 758.3L242.2 765.1L241.8 771.9L241.3 778.8L240.4 785.6L239.5 792.4L238.6 799.2L238.3 802.4L235.6 806.1L232.3 811.2L231.2 812.9L228.1 819.7L225.2 826.6L218.3 833.4L217.3 834.1L210.5 840.2L202.3 843L187.3 841.6L187.3 840.2L187.3 833.4L187.3 826.6L187.3 819.7L187.3 812.9L187.3 806.1L187.3 799.2L187.3 792.4L187.3 785.6L187.3 778.8L187.3 771.9L187.3 765.1L187.3 758.3L187.3 751.4L187.3 744.6L187.3 737.8L187.3 730.9L187.3 724.1L187.3 717.3L187.3 715.6L202.3 717L206.2 710.5L203 703.6L202.3 702.5L187.3 703.6L187.3 696.8ZM352.2 696.8L367.2 696.8L371.7 696.8L382.2 696.8L397.2 696.8L402.2 696.8L401.8 703.6L401.4 710.5L401.1 717.3L400.8 724.1L399 730.9L397.2 736.7L396.8 737.8L394.9 744.6L395.3 751.4L395.8 758.3L396.2 765.1L397.2 767.1L399.8 771.9L402.5 778.8L404.1 785.6L405.6 792.4L406.3 799.2L405.9 806.1L404.3 812.9L399.9 819.7L397.2 821.1L394.8 819.7L384.6 812.9L382.2 811.7L371.7 808.5L367.2 807.4L355.4 806.1L352.2 805.6L351.1 806.1L340.6 812.9L337.2 818L336.3 819.7L333.1 826.6L330.5 833.4L328.3 840.2L326.3 847.1L323.3 853.9L322.2 855.6L321.4 853.9L319.2 847.1L317.2 840.2L313.3 833.4L307.2 828.6L304.4 826.6L294.7 819.7L292.2 818.3L277.2 816.9L273.2 812.9L270.7 806.1L268.4 799.2L266.9 792.4L262.2 786.3L255.5 789.7L251.6 785.6L249.2 778.8L248.3 771.9L247.2 765.1L246.1 758.3L244.8 751.4L244.8 744.6L244.7 737.8L244.6 730.9L244.5 724.1L244.5 717.3L245.1 710.5L255.5 705L256.7 710.5L258.1 717.3L259 724.1L260.4 730.9L262.2 736.4L262.7 737.8L264.9 744.6L266.8 751.4L268.4 758.3L270.7 765.1L273.6 771.9L277.2 775.7L284 771.9L292.2 766.1L293 765.1L297.3 758.3L301.4 751.4L307.2 747.7L311.2 751.4L315.9 758.3L322.2 763.4L326.8 758.3L330.5 751.4L332.7 744.6L334.1 737.8L337.2 733.8L341 730.9L346.2 724.1L347.1 717.3L347.7 710.5L348.1 703.6L348.4 696.8ZM547.1 696.8L562 696.8L577 696.8L592 696.8L598 696.8L598 703.6L598 710.5L598 717.3L598 724.1L598 730.9L598 737.8L598 744.6L598 751.4L598 758.3L598 765.1L598 771.9L598 778.8L598 785.6L598 792.4L598 799.2L598 806.1L598 812.9L598 819.7L597.3 826.6L596.6 833.4L592 836.4L577 837L573.7 833.4L571.6 826.6L567.9 819.7L562 813.6L561.6 812.9L557.4 806.1L550.4 799.2L547.1 796.6L541.8 799.2L535.6 806.1L533 812.9L532.1 815.6L531 819.7L529.9 826.6L528.8 833.4L527.8 840.2L526.1 847.1L526.1 847.1L522.6 853.9L522.3 854.2L517.1 858.3L513.3 853.9L511.1 847.1L505.1 840.2L502.1 837.6L499.2 833.4L497.9 826.6L496.3 819.7L494.5 812.9L492.4 806.1L489.6 799.2L487.1 794.4L486.1 792.4L483.8 785.6L483.1 778.8L487.1 773.2L488 771.9L492.3 765.1L495.5 758.3L498 751.4L500.9 744.6L502.1 742.6L504.9 744.6L512.6 751.4L517.1 755.2L518.2 758.3L522.3 762.4L526.1 762.8L528.6 758.3L529.9 751.4L531 744.6L532.1 737.8L532.1 737.8L532.7 730.9L533.3 724.1L533.9 717.3L534.5 710.5L535.2 703.6L535.8 696.8Z" fill="#3aba76" stroke="#3aba76" stroke-width="0.5"/>
<path d="M217.3 696.8L232.3 696.8L238.3 696.8L240 696.8L240.3 703.6L240.5 710.5L240.6 717.3L240.8 724.1L240.9 730.9L241 737.8L241.1 744.6L241.1 751.4L240.6 758.3L240.1 765.1L239.6 771.9L239 778.8L238.4 785.6L238.3 786.5L233.2 792.4L232.3 793.6L230.4 792.4L217.3 785.6L217.3 785.6L212.9 778.8L202.3 773L187.3 771.9L187.3 771.9L187.3 765.1L187.3 758.3L187.3 751.4L187.3 744.6L187.3 737.8L187.3 730.9L187.3 725.8L202.3 726.3L205.1 724.1L209.7 717.3L211.7 710.5L210.1 703.6L207.3 696.8ZM352.2 696.8L367.2 696.8L371.7 696.8L382.2 696.8L397.2 696.8L396.4 703.6L396 710.5L395.6 717.3L395.4 724.1L392.9 730.9L391.3 737.8L390.2 744.6L390.7 751.4L391.1 758.3L391.5 765.1L393.8 771.9L397.2 777.9L397.5 778.8L399.4 785.6L401 792.4L401.3 799.2L400.1 806.1L398.3 812.9L397.2 814.4L395.2 812.9L382.2 806.6L380 806.1L371.7 803.7L367.2 802.4L352.2 800.6L339.2 806.1L337.2 807.9L334.8 812.9L331.4 819.7L328.7 826.6L326.5 833.4L324.6 840.2L323 847.1L322.2 849L321.6 847.1L320.2 840.2L317.6 833.4L310.4 826.6L307.2 824L302.3 819.7L292.2 814L277.2 813.3L276.8 812.9L274.5 806.1L272.6 799.2L273.6 792.4L277.2 785.6L277.2 785.6L292.2 778.8L292.2 778.8L298.6 771.9L302.7 765.1L305.5 758.3L307.2 755.3L308.7 758.3L313.2 765.1L322.2 770.8L327.5 765.1L332 758.3L334.5 751.4L336 744.6L337 737.8L337.2 737.6L345.9 730.9L349.2 724.1L349.8 717.3L350.3 710.5L350.6 703.6L350.9 696.8ZM547.1 696.8L562 696.8L577 696.8L587.7 696.8L588 703.6L588.3 710.5L588.5 717.3L588.7 724.1L590.3 730.9L592 737.8L592 737.8L592.6 744.6L593 751.4L593.4 758.3L593.7 765.1L594 771.9L594.3 778.8L594.5 785.6L594.7 792.4L594.4 799.2L594.1 806.1L593.8 812.9L593.4 819.7L592.7 826.6L592.1 833.4L592 833.5L577 833.7L576.8 833.4L575.1 826.6L572.4 819.7L567.5 812.9L562 808.3L560.7 806.1L555.2 799.2L547.1 792.8L534.5 799.2L532.1 806.1L532.1 806.1L529.6 812.9L528.5 819.7L528 826.6L527 833.4L526.1 840.2L526.1 840.2L523.2 847.1L522.3 848.8L518.4 853.9L517.1 854.9L516.2 853.9L513.9 847.1L509.2 840.2L502.1 833.8L501.8 833.4L500.9 826.6L499.7 819.7L498.3 812.9L496.6 806.1L494.4 799.2L491.6 792.4L488.6 785.6L487.8 778.8L492.7 771.9L496.3 765.1L499.1 758.3L501.3 751.4L502.1 749.6L504.1 751.4L511 758.3L517.1 763.8L522.3 765.1L522.3 765.1L526.1 771.9L526.1 771.9L526.1 771.9L532.1 767L533.1 765.1L535.3 758.3L537 751.4L538.3 744.6L539.4 737.8L539.9 730.9L540.5 724.1L541.2 717.3L541.9 710.5L542.6 703.6L543.3 696.8ZM255.5 722.2L255.8 724.1L256.4 730.9L257.4 737.8L259.4 744.6L262.2 750.4L262.5 751.4L263.3 758.3L264.5 765.1L264.1 771.9L262.2 775.8L258.2 778.8L255.5 780.7L254.9 778.8L254.2 771.9L253.4 765.1L252.5 758.3L251.5 751.4L252.1 744.6L252.8 737.8L253.6 730.9L254.7 724.1ZM202.3 796.1L205.6 799.2L214.6 806.1L217.3 808L219.9 812.9L219.7 819.7L217.3 826.6L217.3 826.6L205.4 833.4L202.3 840.2L187.3 835.1L187.3 833.4L187.3 826.6L187.3 819.7L187.3 812.9L187.3 806.1L187.3 799.2L187.3 794.3Z" fill="#56c667" stroke="#56c667" stroke-width="0.5"/>
<path d="M232.3 696.8L233.8 703.6L235.3 710.5L236.8 717.3L238.3 724.1L238.3 724.1L238.6 730.9L238.9 737.8L239.1 744.6L239.1 751.4L238.5 758.3L238.3 761.6L236.7 765.1L232.3 771.9L226.3 765.1L222.7 758.3L220.3 751.4L218.9 744.6L217.3 737.8L217.3 730.9L217.3 724.1L217.3 717.3L217.3 710.5L217.3 703.6ZM367.2 696.8L371.7 696.8L380.9 696.8L382 703.6L382.2 704.6L384 710.5L385.5 717.3L386.6 724.1L386.1 730.9L385.8 737.8L385.6 744.6L386 751.4L386.4 758.3L386.9 765.1L387.4 771.9L388.5 778.8L389.4 785.6L384.7 792.4L382.2 792.9L371.7 796.5L367.2 796.1L353.6 792.4L352.2 791.9L337.2 792.4L337.2 792.4L330.9 799.2L330.2 806.1L329.3 812.9L326.5 819.7L324.3 826.6L322.5 833.4L322.2 834.5L321.9 833.4L318.4 826.6L311.5 819.7L307.2 816.8L301.5 812.9L293.6 806.1L292.2 804.7L277.2 800.9L276.9 799.2L277.2 798.1L292.2 792.4L292.2 792.4L300.2 785.6L307.2 778.8L318.7 785.6L322.2 788.2L331.9 785.6L333.7 778.8L334.1 771.9L335 765.1L337.2 758.5L337.3 758.3L340.3 751.4L343.4 744.6L346.3 737.8L350.7 730.9L352.2 724.1L352.2 724.1L353.1 717.3L354.1 710.5L355.5 703.6L357.2 696.8ZM547.1 730.9L562 730.9L571.8 737.8L576.4 744.6L577 746L579.2 751.4L581.5 758.3L583.6 765.1L585.4 771.9L587 778.8L587.7 785.6L588.6 792.4L586.8 799.2L585.3 806.1L583.9 812.9L577.7 819.7L577 820.2L576.9 819.7L573.9 812.9L569.7 806.1L562 802.3L559.9 799.2L552.6 792.4L550.7 785.6L549 778.8L547.5 771.9L547.1 770.1L544.7 765.1L545.4 758.3L546 751.4L546.4 744.6L546.8 737.8ZM502.1 760.2L507.1 765.1L512 771.9L515.4 778.8L517.1 782.4L522.3 783.3L523.3 785.6L526.1 792.4L526.1 799.2L526.1 806.1L526.1 812.9L526.1 819.7L526.1 826.6L524.7 833.4L522.6 840.2L522.3 841L517.7 847.1L517.1 847.9L516.8 847.1L513.4 840.2L507.3 833.4L505.2 826.6L504.1 819.7L502.1 813L502.1 812.9L500.8 806.1L499.3 799.2L497.2 792.4L494.9 785.6L493.6 778.8L497.3 771.9L500.4 765.1Z" fill="#77d153" stroke="#77d153" stroke-width="0.5"/>
<path d="M367.2 696.8L367.2 696.8L371.7 696.8L374.8 696.8L376.9 703.6L378.4 710.5L379.2 717.3L379.8 724.1L380.2 730.9L380.5 737.8L380.9 744.6L381.3 751.4L381.7 758.3L382.2 765.1L381.2 771.9L380.4 778.8L377.2 785.6L371.7 789.2L367.2 788.6L359.5 785.6L352.2 781.8L348.3 778.8L347.4 771.9L346.5 765.1L347.2 758.3L350.2 751.4L352.2 746.9L353.1 744.6L355.4 737.8L357.4 730.9L359.1 724.1L360.1 717.3L362 710.5L364.3 703.6ZM232.3 739.5L233.6 744.6L233.4 751.4L232.3 754.1L230.7 751.4L230.4 744.6ZM562 749.2L563.9 751.4L568.3 758.3L571.4 765.1L573.7 771.9L575.1 778.8L573.7 785.6L571.2 792.4L562 795.7L558.9 792.4L556.6 785.6L554.6 778.8L553.9 771.9L554.2 765.1L556.5 758.3L560.2 751.4ZM502.1 771.7L502.3 771.9L506.2 778.8L504.5 785.6L502.1 789.3L501.1 785.6L499.5 778.8L502 771.9ZM307.2 794.1L313.9 799.2L319.5 806.1L307.2 808.4L304.3 806.1L301.2 799.2ZM517.1 802.3L520.4 806.1L522.3 810.2L522.6 812.9L523.1 819.7L523.5 826.6L522.3 831.9L521.5 833.4L517.1 839.2L513.1 833.4L510.5 826.6L511 819.7L511.8 812.9L513.8 806.1ZM322.2 807.2L323.8 812.9L322.2 817.9L316.8 812.9Z" fill="#9dd93b" stroke="#9dd93b" stroke-width="0.5"/>
<path d="M371.7 703.6L373.9 710.5L374.8 717.3L375.1 724.1L375.3 730.9L375.6 737.8L375.8 744.6L376 751.4L376.3 758.3L376.2 765.1L375.6 771.9L374.9 778.8L371.7 782.7L367.2 781L362.7 778.8L361.2 771.9L359.8 765.1L358.6 758.3L359.7 751.4L361.7 744.6L363.4 737.8L364.8 731L366.1 724.1L367.2 717.3L367.2 717.3L369 710.5ZM562 767.1L564.5 771.9L565.3 778.8L562 784.2L560.2 778.8L560.3 771.9ZM517.1 822L518.7 826.6L517.1 829.4L515.9 826.6Z" fill="#c5e021" stroke="#c5e021" stroke-width="0.5"/>
<path d="M322.2 696.8L321 703.6L320.3 710.5L322.2 712.3L323.2 710.5L322.7 703.6ZM630.4 970L630 963.2L629.7 956.3L629.4 949.5L628.4 942.7L627.1 935.8L625 929L625 929L623.4 922.2L619 915.4L619 915.4L612.2 908.5L607 907.4L600.4 901.7L598 897.4L594.9 894.9L592 892.1L590.1 888L587.2 881.2L584.6 874.4L581.7 867.5L578.8 860.7L577 859L562 853.9L562 853.9L554.9 847.1L550.3 840.2L547.1 833.4L547.1 833.4L547.1 833.4L545.3 840.2L542.5 847.1L532.1 853.6L531.9 853.9L531.2 860.7L530.4 867.5L528.6 874.4L526.1 879.6L524.8 881.2L522.3 886L517.1 888L502.1 883L501.2 881.2L497.4 874.4L494.3 867.5L491.4 860.7L488.9 853.9L487.1 849.3L484.3 847.1L475.3 840.2L472.1 836.3L470.6 840.2L468.7 847.1L467.3 853.9L467 860.7L466.6 867.5L466.2 874.4L465.7 881.2L465.2 888L464.7 894.9L464.1 901.7L463.6 908.5L463.1 915.4L462.5 922.2L461.9 929L461.6 930.4L457.6 935.8L457.1 936.3L450.4 942.7L447.9 949.5L446.9 956.3L446.4 963.2L445.9 970L445.7 963.2L445.6 956.3L445.4 949.5L445.2 942.7L444.8 935.9L444.1 929L442.6 922.2L442.1 919.9L441.7 922.2L438.9 929L435.3 935.9L430 942.7L427.1 946.7L425.7 942.7L423 935.9L420.6 929L418.5 922.2L416.8 915.4L415.5 908.5L414.1 901.7L412.5 894.9L412.1 893.6L409.6 888L406.6 881.2L403.6 874.4L400.4 867.5L397.2 860.7L397.2 860.7L385 853.9L382.2 852.1L377.9 847.1L373.5 840.2L371.7 837.9L370.5 840.2L367.2 847.1L352.2 846.2L351.7 847.1L348.5 853.9L342.1 860.7L337.2 865.1L336.1 867.5L333.2 874.4L327.1 881.2L322.2 885.8L318.1 881.2L312.8 874.4L310 867.5L308.2 860.7L307.2 856.9L303.2 853.9L294.4 847.1L292.2 844.9L283.5 847.1L277.2 849.6L262.2 850.2L260.6 853.9L258.6 860.7L257.2 867.5L256.1 874.4L255.5 878L250.8 881.2L243.5 888L243.5 888L242.9 894.9L242.4 901.7L241.9 908.5L241.5 915.4L240.8 922.2L239.7 929L238.3 934.9L232.3 932.7L230.2 929L226.5 922.2L222.2 915.4L217.3 908.5L217.3 908.5L213.6 901.7L211.1 894.9L208.2 888L205.5 881.2L202.8 874.4L202.3 873.8L191.8 867.5L187.3 864.2M267.5 696.8L268.6 703.6L269.5 710.5L270.2 717.3L270.8 724.1L271.7 730.9L274.1 737.8L276.7 744.6L277.2 746L278.7 744.6L285 737.8L290.3 730.9L292.2 729.1L299.5 730.9L307.2 732.1L314.6 737.8L321.2 744.6L322.2 745.7L322.8 744.6L325.4 737.8L329.3 730.9L337.2 724.1L337.2 724.1L338.9 717.3L340 710.5L340.5 703.6L340.9 696.8M458.4 696.8L458.5 703.6L458.5 710.5L458.5 717.3L458.6 724.1L459 730.9L459.7 737.8L461 744.6L461.6 746.7L462.5 744.6L466.4 737.8L469.2 730.9L471.4 724.1L472.1 722.8L472.9 724.1L474.5 730.9L475.8 737.8L478.7 744.6L483.8 751.4L487.1 753.5L488 751.4L490.5 744.6L493.6 737.8L496.2 730.9L502.1 724.1L514.6 730.9L517.1 732.9L518.9 737.8L520.8 744.6L522 751.4L522.3 752.2L522.6 751.4L523.2 744.6L523.8 737.8L524.3 730.9L524.6 724.1L525.1 717.3L525.8 710.5L526.1 708.9L527.1 703.6L528.3 696.8M620.2 696.8L620.2 703.6L620.2 710.5L620.2 717.3L620.2 724.1L620.2 731L620.2 737.8L620.2 744.6L620.2 751.4L620.2 758.3L620.2 765.1L620.1 771.9L620 778.8L620 785.6L619.9 792.4L619.8 799.2L619.7 806.1L619.6 812.9L619.5 819.7L619 826.6L619 826.6L618 833.4L616.7 840.2L615.6 847.1L614.5 853.9L613.5 860.7L612.6 867.5L611.7 874.4L610.1 881.2L608.2 888L607 889.9L606.1 888L603.5 881.2L598 874.4L598 874.4L596 867.5L594.5 860.7L593.6 853.9L592.6 847.1L592 846.3L577 845.7L569.3 840.2L564.6 833.4L562 828.3L560.8 826.6L555.3 819.7L551.1 812.9L547.7 806.1L547.1 805.6L546.4 806.1L543.2 812.9L540.3 819.7L537.7 826.6L535.4 833.4L533.4 840.2L532.1 841.9L530.2 847.1L528 853.9L527.1 860.7L526.1 867.5L522.3 867.5L517.1 866.9L508.3 860.7L504.7 853.9L502.5 847.1L502.1 846.6L495.3 840.2L491.5 833.4L489 826.6L487.1 821.9L485.5 819.7L481.8 812.9L478.4 806.1L475.1 799.2L472.1 792.4L472.1 792.4L468.3 785.6L463.8 778.8L461.6 775.5L457.1 771.9L457.1 771.9L450.8 765.1L445.9 763.7L445.6 765.1L445.1 771.9L444.7 778.8L444.3 785.6L444 792.4L443.5 799.2L443 806.1L442.6 812.9L442.1 818.1L441.4 819.7L438.7 826.6L436.8 833.4L435.2 840.2L434 847.1L432.9 853.9L432 860.7L431.4 867.5L430.8 874.4L430.2 881.2L429.5 888L428.9 894.9L428.2 901.7L427.6 908.5L427.1 911.3L426.8 908.5L426.3 901.7L425.8 894.9L425.1 888L424.3 881.2L423.4 874.4L422.2 867.5L420.4 860.7L417.6 853.9L412.1 847.1L412.1 847.1L408.1 840.2L397.2 833.4L397.2 833.4L383.9 826.6L382.2 825.6L371.7 819.7L371.7 819.7L367.2 819.7L352.2 818L350.4 819.7L346.3 826.6L342.7 833.4L339.5 840.2L337.2 844.7L336.2 847.1L331.9 853.9L327.5 860.7L323.2 867.5L322.2 868.7L321.3 867.6L317.8 860.7L315 853.9L312 847.1L308.2 840.2L307.2 839.1L299.4 833.4L292.2 828.2L277.2 826.6L277.2 826.6L266 819.7L262.2 812.9L262.2 812.9L256.8 806.1L255.5 805L243.5 803.7L243.2 806.1L242.4 812.9L241.6 819.7L240.8 826.6L240 833.4L239.8 840.2L239.5 847.1L239.3 853.9L239.1 860.7L238.9 867.5L238.8 874.4L238.6 881.2L238.5 888L238.3 894.9L238.3 896L238.1 894.9L237.6 888L237 881.2L236 874.4L234.2 867.5L232.3 863.5L227.3 860.7L217.3 857.5L211 853.9L202.3 852.2L187.3 850M240 696.8L240.3 703.6L240.5 710.5L240.6 717.3L240.8 724.1L240.9 730.9L241 737.8L241.1 744.6L241.1 751.4L240.6 758.3L240.1 765.1L239.6 771.9L239 778.8L238.4 785.6L238.3 786.5L233.2 792.4L232.3 793.6L230.4 792.4L217.3 785.6L217.3 785.6L212.9 778.8L202.3 773L187.3 771.9L187.3 771.9M397.2 696.8L396.4 703.6L396 710.5L395.6 717.3L395.4 724.1L392.9 730.9L391.3 737.8L390.2 744.6L390.7 751.4L391.1 758.3L391.5 765.1L393.8 771.9L397.2 777.9L397.5 778.8L399.4 785.6L401 792.4L401.3 799.2L400.1 806.1L398.3 812.9L397.2 814.4L395.2 812.9L382.2 806.6L380 806.1L371.7 803.7L367.2 802.4L352.2 800.6L339.2 806.1L337.2 807.9L334.8 812.9L331.4 819.7L328.7 826.6L326.5 833.4L324.6 840.2L323 847.1L322.2 849L321.6 847.1L320.2 840.2L317.6 833.4L310.4 826.6L307.2 824L302.3 819.7L292.2 814L277.2 813.3L276.8 812.9L274.5 806.1L272.6 799.2L273.6 792.4L277.2 785.6L277.2 785.6L292.2 778.8L292.2 778.8L298.6 771.9L302.7 765.1L305.5 758.3L307.2 755.3L308.7 758.3L313.2 765.1L322.2 770.8L327.5 765.1L332 758.3L334.5 751.4L336 744.6L337 737.8L337.2 737.6L345.9 730.9L349.2 724.1L349.8 717.3L350.3 710.5L350.6 703.6L350.9 696.8M587.7 696.8L588 703.6L588.3 710.5L588.5 717.3L588.7 724.1L590.3 730.9L592 737.8L592 737.8L592.6 744.6L593 751.4L593.4 758.3L593.7 765.1L594 771.9L594.3 778.8L594.5 785.6L594.7 792.4L594.4 799.2L594.1 806.1L593.8 812.9L593.4 819.7L592.7 826.6L592.1 833.4L592 833.5L577 833.7L576.8 833.4L575.1 826.6L572.4 819.7L567.5 812.9L562 808.3L560.7 806.1L555.2 799.2L547.1 792.8L534.5 799.2L532.1 806.1L532.1 806.1L529.6 812.9L528.5 819.7L528 826.6L527 833.4L526.1 840.2L526.1 840.2L523.2 847.1L522.3 848.8L518.4 853.9L517.1 854.9L516.2 853.9L513.9 847.1L509.2 840.2L502.1 833.8L501.8 833.4L500.9 826.6L499.7 819.7L498.3 812.9L496.6 806.1L494.4 799.2L491.6 792.4L488.6 785.6L487.8 778.8L492.7 771.9L496.3 765.1L499.1 758.3L501.3 751.4L502.1 749.6L504.1 751.4L511 758.3L517.1 763.8L522.3 765.1L522.3 765.1L526.1 771.9L526.1 771.9L526.1 771.9L532.1 767L533.1 765.1L535.3 758.3L537 751.4L538.3 744.6L539.4 737.8L539.9 730.9L540.5 724.1L541.2 717.3L541.9 710.5L542.6 703.6L543.3 696.8M187.3 725.8L202.3 726.3L205.1 724.1L209.7 717.3L211.7 710.5L210.1 703.6L207.3 696.8M187.3 794.3L202.3 796.1L205.6 799.2L214.6 806.1L217.3 808L219.9 812.9L219.7 819.7L217.3 826.6L217.3 826.6L205.4 833.4L202.3 840.2L187.3 835.1M255.5 722.2L255.8 724.1L256.4 730.9L257.4 737.8L259.4 744.6L262.2 750.4L262.5 751.4L263.3 758.3L264.5 765.1L264.1 771.9L262.2 775.8L258.2 778.8L255.5 780.7L254.9 778.8L254.2 771.9L253.4 765.1L252.5 758.3L251.5 751.4L252.1 744.6L252.8 737.8L253.6 730.9L254.7 724.1Z" fill="none" stroke="#000" stroke-width="1.25" stroke-linejoin="round"/>
</g>
<clipPath id="clip_bL"><rect x="187.3" y="984.8" width="449.7" height="273.2"/></clipPath>
<g clip-path="url(#clip_bL)">
<rect x="187.3" y="984.8" width="449.7" height="273.2" fill="#460b5e"/>
<path d="M202.3 984.8L211.3 984.8L217.3 984.8L232.3 984.8L236.8 984.8L247.3 984.8L253.3 984.8L262.2 984.8L269.7 984.8L277.2 984.8L292.2 984.8L300.6 984.8L300.6 991.6L300.6 998.5L300.6 1005.3L300.6 1012.1L300.6 1019L300.6 1025.8L300.6 1032.6L307.2 1036.5L309.8 1039.4L311.5 1046.3L313.2 1051.3L317.3 1053.1L322.2 1055.1L324.5 1059.9L325.4 1066.8L326.7 1071.1L328.1 1066.8L328.9 1059.9L330.4 1053.1L337.2 1046.3L337.2 1046.3L337.4 1039.4L337.7 1032.6L338 1025.8L338.3 1018.9L338.6 1012.1L338.8 1005.3L339.1 998.5L339.4 991.6L339.7 984.8L352.2 984.8L361.2 984.8L367.2 984.8L382.2 984.8L397.2 984.8L412.1 984.8L418.1 984.8L427.1 984.8L442.1 984.8L457.1 984.8L464.6 984.8L472.1 984.8L479.6 984.8L479.6 984.8L480.4 991.6L481.1 998.5L481.6 1005.3L482.1 1012.1L485.4 1018.9L486.1 1025.8L487.1 1028.9L495.2 1032.6L502.1 1035.3L511.1 1039.4L514.4 1046.3L515.4 1053.1L515.6 1059.9L517.1 1065L519.4 1059.9L519.4 1053.1L519.4 1046.3L519.4 1039.4L519.4 1032.6L519.4 1025.8L519.4 1019L519.4 1012.1L519.4 1005.3L519.4 998.5L519.4 991.6L519.4 984.8L522.3 984.8L532.1 984.8L547.1 984.8L555.4 984.8L555.6 991.6L555.9 998.5L556.1 1005.3L556.4 1012.1L556.7 1019L557.1 1025.8L557.4 1032.6L557.8 1039.4L562 1041.1L568 1040.9L569.5 1039.4L569.7 1032.6L569.8 1025.8L570 1018.9L570.1 1012.1L570.3 1005.3L570.4 998.5L570.5 991.6L570.6 984.8L577 984.8L586 984.8L592 984.8L607 984.8L622 984.8L632.5 984.8L637 984.8L637 991.6L637 998.5L637 1005.3L637 1012.1L637 1018.9L637 1025.8L637 1032.6L637 1039.4L637 1046.3L637 1053.1L637 1059.9L637 1066.8L637 1073.6L637 1080.4L637 1087.2L637 1094.1L637 1100.9L637 1107.7L637 1114.6L637 1121.4L637 1128.2L637 1135.1L637 1141.9L637 1148.7L637 1155.5L637 1162.4L637 1169.2L637 1176L637 1182.9L637 1189.7L637 1196.5L637 1203.4L637 1210.2L637 1217L637 1223.8L637 1230.7L637 1237.5L637 1244.3L637 1251.2L637 1258L632.5 1258L622 1258L610.5 1258L607.2 1251.2L607 1250.9L592 1249.1L586 1247.3L577 1248.7L573.3 1251.2L568 1253L562.7 1251.2L562 1250.9L547.1 1248.2L546.3 1251.2L544.6 1258L532.1 1258L522.3 1258L517.1 1258L502.1 1258L488.3 1258L487.3 1251.2L487.1 1250L479.6 1250.9L473.4 1251.2L472.1 1251.2L464.6 1253.5L457.1 1253.5L442.1 1251.8L438.7 1258L427.1 1258L421.1 1258L420.3 1251.2L419.5 1244.3L418.8 1237.5L418.3 1230.7L418.1 1227.6L412.1 1223.8L412.1 1223.8L412.1 1223.8L397.2 1227.6L385.5 1230.7L382.2 1231.4L367.2 1231.4L361.2 1231.4L352.2 1235.2L343.9 1237.5L337.2 1239L331.1 1244.3L326.7 1246.6L322.2 1246.6L313.2 1246.6L309.2 1244.3L307.2 1242.8L295.6 1237.5L292.2 1235.2L277.2 1231.4L269.7 1231.4L262.2 1231.4L253.3 1231.4L247.3 1231.4L246.3 1237.5L244.3 1244.3L239.9 1251.2L236.8 1253.5L235.3 1251.2L233.1 1244.3L232.3 1239L225.6 1237.5L217.3 1235.2L211.3 1231.4L202.3 1231.4L199 1230.7L187.3 1227.6L187.3 1223.8L187.3 1217L187.3 1210.2L187.3 1203.4L187.3 1196.5L187.3 1189.7L187.3 1182.9L187.3 1176L187.3 1169.2L187.3 1162.4L187.3 1155.5L187.3 1148.7L187.3 1141.9L187.3 1135.1L187.3 1128.2L187.3 1121.4L187.3 1114.6L187.3 1107.7L187.3 1100.9L187.3 1094.1L187.3 1087.2L187.3 1080.4L187.3 1073.6L187.3 1066.8L187.3 1059.9L187.3 1053.1L187.3 1046.3L187.3 1039.4L187.3 1032.6L187.3 1025.8L187.3 1018.9L187.3 1012.1L187.3 1005.3L187.3 998.5L187.3 991.6L187.3 984.8Z" fill="#482071" stroke="#482071" stroke-width="0.5"/>
<path d="M202.3 984.8L211.3 984.8L217.3 984.8L232.3 984.8L236.8 984.8L247.3 984.8L253.3 984.8L262.2 984.8L269.7 984.8L277.2 984.8L284.7 984.8L285.1 991.6L285.4 998.5L285.7 1005.3L286 1012.1L286.2 1018.9L286.5 1025.8L288 1032.6L288.9 1039.4L292.2 1044.6L307.2 1046.3L307.2 1046.3L310.6 1053.1L312.5 1059.9L313.2 1062.6L322.2 1066.8L322.2 1066.8L325.1 1073.6L326.5 1080.4L326.7 1081.9L327.1 1080.4L329.2 1073.6L331.7 1066.8L334.4 1059.9L337.2 1055.4L338.6 1053.1L343 1046.3L345.2 1039.4L349.8 1032.6L350.1 1025.8L350.5 1019L350.8 1012.1L351.1 1005.3L351.5 998.5L351.8 991.6L352.2 984.8L352.2 984.8L361.2 984.8L367.2 984.8L382.2 984.8L397.2 984.8L412.1 984.8L418.1 984.8L427.1 984.8L442.1 984.8L457.1 984.8L464.6 984.8L472.1 984.8L473.8 984.8L474.3 991.6L474.7 998.5L476.1 1005.3L477.2 1012.1L479.6 1016.8L481.2 1018.9L483.5 1025.8L485.8 1032.6L487.1 1035.9L495.9 1039.4L502.1 1041.6L507.8 1046.3L511.1 1053.1L511.9 1059.9L513.9 1066.8L515.9 1073.6L517.1 1076.6L522.3 1077.3L523.1 1073.6L524.9 1066.8L526.3 1059.9L532.1 1053.1L547.1 1054.2L550.5 1053.1L562 1049.2L568 1048.1L577 1046.3L577 1046.3L577 1039.4L577 1032.6L577 1025.8L577 1018.9L577 1012.1L577 1005.3L577 998.5L577 991.6L577 984.8L586 984.8L592 984.8L607 984.8L622 984.8L632.5 984.8L637 984.8L637 991.6L637 998.5L637 1005.3L637 1012.1L637 1018.9L637 1025.8L637 1032.6L637 1039.4L637 1046.3L637 1053.1L637 1059.9L637 1066.8L637 1073.6L637 1080.4L637 1087.2L637 1094.1L637 1100.9L637 1107.7L637 1114.6L637 1121.4L637 1128.2L637 1135.1L637 1141.9L637 1148.7L637 1155.5L637 1162.4L637 1169.2L637 1176L637 1182.9L637 1189.7L637 1196.5L637 1203.4L637 1210.2L637 1217L637 1223.8L637 1230.7L637 1237.5L637 1244.3L637 1251.2L637 1258L632.5 1258L622 1258L622 1258L620.5 1251.2L618.5 1244.3L615.5 1237.5L610.8 1230.7L607 1227.1L599.9 1223.8L592 1219.4L589.9 1217L586 1211.7L578.4 1217L577 1217.9L575.2 1223.8L572.1 1230.7L568 1236.4L563.9 1230.7L562 1227.1L556.8 1223.8L548.5 1217L547.1 1215.5L546.5 1217L544.3 1223.8L542.3 1230.7L540.5 1237.5L539 1244.3L537.5 1251.2L536.2 1258L532.1 1258L522.3 1258L517.1 1258L502.1 1258L492.2 1258L491.4 1251.2L490.4 1244.3L489.4 1237.5L488.4 1230.7L487.2 1223.8L487.1 1223.3L486.1 1223.8L479.6 1227.1L472.1 1228.7L471 1230.7L465.9 1237.5L464.6 1238.7L457.1 1238.7L454.1 1237.5L442.1 1231L438.6 1237.5L433.7 1244.3L430.2 1251.2L427.1 1258L425.8 1251.2L424.6 1244.3L422.9 1237.5L421.7 1230.7L421 1223.8L420.6 1217L420.3 1210.2L419.9 1203.4L419.2 1196.5L418.4 1189.7L418.1 1188L414.6 1182.9L412.2 1178.6L402.8 1182.9L397.2 1185.4L387.8 1189.7L382.2 1192.3L367.2 1189.7L367.2 1189.7L367.2 1189.7L361.2 1191.2L352.2 1196.5L352.2 1196.5L344.7 1203.4L337.2 1208.5L336.7 1210.2L334.1 1217L330.5 1223.8L326.7 1228.8L322.2 1229.8L313.2 1228.8L309.9 1223.8L307.2 1217.9L306.3 1217L299.4 1210.2L293.6 1203.4L292.2 1201.7L283.5 1196.5L277.2 1192.3L269.7 1192.3L262.2 1192.3L253.3 1189.7L253.3 1189.7L253.3 1189.7L247.3 1192.3L246.6 1196.5L245.7 1203.4L244.7 1210.2L243.7 1217L242.4 1223.8L240.5 1230.7L237.5 1237.5L236.8 1238.7L236.4 1237.5L234.9 1230.7L234 1223.8L233 1217L232.3 1211L230.7 1210.2L219.6 1203.4L217.3 1201.7L212.8 1196.5L211.3 1194.8L202.3 1194.8L191 1189.7L187.3 1188L187.3 1182.9L187.3 1176L187.3 1169.2L187.3 1162.4L187.3 1155.5L187.3 1148.7L187.3 1141.9L187.3 1135.1L187.3 1128.2L187.3 1121.4L187.3 1114.6L187.3 1107.7L187.3 1100.9L187.3 1094.1L187.3 1087.2L187.3 1080.4L187.3 1073.6L187.3 1066.8L187.3 1059.9L187.3 1053.1L187.3 1046.3L187.3 1039.4L187.3 1032.6L187.3 1025.8L187.3 1018.9L187.3 1012.1L187.3 1005.3L187.3 998.5L187.3 991.6L187.3 984.8Z" fill="#46337f" stroke="#46337f" stroke-width="0.5"/>
<path d="M202.3 984.8L211.3 984.8L217.3 984.8L232.3 984.8L236.8 984.8L247.3 984.8L253.3 984.8L262.2 984.8L269.7 984.8L275.4 984.8L275.5 991.6L275.7 998.5L275.8 1005.3L276.3 1012.1L276.6 1018.9L276.8 1025.8L277.2 1028.7L279.5 1032.6L282.1 1039.4L286.8 1046.3L291.3 1053.1L292.2 1055L301.6 1053.1L307.2 1052.4L307.6 1053.1L310.1 1059.9L312.2 1066.8L313.2 1069.5L322.2 1071.5L323.1 1073.6L324.8 1080.4L325.9 1087.2L326.7 1090.9L328.1 1087.2L330.1 1080.4L332.4 1073.6L335.2 1066.8L337.2 1063.1L339.8 1059.9L344.3 1053.1L348.8 1046.3L352.2 1040.5L360.3 1046.3L361.2 1047.1L367.2 1053.1L367.2 1053.1L382.2 1053.1L382.2 1053.1L383.7 1046.3L385.2 1039.4L386.7 1032.6L388.2 1025.8L389.7 1018.9L391.2 1012.1L392.7 1005.3L394.2 998.5L395.7 991.6L397.2 984.8L397.2 984.8L412.1 984.8L418.1 984.8L427.1 984.8L442.1 984.8L457.1 984.8L464.6 984.8L470.2 984.8L470.5 991.6L470.8 998.5L472 1005.3L472.1 1005.7L474.2 1012.1L477.5 1018.9L479.6 1022.7L481 1025.8L483.4 1032.6L486 1039.4L487.1 1041.5L500.2 1046.3L502.1 1047L506.8 1053.1L508.3 1059.9L510.3 1066.8L512.3 1073.6L514.8 1080.4L517.1 1084.5L519.3 1087.2L521.6 1094.1L522.3 1097L522.9 1094.1L524 1087.2L525.4 1080.4L527.3 1073.6L529.9 1066.8L532.1 1062.7L547.1 1061.8L553.6 1059.9L562 1057.3L568 1055.4L577 1055.8L579.2 1053.1L582.3 1046.3L583 1039.4L583 1032.6L583 1025.8L583 1019L583 1012.1L583 1005.3L583 998.5L583 991.6L583 984.8L586 984.8L592 984.8L607 984.8L622 984.8L632.5 984.8L637 984.8L637 991.6L637 998.5L637 1005.3L637 1012.1L637 1018.9L637 1025.8L637 1032.6L637 1039.4L637 1046.3L637 1053.1L637 1059.9L637 1066.8L637 1073.6L637 1080.4L637 1087.2L637 1094.1L637 1100.9L637 1107.7L637 1114.6L637 1121.4L637 1128.2L637 1135.1L637 1141.9L637 1148.7L637 1155.5L637 1162.4L637 1169.2L637 1176L637 1182.9L637 1189.7L637 1196.5L637 1203.4L637 1210.2L637 1217L637 1223.8L637 1230.7L637 1237.5L637 1244.3L637 1251.2L637 1258L632.5 1258L626.8 1258L626.4 1251.2L626 1244.3L625.6 1237.5L625.1 1230.7L624.6 1223.8L624.1 1217L623.4 1210.2L622.8 1203.4L622 1196.5L622 1196.5L622 1196.5L607 1203.4L598.6 1196.5L592 1189.7L592 1189.7L588.7 1182.9L586 1176L586 1176L586 1176L581.2 1182.9L577 1187.3L576.6 1189.7L575.3 1196.5L573.6 1203.4L571.6 1210.2L569.2 1217L568 1219.5L566.9 1217L564.2 1210.2L562 1203.4L562 1203.4L555.4 1196.5L550.6 1189.7L547.1 1182.9L547.1 1182.9L547.1 1182.9L542.2 1189.7L540 1196.5L538.7 1203.4L536.7 1210.2L535 1217L533.4 1223.8L532.1 1230.7L532.1 1230.7L531 1237.5L529.8 1244.3L528.6 1251.2L527.2 1258L522.3 1258L517.1 1258L502.1 1258L496.2 1258L495.5 1251.2L494.7 1244.3L493.8 1237.5L492.9 1230.7L492 1223.8L490.9 1217L489.8 1210.2L488.5 1203.4L487.1 1196.5L487.1 1196.5L487.1 1196.5L479.6 1203.4L479.6 1203.4L472.1 1206.3L470.5 1210.2L467.7 1217L464.6 1223.8L457.1 1223.8L450 1217L442.1 1210.2L442.1 1210.2L442.1 1210.2L438.8 1217L436.3 1223.8L432.6 1230.7L427.5 1237.5L427.1 1238L427 1237.5L425.2 1230.7L424 1223.8L423.7 1217L423.3 1210.2L422.9 1203.4L422.3 1196.5L421.6 1189.7L420.9 1182.9L420.1 1176L419.2 1169.2L418.1 1162.4L418.1 1162.4L415 1155.5L412.1 1148.7L412.1 1148.7L412.1 1148.7L397.2 1155.5L397.2 1155.5L382.2 1162.4L367.2 1155.5L367.2 1155.5L367.2 1155.5L361.2 1160L352.2 1162.4L352.2 1162.4L348.7 1169.2L344 1176L337.2 1182.9L337.2 1182.9L335.6 1189.7L333.6 1196.5L331.3 1203.4L328.6 1210.2L326.7 1214L322.2 1217L313.2 1213.8L311.7 1210.2L309.4 1203.4L307.2 1196.5L307.2 1196.5L301.5 1189.7L296.5 1182.9L292.2 1176L292.2 1176L283.3 1169.2L277.2 1162.4L277.2 1162.4L269.7 1162.4L262.2 1162.4L253.3 1155.5L253.3 1155.5L253.3 1155.5L247.3 1162.4L247.3 1162.4L246 1169.2L244.9 1176L243.9 1182.9L243 1189.7L242.2 1196.5L241.4 1203.4L240.4 1210.2L238.8 1217L236.8 1223.8L235.7 1217L234.7 1210.2L233.9 1203.4L233.2 1196.5L232.3 1189.7L232.3 1189.7L224.2 1182.9L217.3 1176L217.3 1176L211.3 1169.2L211.3 1169.2L202.3 1169.2L187.3 1162.4L187.3 1162.4L187.3 1155.5L187.3 1148.7L187.3 1141.9L187.3 1135.1L187.3 1128.2L187.3 1121.4L187.3 1114.6L187.3 1107.7L187.3 1100.9L187.3 1094.1L187.3 1087.2L187.3 1080.4L187.3 1073.6L187.3 1066.8L187.3 1059.9L187.3 1053.1L187.3 1046.3L187.3 1039.4L187.3 1032.6L187.3 1025.8L187.3 1018.9L187.3 1012.1L187.3 1005.3L187.3 998.5L187.3 991.6L187.3 984.8Z" fill="#404588" stroke="#404588" stroke-width="0.5"/>
<path d="M217.3 984.8L232.3 984.8L236.8 984.8L247.3 984.8L253.3 984.8L262.2 984.8L269.7 984.8L271.6 984.8L271.7 991.6L271.7 998.5L271.8 1005.3L273 1012.1L273.8 1019L274.4 1025.8L275.6 1032.6L276.7 1039.4L277.2 1042L280.3 1046.3L286 1053.1L289.9 1059.9L292.2 1065.5L302.8 1059.9L307.2 1058.6L307.7 1059.9L310 1066.8L312.7 1073.6L313.2 1074.4L322.2 1077.1L323.1 1080.4L324.4 1087.2L325.8 1094.1L326.7 1097.1L328.4 1094.1L331 1087.2L333.2 1080.4L335.6 1073.6L337.2 1069.9L339.5 1066.8L345 1059.9L349.9 1053.1L352.2 1049.7L356 1053.1L361.2 1059.9L361.2 1059.9L367.2 1066.8L367.2 1066.8L382.2 1073.6L382.2 1073.6L382.2 1073.6L397.2 1072.1L412.1 1070.3L418.1 1069.9L418.6 1066.8L419.3 1059.9L419.9 1053.1L419.8 1046.3L419.8 1039.4L419.7 1032.6L419.6 1025.8L419.7 1018.9L419.7 1012.1L419.7 1005.3L419.8 998.5L419.9 991.6L419.9 984.8L427.1 984.8L442.1 984.8L457.1 984.8L464.6 984.8L467.4 984.8L467.9 991.6L468.3 998.5L469.4 1005.3L471.2 1012.1L472.1 1014.5L474.1 1019L477.8 1025.8L479.6 1028.8L481 1032.6L483.6 1039.4L487.1 1046.3L487.1 1046.3L502.1 1052.5L502.6 1053.1L504.6 1059.9L506.7 1066.8L508.7 1073.6L511.1 1080.4L514.6 1087.2L517.1 1091.6L518.3 1094.1L520.3 1100.9L521.7 1107.7L522.3 1110.4L523.2 1107.7L524.3 1100.9L525.7 1094.1L527.1 1087.2L529 1080.4L531.5 1073.6L532.1 1072.2L547.1 1069L555.9 1066.8L562 1064.9L568 1062.1L577 1065.4L583.2 1059.9L586 1054.7L586.8 1053.1L588.2 1046.3L589.2 1039.4L589.5 1032.6L589.8 1025.8L589.9 1018.9L590.1 1012.1L590.3 1005.3L590.5 998.5L590.8 991.6L591 984.8L592 984.8L607 984.8L622 984.8L632.5 984.8L637 984.8L637 991.6L637 998.5L637 1005.3L637 1012.1L637 1018.9L637 1025.8L637 1032.6L637 1039.4L637 1046.3L637 1053.1L637 1059.9L637 1066.8L637 1073.6L637 1080.4L637 1087.2L637 1094.1L637 1100.9L637 1107.7L637 1114.6L637 1121.4L637 1128.2L637 1135.1L637 1141.9L637 1148.7L637 1155.5L637 1162.4L637 1169.2L637 1176L637 1182.9L637 1189.7L637 1196.5L637 1203.4L637 1210.2L637 1217L637 1223.8L637 1230.7L637 1237.5L637 1244.3L637 1251.2L637 1258L632.5 1258L631.5 1258L631.4 1251.2L631.2 1244.3L630.9 1237.5L630.7 1230.7L630.5 1223.8L630.2 1217L629.9 1210.2L629.5 1203.4L629.1 1196.5L628.3 1189.7L626.9 1182.9L625 1176L622 1169.2L622 1169.2L622 1169.2L611 1176L607 1179L604.8 1176L600.1 1169.2L593.6 1162.4L592 1160.9L590 1155.5L587.2 1148.7L586 1147.8L585.6 1148.7L583.8 1155.5L577 1162.4L577 1162.4L576.1 1169.2L575 1176L573.6 1182.9L572 1189.7L569.8 1196.5L568 1201.2L566.1 1196.5L563.8 1189.7L562 1182.9L562 1182.9L554.8 1176L550.9 1169.2L548.4 1162.4L547.1 1158.4L543.6 1155.6L535.7 1148.7L532.8 1141.9L532.1 1141L531.9 1141.9L531.5 1148.7L531.1 1155.5L530.6 1162.4L530.5 1169.2L530.3 1176L530 1182.9L529.4 1189.7L529.2 1196.5L529 1203.4L528 1210.2L526.8 1217L525.5 1223.8L524 1230.7L522.3 1237.5L517.1 1237.5L517.1 1237.5L514.4 1244.3L511.9 1251.2L509.6 1258L502.1 1258L500.1 1258L499.5 1251.2L498.9 1244.3L498.2 1237.5L497.5 1230.7L496.7 1223.8L495.9 1217L494.9 1210.2L493.9 1203.4L492 1196.5L490 1189.7L488.3 1182.9L487.1 1178.5L479.6 1182.9L479.6 1182.9L472.1 1186.4L470.4 1189.7L467.5 1196.5L464.6 1203.4L457.1 1200.5L452.6 1196.5L444 1189.7L442.1 1187.9L440.9 1189.7L436 1196.5L432.8 1203.4L430.5 1210.2L428.7 1217L427.4 1223.8L427.1 1224.2L427.1 1223.8L426.7 1217L426.3 1210.2L425.9 1203.4L425.4 1196.5L424.9 1189.7L424.4 1182.9L423.7 1176L423 1169.2L422.2 1162.4L421.5 1155.5L420.6 1148.7L419.5 1141.9L418.1 1135.1L418.1 1135.1L414.6 1128.2L412.1 1124.5L405.6 1128.2L397.2 1133.5L394.9 1135.1L382.2 1140.2L372.8 1135.1L367.2 1130.2L361.2 1135.1L361.2 1135.1L352.2 1140.5L351.2 1141.9L348.1 1148.7L343.8 1155.5L337.2 1162.4L337.2 1162.4L335.8 1169.2L334 1176L332 1182.9L329.7 1189.7L326.7 1196.5L326.7 1196.5L322.2 1200.6L314.7 1196.5L313.2 1196.2L309.1 1189.7L307.8 1182.9L307.2 1176L307.2 1176L299.2 1169.2L294.9 1162.4L292.2 1155.5L292.2 1155.5L281 1148.7L277.2 1141.9L277.2 1141.9L277.2 1141.9L269.7 1145.6L262.2 1145L259 1141.9L253.9 1135.1L253.3 1134.1L251.7 1135.1L247.3 1140.8L246.8 1141.9L244.6 1148.7L243 1155.5L241.6 1162.4L240.7 1169.2L239.8 1176L239.1 1182.9L238.4 1189.7L237.7 1196.5L237.1 1203.4L236.8 1205.6L236.6 1203.4L236.1 1196.5L235.6 1189.7L234.9 1182.9L234 1176L232.6 1169.2L232.3 1167.3L228 1162.4L220.9 1155.5L217.3 1152.3L211.3 1148.7L211.3 1148.7L202.3 1145.2L195.1 1141.9L187.3 1137.6L187.3 1135.1L187.3 1128.2L187.3 1121.4L187.3 1114.6L187.3 1109.6L190 1107.7L202.3 1101.3L202.6 1100.9L204.4 1094.1L207 1087.2L211.3 1080.4L211.3 1080.4L211.7 1073.6L212.1 1066.8L212.2 1059.9L212.3 1053.1L212.3 1046.3L212.4 1039.4L212.5 1032.6L212.6 1025.8L212.7 1018.9L212.9 1012.1L212.9 1005.3L212.9 998.5L213 991.6L213 984.8Z" fill="#39558c" stroke="#39558c" stroke-width="0.5"/>
<path d="M232.3 984.8L236.8 984.8L247.3 984.8L253.3 984.8L262.2 984.8L267.7 984.8L267.8 991.6L267.9 998.5L268.1 1005.3L269.7 1012.1L269.7 1012.1L271.1 1018.9L272.1 1025.8L273.4 1032.6L274.5 1039.4L276.1 1046.3L277.2 1049.3L280.7 1053.1L285.4 1059.9L288.8 1066.8L291.1 1073.6L292.2 1077.2L294.9 1073.6L303.1 1066.8L307.2 1064.7L307.9 1066.8L310.4 1073.6L313.2 1077.8L318.9 1080.4L322.2 1083.8L322.9 1087.2L324.3 1094.1L326.2 1100.9L326.7 1101.9L327.7 1100.9L331.3 1094.1L333.9 1087.2L336.2 1080.4L337.2 1077.7L339.8 1073.6L344.8 1066.8L350.1 1059.9L352.2 1057.2L354.8 1059.9L360.7 1066.8L361.2 1067.3L365.1 1073.6L367.2 1079.2L369.2 1080.4L378 1087.2L382.2 1091.8L396.1 1094.1L397.2 1094.3L412.1 1095.9L418.1 1095.9L418.9 1094.1L420.9 1087.2L422.2 1080.4L423.1 1073.6L423.6 1066.8L423.9 1059.9L424.2 1053.1L424.2 1046.3L424.3 1039.4L424.3 1032.6L424.3 1025.8L424.8 1018.9L425.3 1012.1L425.9 1005.3L426.7 998.5L427.1 995L428.4 991.6L430.9 984.8L442.1 984.8L457.1 984.8L464.6 984.8L464.6 984.8L465.3 991.6L465.9 998.5L466.9 1005.3L468.3 1012.1L470.5 1018.9L472.1 1022L474.1 1025.8L478 1032.6L479.6 1035.3L481.1 1039.4L484.2 1046.3L486.3 1053.1L487.1 1056.2L495.3 1059.9L502.1 1063.7L503 1066.8L505.1 1073.6L507.3 1080.4L510.4 1087.2L514 1094.1L517.1 1099.2L517.7 1100.9L519.5 1107.7L521.2 1114.6L522.3 1118L524.8 1114.6L526.3 1107.7L526.9 1100.9L528.5 1094.1L530.3 1087.2L532.1 1081.8L533.9 1080.4L547.1 1075L552.1 1073.6L562 1070.9L568 1067.8L576 1073.6L577 1075L581.3 1073.6L586 1071.1L588.6 1073.6L590.9 1080.4L591.7 1087.2L592 1094.1L591.9 1100.9L591.8 1107.7L591.8 1114.6L591.7 1121.4L591.4 1128.2L590.4 1135.1L586 1139L584.4 1141.9L581.1 1148.7L577 1155.2L576.9 1155.5L574 1162.4L572.8 1169.2L571.3 1176L569.6 1182.9L568 1187.7L566.4 1182.9L563.6 1176L562 1173L559 1169.2L555 1162.4L552 1155.5L547.7 1148.7L547.1 1147.7L541.5 1141.9L535.6 1135.1L532.1 1132.1L530.8 1135.1L529.7 1141.9L529.7 1148.7L529.2 1155.5L528.6 1162.4L528.1 1169.2L527.5 1176L526.4 1182.9L524.7 1189.7L523.9 1196.5L522.8 1203.4L522.3 1205.6L517.1 1205.6L512.9 1210.2L508.3 1217L504.8 1223.8L502.1 1230.7L501.5 1223.8L500.8 1217L500.1 1210.2L499.4 1203.4L496.9 1196.5L494.6 1189.7L492.6 1182.9L490.6 1176L487.3 1169.2L487.1 1168.9L485.9 1169.2L479.6 1171.6L472.1 1173L468.9 1176L464.6 1182.9L457.8 1176L457.1 1175.1L451.4 1169.2L445.6 1162.4L442.1 1157.9L435.7 1162.4L429.5 1169.2L427.1 1172.9L426.9 1169.2L426.3 1162.4L426 1155.5L425.6 1148.7L425 1141.9L424.4 1135.1L423.6 1128.2L422.5 1121.4L420.9 1114.6L418.6 1107.7L418.1 1106.6L412.1 1104.8L399.6 1107.7L397.2 1108.5L392.3 1114.6L389.6 1121.4L382.2 1127.3L374.6 1121.4L369 1114.6L367.2 1113.5L366.8 1114.6L364.1 1121.4L361.2 1125.7L355.8 1128.2L352.2 1129.9L347.4 1135.1L342.7 1141.9L338.2 1148.7L337.2 1150L335.5 1155.5L333.3 1162.4L331.4 1169.2L329.1 1176L326.7 1182.9L326.7 1182.9L323.6 1189.7L322.2 1191.4L313.2 1191.7L311.9 1189.7L309.4 1182.9L308.5 1176L307.5 1169.2L307.2 1167.2L302.9 1162.4L298.7 1155.5L292.2 1148.7L292.2 1148.7L284.7 1141.9L277.6 1135.1L277.2 1134.7L276.9 1135.1L269.7 1139.2L262.2 1137.5L259.8 1135.1L254.5 1128.2L253.3 1126.9L247.3 1124.1L243.6 1128.2L240.3 1135.1L238.6 1141.9L237.6 1148.7L236.8 1155.5L235.8 1148.7L234.5 1141.9L232.5 1135.1L232.3 1134.5L225.4 1128.2L217.3 1121.4L217.3 1121.4L217.3 1121.4L213.5 1128.2L211.3 1130.5L205.9 1128.2L202.3 1126.8L195.9 1121.4L202.3 1117L205.9 1114.6L211.3 1107.7L211.3 1107.7L215 1100.9L215.6 1094.1L215.8 1087.2L215.9 1080.4L216.1 1073.6L216.3 1066.8L216.5 1059.9L216.6 1053.1L216.8 1046.3L216.9 1039.4L217.1 1032.6L217.3 1025.8L217.3 1025.8L218 1018.9L218.8 1012.1L219.9 1005.3L221.3 998.5L223.4 991.6L226.6 984.8ZM622 984.8L632.5 984.8L632.5 984.8L637 984.8L637 991.6L637 998.5L637 1005.3L637 1012.1L637 1018.9L637 1025.8L637 1032.6L637 1039.4L637 1046.3L637 1053.1L637 1059.9L637 1066.8L637 1073.6L637 1080.4L637 1087.2L637 1094.1L637 1100.9L637 1107.7L637 1114.6L637 1121.4L637 1128.2L637 1135.1L637 1141.9L637 1148.7L637 1155.5L637 1162.4L637 1169.2L637 1176L637 1182.9L637 1189.7L637 1196.5L637 1203.4L637 1210.2L637 1217L637 1223.8L637 1230.7L637 1237.5L637 1244.3L637 1251.2L637 1258L634 1258L633.9 1251.2L633.9 1244.3L633.8 1237.5L633.8 1230.7L633.7 1223.8L633.7 1217L633.6 1210.2L633.6 1203.4L633.5 1196.5L633.4 1189.7L633.3 1182.9L633.2 1176L633.1 1169.2L633 1162.4L632.9 1155.5L632.8 1148.7L632.6 1141.9L632.5 1135.1L632.5 1135.1L622 1135.1L607 1135.1L604.7 1128.2L602.4 1121.4L599.9 1114.6L597.4 1107.7L594.8 1100.9L592 1094.1L595.8 1087.2L597.6 1080.4L598.6 1073.6L599.3 1066.8L600.7 1059.9L601.9 1053.1L603.1 1046.3L604.1 1039.4L605.1 1032.6L606 1025.8L606.9 1018.9L607 1017.6L610.8 1012.1L614.5 1005.3L617.5 998.5L620 991.6Z" fill="#32658e" stroke="#32658e" stroke-width="0.5"/>
<path d="M253.3 987.1L256.9 984.8L262.2 984.8L263.5 984.8L263.9 991.6L264.3 998.5L264.7 1005.3L265.7 1012.1L267.2 1019L269.7 1025.8L269.7 1025.8L271.1 1032.6L272.4 1039.4L273.9 1046.3L276.6 1053.1L277.2 1055.1L280.9 1059.9L285 1066.8L287.4 1073.6L289.6 1080.4L291.6 1087.2L292.2 1089.1L293 1087.2L297 1080.4L303.4 1073.6L307.2 1070.9L308.2 1073.6L312.5 1080.4L313.2 1081.1L320.3 1087.2L322.2 1091.3L322.8 1094.1L324.5 1100.9L326.7 1105.7L331.4 1100.9L334.3 1094.1L336.7 1087.2L337.2 1085.9L340.5 1080.4L345 1073.6L350.1 1066.8L352.2 1064L354.6 1066.8L360.3 1073.6L361.2 1074.8L363.9 1080.4L366.1 1087.2L367.2 1091.6L370 1094.1L367.2 1097.3L366.4 1100.9L364.7 1107.7L362.1 1114.6L361.2 1116.3L352.2 1120.7L351.4 1121.4L344.4 1128.2L338.9 1135.1L337.2 1137.5L335.8 1141.9L333.8 1148.7L331.6 1155.6L329.4 1162.4L327.1 1169.2L326.7 1170.3L325.2 1176L322.6 1182.9L322.2 1183.6L313.2 1187.7L311.1 1182.9L309.8 1176L308.7 1169.2L307.7 1162.4L307.2 1158.3L305.2 1155.5L299.4 1148.7L292.2 1141.9L292.2 1141.9L284.9 1135.1L278.1 1128.2L277.2 1127.5L276.8 1128.2L269.7 1135.1L262.2 1131.6L259.4 1128.2L253.3 1121.4L253.3 1121.4L250.2 1114.6L248 1107.7L247.3 1104.9L238.4 1100.9L236.8 1099.5L232.3 1099.5L230.1 1094.1L228 1087.2L226.3 1080.4L225.3 1073.6L224.7 1066.8L224.4 1059.9L224.1 1053.1L223.9 1046.3L223.7 1039.4L223.9 1032.6L224.9 1025.8L226.2 1018.9L227.8 1012.1L230.2 1005.3L232.3 1000.7L236.8 1000.7L247.3 998.5L247.3 998.5L249.6 991.6ZM457.1 984.8L459.6 984.8L461.4 991.6L462.7 998.5L464 1005.3L464.6 1007.6L465.3 1012.1L466.9 1018.9L469.7 1025.8L472.1 1029.2L474 1032.6L478 1039.4L479.6 1042.2L481.3 1046.3L483.7 1053.1L485.8 1059.9L487.1 1066.1L488.4 1066.8L499.3 1073.6L502.1 1075.6L503.6 1080.4L506.2 1087.2L509.3 1094.1L513.4 1100.9L517.1 1107.1L517.3 1107.7L519.1 1114.6L521.3 1121.4L522.3 1124.1L526.9 1121.4L529.1 1114.6L529.5 1107.7L529.5 1100.9L531.3 1094.1L532.1 1091.3L535.9 1087.2L547.1 1080.4L547.1 1080.4L562 1076.3L566.8 1073.6L568 1072.9L569 1073.6L575 1080.4L577 1084.5L586 1086.4L586.3 1087.2L588 1094.1L588.6 1100.9L588.9 1107.7L589.2 1114.6L589.4 1121.4L587.9 1128.2L586 1131.9L584.3 1135.1L580.4 1141.9L577 1148L576.6 1148.7L573.3 1155.5L570.9 1162.4L569.4 1169.2L568 1174.7L565.6 1169.2L562 1163.1L561.6 1162.4L557.7 1155.5L553.6 1148.7L549.1 1141.9L547.1 1138.5L544 1135.1L536.5 1128.2L532.1 1125L528.1 1128.2L527.7 1135.1L527.6 1141.9L527.9 1148.7L527.2 1155.5L526.6 1162.4L525.8 1169.2L524.6 1176L522.9 1182.9L522.3 1184.5L517.1 1185.3L510.5 1189.7L503.4 1196.5L502.1 1197.3L501.8 1196.5L499.2 1189.7L496.9 1182.9L494.7 1176L491.5 1169.2L488.1 1162.4L487.1 1160.3L479.6 1160.3L472.1 1160.3L464.6 1162.4L461 1155.5L459 1148.7L457.8 1141.9L457.1 1136.8L456.1 1135.1L452.3 1128.2L448.7 1121.4L445.8 1114.6L442.1 1107.7L442.1 1107.7L440.8 1100.9L439.1 1094.1L438.3 1087.2L437.7 1080.4L437.3 1073.6L436.9 1066.8L436.6 1059.9L436.4 1053.1L436.2 1046.3L436 1039.4L435.8 1032.6L435.7 1025.8L438.3 1019L440.8 1012.1L442.1 1008.2L442.6 1005.3L443.6 998.5L445.4 991.6L448.8 984.8ZM637 984.8L637 991.6L637 998.5L637 1005.3L637 1012.1L637 1018.9L637 1025.8L637 1032.6L637 1039.4L637 1046.3L637 1053.1L637 1059.9L637 1066.8L637 1073.6L637 1080.4L637 1087.2L637 1094.1L637 1100.9L637 1107.7L637 1114.6L637 1121.4L637 1128.2L637 1135.1L637 1141.9L637 1148.7L637 1155.5L637 1162.4L637 1169.2L637 1176L637 1182.9L637 1189.7L637 1196.5L637 1203.4L637 1210.2L637 1217L637 1223.8L637 1230.7L637 1237.5L637 1244.3L637 1251.2L637 1258L635.9 1258L635.8 1251.2L635.8 1244.3L635.7 1237.5L635.7 1230.7L635.6 1223.8L635.5 1217L635.5 1210.2L635.4 1203.4L635.4 1196.5L635.3 1189.7L635.2 1182.9L635.2 1176L635.1 1169.2L635 1162.4L634.9 1155.5L634.8 1148.7L634.7 1141.9L634.6 1135.1L634.5 1128.2L634.5 1121.4L634.4 1114.6L634.4 1107.7L634.4 1100.9L634.3 1094.1L634.3 1087.2L634.2 1080.4L634.2 1073.6L634.2 1066.8L634.2 1059.9L634.2 1053.1L634.3 1046.3L634.3 1039.4L634.3 1032.6L634.4 1025.8L634.4 1019L634.4 1012.1L634.5 1005.3L634.5 998.5L634.5 991.6L634.5 984.8Z" fill="#2c738e" stroke="#2c738e" stroke-width="0.5"/>
<path d="M637 984.8L637 991.6L637 998.5L637 1005.3L637 1012.1L637 1018.9L637 1025.8L637 1032.6L637 1039.4L637 1046.3L637 1053.1L637 1059.9L637 1066.8L637 1073.6L637 1080.4L637 1087.2L637 1094.1L637 1100.9L637 1107.7L637 1114.6L637 1121.4L637 1128.2L637 1135.1L637 1141.9L637 1148.7L637 1155.5L637 1162.4L637 1166.9L637 1162.4L636.9 1155.5L636.8 1148.7L636.8 1141.9L636.7 1135.1L636.6 1128.2L636.6 1121.4L636.6 1114.6L636.6 1107.7L636.6 1100.9L636.6 1094.1L636.5 1087.2L636.5 1080.4L636.5 1073.6L636.5 1066.8L636.5 1059.9L636.5 1053.1L636.5 1046.3L636.6 1039.4L636.6 1032.6L636.6 1025.8L636.6 1018.9L636.6 1012.1L636.6 1005.3L636.6 998.5L636.6 991.6L636.6 984.8ZM457.1 991.6L459 998.5L459.1 1005.3L459.4 1012.1L460.1 1018.9L464.6 1025.8L464.6 1025.8L467.9 1032.6L472.1 1036.4L473.9 1039.4L478.2 1046.3L479.6 1049L481.2 1053.1L483.7 1059.9L485.6 1066.8L486.8 1073.6L487.1 1076L493.5 1080.4L501.7 1087.2L502.1 1087.6L504.6 1094.1L508.8 1100.9L514.1 1107.7L517 1114.6L517.1 1114.9L519 1121.4L521.5 1128.2L522.3 1130.3L524.7 1135.1L525.4 1141.9L526 1148.7L525.3 1155.5L524.5 1162.4L523.4 1169.2L522.3 1174.1L518.4 1176L517.1 1176.6L505.4 1182.9L502.1 1185.3L501.2 1182.9L498.9 1176L495.7 1169.2L492.3 1162.4L488.9 1155.5L487.1 1151.8L479.6 1149.1L477.6 1148.7L472.1 1147.7L464.6 1142.3L464.5 1141.9L462.6 1135.1L460.8 1128.2L459.5 1121.4L459.3 1114.6L459.1 1107.7L458.9 1100.9L458.7 1094.1L458.5 1087.2L458.3 1080.4L458.1 1073.6L457.9 1066.8L457.8 1059.9L457.7 1053.1L457.5 1046.3L457.1 1039.4L457.1 1039.4L455.6 1032.6L454.2 1025.8L453.6 1018.9L453.2 1012.1L452.9 1005.3L452.6 998.5ZM253.3 998.5L259.8 1005.3L261.2 1012.1L262.2 1018.9L262.2 1018.9L264 1025.8L266.8 1032.6L269.7 1036.7L270.3 1039.4L271.7 1046.3L274.8 1053.1L277 1059.9L277.2 1061L281.1 1066.8L283.7 1073.6L286.1 1080.4L287.8 1087.2L289.5 1094.1L292.2 1100.9L292.2 1100.9L292.2 1100.9L294.8 1094.1L298.4 1087.2L303.6 1080.4L307.2 1077L309.1 1080.4L313.2 1084.2L316.7 1087.2L320.5 1094.1L322.2 1098.9L322.7 1100.9L325.6 1107.7L326.7 1109.7L329.6 1107.7L335 1100.9L337.2 1094.1L337.2 1094.1L341.4 1087.2L345.6 1080.4L350.1 1073.6L352.2 1070.9L354.5 1073.6L359.8 1080.4L361.2 1082.4L363 1087.2L364.7 1094.1L363.2 1100.9L361.2 1106.9L359.7 1107.7L352.2 1111.5L348 1114.6L340.5 1121.4L337.2 1125.1L336 1128.2L333.8 1135.1L331.8 1141.9L330 1148.7L327.8 1155.5L326.7 1158.8L325.9 1162.4L324.4 1169.2L322.2 1175.7L322 1176L315.3 1182.9L313.2 1183.9L312.8 1182.9L311 1176L309.8 1169.2L308.8 1162.4L307.9 1155.5L307.2 1149.4L306.7 1148.7L300.3 1141.9L292.2 1135.1L292.2 1135.1L287.2 1128.2L279 1121.4L277.2 1120.4L276.7 1121.4L272.6 1128.2L269.7 1131L265.1 1128.2L262.2 1125.8L258.4 1121.4L255.3 1114.6L253.4 1107.7L253.3 1106.8L251.3 1100.9L249.8 1094.1L248.3 1087.2L248 1080.4L247.9 1073.6L247.7 1066.8L247.6 1059.9L247.4 1053.1L247.3 1046.3L247.7 1039.4L248.1 1032.6L248.5 1025.8L248.9 1019L249.2 1012.1L250.3 1005.3ZM232.3 1026.6L236.8 1026.6L242.1 1032.6L244.1 1039.4L247.3 1046.3L240.4 1053.1L236.8 1054.2L232.3 1054.2L232.1 1053.1L231.3 1046.3L230.6 1039.4L230.8 1032.6ZM568 1078L570.3 1080.4L574.3 1087.2L577 1094.1L577 1094.1L583.7 1100.9L586 1107.7L586 1107.7L586.7 1114.6L587.2 1121.4L586 1124.9L584 1128.2L580.3 1135.1L577 1140.9L576.5 1141.9L572.3 1148.7L569.7 1155.5L568 1161.7L564.1 1155.5L562 1153.2L559.4 1148.7L554.5 1141.9L549.5 1135.1L547.1 1129.3L546 1128.2L537.6 1121.4L534.5 1114.6L533 1107.7L532.1 1100.9L537.5 1094.1L544.8 1087.2L547.1 1085.9L562 1081.8L564.1 1080.4Z" fill="#26828e" stroke="#26828e" stroke-width="0.5"/>
<path d="M253.3 1010.8L253.7 1012.1L253.9 1018.9L254.4 1025.8L255.8 1032.6L259.2 1039.4L262.2 1040L269 1046.3L269.7 1046.7L273 1053.1L275.5 1059.9L277.2 1066.8L277.2 1066.8L280 1073.6L282.6 1080.4L283.9 1087.2L284.8 1094.1L286.2 1100.9L285.3 1107.7L277.2 1113.1L276.5 1114.6L272.7 1121.4L269.7 1126.1L264.1 1121.4L262.2 1119.9L259.1 1114.6L256.5 1107.7L254.8 1100.9L253.9 1094.1L253.3 1087.2L253.3 1085.9L252.4 1080.4L252.3 1073.6L252.2 1066.8L252.1 1059.9L252 1053.1L251.9 1046.3L252.2 1039.4L252.5 1032.6L252.8 1025.8L252.9 1018.9L253 1012.1ZM464.6 1042.9L472.1 1042.6L474.5 1046.3L478.5 1053.1L479.6 1055.1L481.7 1059.9L484 1066.8L485.4 1073.6L486.3 1080.4L487.1 1085.3L489.8 1087.2L498.3 1094.1L502.1 1097.5L504.2 1100.9L510.8 1107.7L514.5 1114.6L516.8 1121.4L517.1 1122.8L518.9 1128.2L521.7 1135.1L522.3 1137.3L523.3 1141.9L524.2 1148.7L523.4 1155.5L522.5 1162.4L522.3 1163.4L517.1 1168.2L513.5 1169.2L502.1 1173.9L500 1169.2L496.5 1162.4L493.1 1155.5L489.7 1148.7L487.1 1144.1L483.7 1141.9L479.6 1138.9L472.1 1135.1L472.1 1135.1L465.8 1128.2L464.6 1126.9L462.9 1121.4L462.7 1114.6L462.5 1107.7L462.3 1100.9L462.1 1094.1L461.9 1087.2L461.7 1080.4L461.5 1073.6L461.3 1066.8L461.8 1059.9L462.5 1053.1L463.6 1046.3ZM352.2 1078L354.1 1080.4L358.8 1087.2L361.2 1092.7L361.5 1094.1L361.2 1095.4L354.4 1100.9L352.2 1102.1L348.6 1100.9L345.6 1094.1L346.5 1087.2L350.6 1080.4ZM307.2 1083.2L313.2 1087.2L313.2 1087.2L317.8 1094.1L320.6 1100.9L322.2 1105.2L323.2 1107.7L326.7 1114.2L330.8 1114.6L331.3 1121.4L331.4 1128.2L329.5 1135.1L327.8 1141.9L326.7 1146.7L326.3 1148.7L324.5 1155.5L323.1 1162.4L322.2 1166.9L321.4 1169.2L316.8 1176L313.2 1179.4L312.3 1176L311 1169.2L309.9 1162.4L308.9 1155.5L308.1 1148.7L307.3 1141.9L307.2 1141.3L297.6 1135.1L293.8 1128.2L292.2 1122.5L291.1 1121.4L292.2 1118.7L292.6 1114.6L294.1 1107.7L296.1 1100.9L299.3 1094.1L303.7 1087.2ZM568 1083.5L570.6 1087.2L573.8 1094.1L576.2 1100.9L577 1103.8L579.6 1107.7L582.3 1114.6L583.7 1121.4L579.8 1128.2L577 1133.5L576.5 1135.1L573 1141.9L568 1148.7L562 1144.7L560 1141.9L553.4 1135.1L550.2 1128.2L547.6 1121.4L547.1 1120.2L541.8 1114.6L538.4 1107.7L539.8 1100.9L545 1094.1L547.1 1092.3L562 1087.2L562 1087.2ZM337.2 1105.6L340.7 1107.7L337.2 1111.5L336 1107.7Z" fill="#21918c" stroke="#21918c" stroke-width="0.5"/>
<path d="M262.2 1045.2L263.4 1046.3L269.7 1050.3L271.2 1053.1L274.1 1059.9L275.7 1066.8L276.8 1073.6L277.2 1075.9L279 1080.4L280.1 1087.2L280.1 1094.1L280.2 1100.9L277.2 1105L275.9 1107.7L272.4 1114.6L269.7 1119.4L263.7 1114.6L262.2 1113.5L259.5 1107.7L257.3 1100.9L256 1094.1L255.2 1087.2L254.6 1080.4L254.4 1073.6L254.5 1066.8L254.8 1059.9L255.5 1053.1L260.3 1046.3ZM472.1 1047.6L475.8 1053.1L479.6 1059.9L479.6 1059.9L482.3 1066.8L484 1073.6L484.9 1080.4L486 1087.2L487.1 1092L489.9 1094.1L497.9 1100.9L502.1 1102.6L507.5 1107.7L512.1 1114.6L514.9 1121.4L516.3 1128.2L517.1 1130.6L518.7 1135.1L520.9 1141.9L522.3 1148.7L520.8 1155.5L517.1 1162L514.9 1162.4L502.1 1165.1L500.7 1162.4L497.2 1155.6L493.9 1148.7L490 1141.9L487.1 1138.8L482.5 1135.1L479.6 1132L474.7 1128.2L472.1 1124.8L469.1 1121.4L466.9 1114.6L466 1107.7L465.5 1100.9L465.2 1094.1L465 1087.2L464.8 1080.4L464.7 1073.6L464.6 1066.8L465.3 1059.9L466.8 1053.1ZM352.2 1086.1L353 1087.2L352.2 1089.9L351.5 1087.2ZM307.2 1089.3L313.2 1091.3L315 1094.1L318.4 1100.9L321 1107.7L322.2 1109.6L325 1114.6L326.1 1121.4L326.7 1128.2L325.5 1135.1L324.2 1141.9L322.8 1148.7L322.2 1151.5L321.6 1155.5L320 1162.4L317.1 1169.2L313.2 1174.3L312.2 1169.2L311 1162.4L309.9 1155.5L309 1148.7L308.2 1141.9L307.2 1137.8L303 1135.1L297.1 1128.2L295 1121.4L295.5 1114.6L297.4 1107.7L299.9 1100.9L303.7 1094.1ZM568 1089.3L570.6 1094.1L573.4 1100.9L575.5 1107.7L577 1113.9L577.4 1114.6L579.1 1121.4L577 1125.2L576.1 1128.2L573.5 1135.1L569.5 1141.9L568 1143.9L565.6 1141.9L562 1139.6L557.2 1135.1L553.6 1128.2L551.1 1121.4L548.6 1114.6L547.1 1112.4L543.8 1107.7L547.1 1101.6L548 1100.9L562 1094.1L562 1094.1Z" fill="#1f9f88" stroke="#1f9f88" stroke-width="0.5"/>
<path d="M262.2 1049L268.6 1053.1L269.7 1053.8L272.6 1059.9L274.1 1066.8L275.3 1073.6L276.4 1080.4L276.6 1087.2L276.2 1094.1L275.3 1100.9L271.9 1107.7L269.7 1111.8L263.5 1107.7L262.2 1107.1L259.8 1100.9L258.1 1094.1L257 1087.2L256.2 1080.4L255.8 1073.6L256.2 1066.8L256.9 1059.9L258.6 1053.1ZM472.1 1051.7L473 1053.1L477.1 1059.9L479.6 1064L480.7 1066.8L482.6 1073.6L483.5 1080.4L484.5 1087.2L486 1094.1L487.1 1098.2L490.4 1100.9L502.1 1105.7L504.3 1107.7L509.7 1114.6L513 1121.4L513.9 1128.2L515.4 1135.1L517.1 1138.5L518.2 1141.9L520 1148.7L517.5 1155.5L517.1 1156.3L502.1 1156.9L501.4 1155.6L498 1148.7L494.3 1141.9L487.7 1135.1L487.1 1134.4L481.1 1128.2L479.6 1126.2L475.5 1121.4L472.1 1114.6L472.1 1114.6L469.7 1107.7L468.3 1100.9L467.5 1094.1L466.9 1087.2L466.5 1080.4L466.1 1073.6L466.4 1066.8L467.5 1059.9L470.8 1053.1ZM307.2 1095.4L313.2 1095.4L316.2 1100.9L319 1107.7L322.2 1112.9L323.2 1114.6L324.8 1121.4L324.5 1128.2L322.2 1135.1L322.2 1135.1L321.5 1141.9L320.5 1148.7L319 1155.5L316.7 1162.4L313.2 1168.5L312.1 1162.4L310.9 1155.5L309.9 1148.7L309 1141.9L307.5 1135.1L307.2 1134.4L300.5 1128.2L298.1 1121.4L298.3 1114.6L300.7 1107.7L303.8 1100.9ZM568 1095.4L570.6 1100.9L573 1107.7L574.9 1114.6L575.7 1121.4L573.6 1128.2L570.6 1135.1L568 1139.2L562 1136L561.1 1135.1L557.1 1128.2L554.6 1121.4L553.9 1114.6L551.3 1107.7L562 1100.9L562 1100.9Z" fill="#26ad81" stroke="#26ad81" stroke-width="0.5"/>
<path d="M262.2 1052.4L263.3 1053.1L269.7 1056.9L271.2 1059.9L272.5 1066.8L273.7 1073.6L274.6 1080.4L274.3 1087.2L273.4 1094.1L271.5 1100.9L269.7 1104.3L263 1100.9L262.2 1100.6L260.2 1094.1L258.8 1087.2L257.8 1080.4L257.2 1073.6L257.9 1066.8L258.9 1059.9L261.6 1053.1ZM472.1 1055.8L474.6 1059.9L478.6 1066.8L479.6 1068.3L481.2 1073.6L482.1 1080.4L483.1 1087.2L484.4 1094.1L485.7 1100.9L487.1 1104.3L496.5 1107.7L502.1 1108.7L507.2 1114.6L511.2 1121.4L511.5 1128.2L511.5 1135.1L511 1141.9L517.1 1146.4L517.8 1148.7L517.1 1150.5L502.1 1148.7L502.1 1148.7L498.5 1141.9L491.9 1135.1L487.1 1129.9L485.4 1128.2L480.2 1121.4L479.6 1120.4L475.9 1114.6L473.4 1107.7L472.1 1104.3L471.2 1100.9L469.8 1094.1L468.8 1087.2L468.1 1080.4L467.6 1073.6L468.3 1066.8L469.8 1059.9ZM313.2 1099.5L314 1100.9L317 1107.7L321.1 1114.6L322.2 1116.8L323.5 1121.4L322.2 1128.2L322.2 1128.2L320.5 1135.1L319.9 1141.9L318.5 1148.7L316.5 1155.5L313.4 1162.4L313.2 1162.7L313.2 1162.4L311.9 1155.5L310.8 1148.7L309.9 1141.9L308.5 1135.1L307.2 1131.3L303.9 1128.2L301.1 1121.4L301.1 1114.6L303.9 1107.7L307.2 1101.6L308.7 1100.9ZM568 1101.6L570.5 1107.7L572.5 1114.6L573.2 1121.4L571.1 1128.2L568 1134.3L562 1130.7L560.6 1128.2L558.2 1121.4L559.1 1114.6L562 1107.7L562 1107.7Z" fill="#3aba76" stroke="#3aba76" stroke-width="0.5"/>
<path d="M262.2 1057L269.7 1059.9L269.7 1059.9L271 1066.8L272.2 1073.6L272.8 1080.4L272 1087.2L270.5 1094.1L269.7 1096.4L262.2 1094.1L262.2 1094.1L260.7 1087.2L259.4 1080.4L258.6 1073.6L259.6 1066.8L261 1059.9ZM472.1 1059.9L475.5 1066.8L479.6 1073L479.8 1073.6L480.7 1080.4L481.6 1087.2L482.8 1094.1L483.1 1100.9L484.1 1107.7L487.1 1109.7L502.1 1111.5L504.8 1114.6L509.3 1121.4L509.1 1128.2L507.6 1135.1L502.1 1141.2L496.1 1135.1L489.7 1128.2L487.1 1125.5L483.9 1121.4L479.6 1114.6L479.6 1114.6L477.1 1107.7L474.6 1100.9L472.1 1094.1L472.1 1094.1L470.7 1087.2L469.7 1080.4L469 1073.6L470.1 1066.8ZM313.2 1103.9L315 1107.7L318.7 1114.6L322.2 1121.4L320.3 1128.2L318.9 1135.1L318.2 1141.9L316.5 1148.7L313.9 1155.5L313.2 1157.1L312.9 1155.5L311.7 1148.7L310.7 1141.9L309.6 1135.1L307.2 1128.2L307.2 1128.2L304.2 1121.4L304 1114.6L307.2 1107.7L307.2 1107.7ZM568 1107.7L570.2 1114.6L570.8 1121.4L568.5 1128.2L568 1129.2L566.6 1128.2L562 1122.4L561.7 1121.4L562 1120.2L564 1114.6Z" fill="#56c667" stroke="#56c667" stroke-width="0.5"/>
<path d="M262.2 1062.7L267.7 1066.8L269.7 1068.8L270.6 1073.6L271 1080.4L269.7 1087.2L262.2 1086.2L261.1 1080.4L260 1073.6L261.2 1066.8ZM472.1 1066.1L472.4 1066.8L476.4 1073.6L477 1080.4L479.6 1083.2L480.2 1087.2L481.2 1094.1L480.5 1100.9L479.6 1104.3L478.4 1100.9L475.9 1094.1L475.2 1087.2L472.1 1084.8L471.3 1080.4L470.4 1073.6L471.9 1066.8ZM307.2 1113.7L313.2 1108.3L316.4 1114.6L319.8 1121.4L318.5 1128.2L317.2 1135.1L316.5 1141.9L314.5 1148.7L313.2 1151.9L312.6 1148.7L311.5 1141.9L310.7 1135.1L308.8 1128.2L307.2 1121.4L307.2 1121.4L306.8 1114.6ZM487.1 1114.2L502.1 1114.3L502.4 1114.6L507.5 1121.4L506.7 1128.2L503.8 1135.1L502.1 1136.9L500.3 1135.1L494 1128.2L487.6 1121.4L487.1 1117.6L486.5 1114.6ZM568 1116.8L568.4 1121.4L568 1122.3L567.3 1121.4Z" fill="#77d153" stroke="#77d153" stroke-width="0.5"/>
<path d="M262.2 1069.5L266.5 1073.6L262.2 1078.3L261.4 1073.6ZM472.1 1072.3L472.8 1073.6L472.1 1075.5L471.8 1073.6ZM313.2 1113L314 1114.6L317.5 1121.4L316.6 1128.2L315.5 1135.1L314.9 1141.9L313.2 1146.9L312.4 1141.9L311.7 1135.1L310.4 1128.2L309.4 1121.4L311.5 1114.6ZM502.1 1116.7L505.6 1121.4L504.3 1128.2L502.1 1132.4L498.3 1128.2L492.6 1121.4Z" fill="#9dd93b" stroke="#9dd93b" stroke-width="0.5"/>
<path d="M313.2 1117.6L315.1 1121.4L314.7 1128.2L313.9 1135.1L313.2 1141.9L312.8 1135.1L312 1128.2L311.5 1121.4ZM502.1 1119.2L503.8 1121.4L502.1 1127.5L497.6 1121.4Z" fill="#c5e021" stroke="#c5e021" stroke-width="0.5"/>
<path d="M271.6 984.8L271.7 991.6L271.7 998.5L271.8 1005.3L273 1012.1L273.8 1019L274.4 1025.8L275.6 1032.6L276.7 1039.4L277.2 1042L280.3 1046.3L286 1053.1L289.9 1059.9L292.2 1065.5L302.8 1059.9L307.2 1058.6L307.7 1059.9L310 1066.8L312.7 1073.6L313.2 1074.4L322.2 1077.1L323.1 1080.4L324.4 1087.2L325.8 1094.1L326.7 1097.1L328.4 1094.1L331 1087.2L333.2 1080.4L335.6 1073.6L337.2 1069.9L339.5 1066.8L345 1059.9L349.9 1053.1L352.2 1049.7L356 1053.1L361.2 1059.9L361.2 1059.9L367.2 1066.8L367.2 1066.8L382.2 1073.6L382.2 1073.6L382.2 1073.6L397.2 1072.1L412.1 1070.3L418.1 1069.9L418.6 1066.8L419.3 1059.9L419.9 1053.1L419.8 1046.3L419.8 1039.4L419.7 1032.6L419.6 1025.8L419.7 1018.9L419.7 1012.1L419.7 1005.3L419.8 998.5L419.9 991.6L419.9 984.8M467.4 984.8L467.9 991.6L468.3 998.5L469.4 1005.3L471.2 1012.1L472.1 1014.5L474.1 1019L477.8 1025.8L479.6 1028.8L481 1032.6L483.6 1039.4L487.1 1046.3L487.1 1046.3L502.1 1052.5L502.6 1053.1L504.6 1059.9L506.7 1066.8L508.7 1073.6L511.1 1080.4L514.6 1087.2L517.1 1091.6L518.3 1094.1L520.3 1100.9L521.7 1107.7L522.3 1110.4L523.2 1107.7L524.3 1100.9L525.7 1094.1L527.1 1087.2L529 1080.4L531.5 1073.6L532.1 1072.2L547.1 1069L555.9 1066.8L562 1064.9L568 1062.1L577 1065.4L583.2 1059.9L586 1054.7L586.8 1053.1L588.2 1046.3L589.2 1039.4L589.5 1032.6L589.8 1025.8L589.9 1018.9L590.1 1012.1L590.3 1005.3L590.5 998.5L590.8 991.6L591 984.8M187.3 1109.6L190 1107.7L202.3 1101.3L202.6 1100.9L204.4 1094.1L207 1087.2L211.3 1080.4L211.3 1080.4L211.7 1073.6L212.1 1066.8L212.2 1059.9L212.3 1053.1L212.3 1046.3L212.4 1039.4L212.5 1032.6L212.6 1025.8L212.7 1018.9L212.9 1012.1L212.9 1005.3L212.9 998.5L213 991.6L213 984.8M500.1 1258L499.5 1251.2L498.9 1244.3L498.2 1237.5L497.5 1230.7L496.7 1223.8L495.9 1217L494.9 1210.2L493.9 1203.4L492 1196.5L490 1189.7L488.3 1182.9L487.1 1178.5L479.6 1182.9L479.6 1182.9L472.1 1186.4L470.4 1189.7L467.5 1196.5L464.6 1203.4L457.1 1200.5L452.6 1196.5L444 1189.7L442.1 1187.9L440.9 1189.7L436 1196.5L432.8 1203.4L430.5 1210.2L428.7 1217L427.4 1223.8L427.1 1224.2L427.1 1223.8L426.7 1217L426.3 1210.2L425.9 1203.4L425.4 1196.5L424.9 1189.7L424.4 1182.9L423.7 1176L423 1169.2L422.2 1162.4L421.5 1155.5L420.6 1148.7L419.5 1141.9L418.1 1135.1L418.1 1135.1L414.6 1128.2L412.1 1124.5L405.6 1128.2L397.2 1133.5L394.9 1135.1L382.2 1140.2L372.8 1135.1L367.2 1130.2L361.2 1135.1L361.2 1135.1L352.2 1140.5L351.2 1141.9L348.1 1148.7L343.8 1155.5L337.2 1162.4L337.2 1162.4L335.8 1169.2L334 1176L332 1182.9L329.7 1189.7L326.7 1196.5L326.7 1196.5L322.2 1200.6L314.7 1196.5L313.2 1196.2L309.1 1189.7L307.8 1182.9L307.2 1176L307.2 1176L299.2 1169.2L294.9 1162.4L292.2 1155.5L292.2 1155.5L281 1148.7L277.2 1141.9L277.2 1141.9L277.2 1141.9L269.7 1145.6L262.2 1145L259 1141.9L253.9 1135.1L253.3 1134.1L251.7 1135.1L247.3 1140.8L246.8 1141.9L244.6 1148.7L243 1155.5L241.6 1162.4L240.7 1169.2L239.8 1176L239.1 1182.9L238.4 1189.7L237.7 1196.5L237.1 1203.4L236.8 1205.6L236.6 1203.4L236.1 1196.5L235.6 1189.7L234.9 1182.9L234 1176L232.6 1169.2L232.3 1167.3L228 1162.4L220.9 1155.5L217.3 1152.3L211.3 1148.7L211.3 1148.7L202.3 1145.2L195.1 1141.9L187.3 1137.6M631.5 1258L631.4 1251.2L631.2 1244.3L630.9 1237.5L630.7 1230.7L630.5 1223.8L630.2 1217L629.9 1210.2L629.5 1203.4L629.1 1196.5L628.3 1189.7L626.9 1182.9L625 1176L622 1169.2L622 1169.2L622 1169.2L611 1176L607 1179L604.8 1176L600.1 1169.2L593.6 1162.4L592 1160.9L590 1155.5L587.2 1148.7L586 1147.8L585.6 1148.7L583.8 1155.5L577 1162.4L577 1162.4L576.1 1169.2L575 1176L573.6 1182.9L572 1189.7L569.8 1196.5L568 1201.2L566.1 1196.5L563.8 1189.7L562 1182.9L562 1182.9L554.8 1176L550.9 1169.2L548.4 1162.4L547.1 1158.4L543.6 1155.6L535.7 1148.7L532.8 1141.9L532.1 1141L531.9 1141.9L531.5 1148.7L531.1 1155.5L530.6 1162.4L530.5 1169.2L530.3 1176L530 1182.9L529.4 1189.7L529.2 1196.5L529 1203.4L528 1210.2L526.8 1217L525.5 1223.8L524 1230.7L522.3 1237.5L517.1 1237.5L517.1 1237.5L514.4 1244.3L511.9 1251.2L509.6 1258M253.3 1010.8L253.7 1012.1L253.9 1018.9L254.4 1025.8L255.8 1032.6L259.2 1039.4L262.2 1040L269 1046.3L269.7 1046.7L273 1053.1L275.5 1059.9L277.2 1066.8L277.2 1066.8L280 1073.6L282.6 1080.4L283.9 1087.2L284.8 1094.1L286.2 1100.9L285.3 1107.7L277.2 1113.1L276.5 1114.6L272.7 1121.4L269.7 1126.1L264.1 1121.4L262.2 1119.9L259.1 1114.6L256.5 1107.7L254.8 1100.9L253.9 1094.1L253.3 1087.2L253.3 1085.9L252.4 1080.4L252.3 1073.6L252.2 1066.8L252.1 1059.9L252 1053.1L251.9 1046.3L252.2 1039.4L252.5 1032.6L252.8 1025.8L252.9 1018.9L253 1012.1ZM464.6 1042.9L472.1 1042.6L474.5 1046.3L478.5 1053.1L479.6 1055.1L481.7 1059.9L484 1066.8L485.4 1073.6L486.3 1080.4L487.1 1085.3L489.8 1087.2L498.3 1094.1L502.1 1097.5L504.2 1100.9L510.8 1107.7L514.5 1114.6L516.8 1121.4L517.1 1122.8L518.9 1128.2L521.7 1135.1L522.3 1137.3L523.3 1141.9L524.2 1148.7L523.4 1155.5L522.5 1162.4L522.3 1163.4L517.1 1168.2L513.5 1169.2L502.1 1173.9L500 1169.2L496.5 1162.4L493.1 1155.5L489.7 1148.7L487.1 1144.1L483.7 1141.9L479.6 1138.9L472.1 1135.1L472.1 1135.1L465.8 1128.2L464.6 1126.9L462.9 1121.4L462.7 1114.6L462.5 1107.7L462.3 1100.9L462.1 1094.1L461.9 1087.2L461.7 1080.4L461.5 1073.6L461.3 1066.8L461.8 1059.9L462.5 1053.1L463.6 1046.3ZM352.2 1078L354.1 1080.4L358.8 1087.2L361.2 1092.7L361.5 1094.1L361.2 1095.4L354.4 1100.9L352.2 1102.1L348.6 1100.9L345.6 1094.1L346.5 1087.2L350.6 1080.4ZM307.2 1083.2L313.2 1087.2L313.2 1087.2L317.8 1094.1L320.6 1100.9L322.2 1105.2L323.2 1107.7L326.7 1114.2L330.8 1114.6L331.3 1121.4L331.4 1128.2L329.5 1135.1L327.8 1141.9L326.7 1146.7L326.3 1148.7L324.5 1155.5L323.1 1162.4L322.2 1166.9L321.4 1169.2L316.8 1176L313.2 1179.4L312.3 1176L311 1169.2L309.9 1162.4L308.9 1155.5L308.1 1148.7L307.3 1141.9L307.2 1141.3L297.6 1135.1L293.8 1128.2L292.2 1122.5L291.1 1121.4L292.2 1118.7L292.6 1114.6L294.1 1107.7L296.1 1100.9L299.3 1094.1L303.7 1087.2ZM568 1083.5L570.6 1087.2L573.8 1094.1L576.2 1100.9L577 1103.8L579.6 1107.7L582.3 1114.6L583.7 1121.4L579.8 1128.2L577 1133.5L576.5 1135.1L573 1141.9L568 1148.7L562 1144.7L560 1141.9L553.4 1135.1L550.2 1128.2L547.6 1121.4L547.1 1120.2L541.8 1114.6L538.4 1107.7L539.8 1100.9L545 1094.1L547.1 1092.3L562 1087.2L562 1087.2ZM337.2 1105.6L340.7 1107.7L337.2 1111.5L336 1107.7ZM262.2 1057L269.7 1059.9L269.7 1059.9L271 1066.8L272.2 1073.6L272.8 1080.4L272 1087.2L270.5 1094.1L269.7 1096.4L262.2 1094.1L262.2 1094.1L260.7 1087.2L259.4 1080.4L258.6 1073.6L259.6 1066.8L261 1059.9ZM472.1 1059.9L475.5 1066.8L479.6 1073L479.8 1073.6L480.7 1080.4L481.6 1087.2L482.8 1094.1L483.1 1100.9L484.1 1107.7L487.1 1109.7L502.1 1111.5L504.8 1114.6L509.3 1121.4L509.1 1128.2L507.6 1135.1L502.1 1141.2L496.1 1135.1L489.7 1128.2L487.1 1125.5L483.9 1121.4L479.6 1114.6L479.6 1114.6L477.1 1107.7L474.6 1100.9L472.1 1094.1L472.1 1094.1L470.7 1087.2L469.7 1080.4L469 1073.6L470.1 1066.8ZM313.2 1103.9L315 1107.7L318.7 1114.6L322.2 1121.4L320.3 1128.2L318.9 1135.1L318.2 1141.9L316.5 1148.7L313.9 1155.5L313.2 1157.1L312.9 1155.5L311.7 1148.7L310.7 1141.9L309.6 1135.1L307.2 1128.2L307.2 1128.2L304.2 1121.4L304 1114.6L307.2 1107.7L307.2 1107.7ZM568 1107.7L570.2 1114.6L570.8 1121.4L568.5 1128.2L568 1129.2L566.6 1128.2L562 1122.4L561.7 1121.4L562 1120.2L564 1114.6Z" fill="none" stroke="#000" stroke-width="1.25" stroke-linejoin="round"/>
</g>
<rect x="187.3" y="22.6" width="449.7" height="273.7" fill="none" stroke="#000" stroke-width="1.6"/>
<line x1="180.3" y1="91" x2="187.3" y2="91" stroke="#000" stroke-width="1.6"/>
<text x="172.7" y="99.9" font-size="24.8" text-anchor="end" fill="#000" >50</text>
<line x1="180.3" y1="159.4" x2="187.3" y2="159.4" stroke="#000" stroke-width="1.6"/>
<text x="172.7" y="168.3" font-size="24.8" text-anchor="end" fill="#000" >100</text>
<line x1="180.3" y1="227.9" x2="187.3" y2="227.9" stroke="#000" stroke-width="1.6"/>
<text x="172.7" y="236.8" font-size="24.8" text-anchor="end" fill="#000" >150</text>
<line x1="180.3" y1="296.3" x2="187.3" y2="296.3" stroke="#000" stroke-width="1.6"/>
<text x="172.7" y="305.2" font-size="24.8" text-anchor="end" fill="#000" >200</text>
<rect x="187.3" y="309" width="449.7" height="273.5" fill="none" stroke="#000" stroke-width="1.6"/>
<line x1="180.3" y1="377.4" x2="187.3" y2="377.4" stroke="#000" stroke-width="1.6"/>
<text x="172.7" y="386.3" font-size="24.8" text-anchor="end" fill="#000" >50</text>
<line x1="180.3" y1="445.8" x2="187.3" y2="445.8" stroke="#000" stroke-width="1.6"/>
<text x="172.7" y="454.6" font-size="24.8" text-anchor="end" fill="#000" >100</text>
<line x1="180.3" y1="514.1" x2="187.3" y2="514.1" stroke="#000" stroke-width="1.6"/>
<text x="172.7" y="523" font-size="24.8" text-anchor="end" fill="#000" >150</text>
<line x1="180.3" y1="582.5" x2="187.3" y2="582.5" stroke="#000" stroke-width="1.6"/>
<text x="172.7" y="591.4" font-size="24.8" text-anchor="end" fill="#000" >200</text>
<rect x="187.3" y="696.8" width="449.7" height="273.2" fill="none" stroke="#000" stroke-width="1.6"/>
<line x1="180.3" y1="765.1" x2="187.3" y2="765.1" stroke="#000" stroke-width="1.6"/>
<text x="172.7" y="774" font-size="24.8" text-anchor="end" fill="#000" >50</text>
<line x1="180.3" y1="833.4" x2="187.3" y2="833.4" stroke="#000" stroke-width="1.6"/>
<text x="172.7" y="842.3" font-size="24.8" text-anchor="end" fill="#000" >100</text>
<line x1="180.3" y1="901.7" x2="187.3" y2="901.7" stroke="#000" stroke-width="1.6"/>
<text x="172.7" y="910.6" font-size="24.8" text-anchor="end" fill="#000" >150</text>
<line x1="180.3" y1="970" x2="187.3" y2="970" stroke="#000" stroke-width="1.6"/>
<text x="172.7" y="978.9" font-size="24.8" text-anchor="end" fill="#000" >200</text>
<rect x="187.3" y="984.8" width="449.7" height="273.2" fill="none" stroke="#000" stroke-width="1.6"/>
<line x1="180.3" y1="1053.1" x2="187.3" y2="1053.1" stroke="#000" stroke-width="1.6"/>
<text x="172.7" y="1062" font-size="24.8" text-anchor="end" fill="#000" >50</text>
<line x1="180.3" y1="1121.4" x2="187.3" y2="1121.4" stroke="#000" stroke-width="1.6"/>
<text x="172.7" y="1130.3" font-size="24.8" text-anchor="end" fill="#000" >100</text>
<line x1="180.3" y1="1189.7" x2="187.3" y2="1189.7" stroke="#000" stroke-width="1.6"/>
<text x="172.7" y="1198.6" font-size="24.8" text-anchor="end" fill="#000" >150</text>
<line x1="180.3" y1="1258" x2="187.3" y2="1258" stroke="#000" stroke-width="1.6"/>
<text x="172.7" y="1266.9" font-size="24.8" text-anchor="end" fill="#000" >200</text>
<line x1="188.1" y1="985.9" x2="636.2" y2="985.9" stroke="#fff" stroke-width="1.3"/>
<line x1="180.3" y1="984.8" x2="187.3" y2="984.8" stroke="#000" stroke-width="1.6"/>
<rect x="187.6" y="131.4" width="12.3" height="83.5" fill="#e01515"/>
<rect x="187.6" y="417.7" width="12.3" height="83.4" fill="#e01515"/>
<rect x="187.6" y="750.8" width="12.3" height="165.3" fill="#e01515"/>
<rect x="187.6" y="1038.8" width="12.3" height="165.3" fill="#e01515"/>
<line x1="212.7" y1="582.5" x2="212.7" y2="589.5" stroke="#000" stroke-width="1.6"/>
<text transform="translate(201.1 609.1) rotate(45)" font-size="24.9" text-anchor="start" fill="#000">2003-01</text>
<line x1="259.9" y1="582.5" x2="259.9" y2="589.5" stroke="#000" stroke-width="1.6"/>
<text transform="translate(248.3 609.1) rotate(45)" font-size="24.9" text-anchor="start" fill="#000">2003-04</text>
<line x1="307.6" y1="582.5" x2="307.6" y2="589.5" stroke="#000" stroke-width="1.6"/>
<text transform="translate(296 609.1) rotate(45)" font-size="24.9" text-anchor="start" fill="#000">2003-07</text>
<line x1="355.8" y1="582.5" x2="355.8" y2="589.5" stroke="#000" stroke-width="1.6"/>
<text transform="translate(344.2 609.1) rotate(45)" font-size="24.9" text-anchor="start" fill="#000">2003-10</text>
<line x1="404" y1="582.5" x2="404" y2="589.5" stroke="#000" stroke-width="1.6"/>
<text transform="translate(392.4 609.1) rotate(45)" font-size="24.9" text-anchor="start" fill="#000">2004-01</text>
<line x1="451.7" y1="582.5" x2="451.7" y2="589.5" stroke="#000" stroke-width="1.6"/>
<text transform="translate(440.1 609.1) rotate(45)" font-size="24.9" text-anchor="start" fill="#000">2004-04</text>
<line x1="499.4" y1="582.5" x2="499.4" y2="589.5" stroke="#000" stroke-width="1.6"/>
<text transform="translate(487.8 609.1) rotate(45)" font-size="24.9" text-anchor="start" fill="#000">2004-07</text>
<line x1="547.7" y1="582.5" x2="547.7" y2="589.5" stroke="#000" stroke-width="1.6"/>
<text transform="translate(536.1 609.1) rotate(45)" font-size="24.9" text-anchor="start" fill="#000">2004-10</text>
<line x1="595.9" y1="582.5" x2="595.9" y2="589.5" stroke="#000" stroke-width="1.6"/>
<text transform="translate(584.3 609.1) rotate(45)" font-size="24.9" text-anchor="start" fill="#000">2005-01</text>
<line x1="212.7" y1="1258" x2="212.7" y2="1265" stroke="#000" stroke-width="1.6"/>
<text transform="translate(201.1 1284.6) rotate(45)" font-size="24.9" text-anchor="start" fill="#000">2003-01</text>
<line x1="259.9" y1="1258" x2="259.9" y2="1265" stroke="#000" stroke-width="1.6"/>
<text transform="translate(248.3 1284.6) rotate(45)" font-size="24.9" text-anchor="start" fill="#000">2003-04</text>
<line x1="307.6" y1="1258" x2="307.6" y2="1265" stroke="#000" stroke-width="1.6"/>
<text transform="translate(296 1284.6) rotate(45)" font-size="24.9" text-anchor="start" fill="#000">2003-07</text>
<line x1="355.8" y1="1258" x2="355.8" y2="1265" stroke="#000" stroke-width="1.6"/>
<text transform="translate(344.2 1284.6) rotate(45)" font-size="24.9" text-anchor="start" fill="#000">2003-10</text>
<line x1="404" y1="1258" x2="404" y2="1265" stroke="#000" stroke-width="1.6"/>
<text transform="translate(392.4 1284.6) rotate(45)" font-size="24.9" text-anchor="start" fill="#000">2004-01</text>
<line x1="451.7" y1="1258" x2="451.7" y2="1265" stroke="#000" stroke-width="1.6"/>
<text transform="translate(440.1 1284.6) rotate(45)" font-size="24.9" text-anchor="start" fill="#000">2004-04</text>
<line x1="499.4" y1="1258" x2="499.4" y2="1265" stroke="#000" stroke-width="1.6"/>
<text transform="translate(487.8 1284.6) rotate(45)" font-size="24.9" text-anchor="start" fill="#000">2004-07</text>
<line x1="547.7" y1="1258" x2="547.7" y2="1265" stroke="#000" stroke-width="1.6"/>
<text transform="translate(536.1 1284.6) rotate(45)" font-size="24.9" text-anchor="start" fill="#000">2004-10</text>
<line x1="595.9" y1="1258" x2="595.9" y2="1265" stroke="#000" stroke-width="1.6"/>
<text transform="translate(584.3 1284.6) rotate(45)" font-size="24.9" text-anchor="start" fill="#000">2005-01</text>
<circle cx="226" cy="315.8" r="4.3" fill="#fff" stroke="#000" stroke-width="1.6"/>
<circle cx="246.5" cy="315.8" r="4.3" fill="#fff" stroke="#000" stroke-width="1.6"/>
<circle cx="262.8" cy="315.8" r="4.3" fill="#fff" stroke="#000" stroke-width="1.6"/>
<circle cx="276.7" cy="315.8" r="4.3" fill="#fff" stroke="#000" stroke-width="1.6"/>
<circle cx="290.8" cy="315.8" r="4.3" fill="#fff" stroke="#000" stroke-width="1.6"/>
<circle cx="306.8" cy="315.8" r="4.3" fill="#fff" stroke="#000" stroke-width="1.6"/>
<circle cx="322.5" cy="315.8" r="4.3" fill="#fff" stroke="#000" stroke-width="1.6"/>
<circle cx="339.6" cy="315.8" r="4.3" fill="#fff" stroke="#000" stroke-width="1.6"/>
<circle cx="382" cy="315.8" r="4.3" fill="#fff" stroke="#000" stroke-width="1.6"/>
<circle cx="403.9" cy="315.8" r="4.3" fill="#fff" stroke="#000" stroke-width="1.6"/>
<circle cx="420.7" cy="315.8" r="4.3" fill="#fff" stroke="#000" stroke-width="1.6"/>
<circle cx="438.8" cy="315.8" r="4.3" fill="#fff" stroke="#000" stroke-width="1.6"/>
<circle cx="483.3" cy="315.8" r="4.3" fill="#fff" stroke="#000" stroke-width="1.6"/>
<circle cx="498" cy="315.8" r="4.3" fill="#fff" stroke="#000" stroke-width="1.6"/>
<circle cx="530" cy="315.8" r="4.3" fill="#fff" stroke="#000" stroke-width="1.6"/>
<circle cx="553.2" cy="315.8" r="4.3" fill="#fff" stroke="#000" stroke-width="1.6"/>
<circle cx="559.9" cy="315.8" r="4.3" fill="#fff" stroke="#000" stroke-width="1.6"/>
<circle cx="576.1" cy="315.8" r="4.3" fill="#fff" stroke="#000" stroke-width="1.6"/>
<circle cx="594" cy="315.8" r="4.3" fill="#fff" stroke="#000" stroke-width="1.6"/>
<circle cx="368.1" cy="322.7" r="4.3" fill="#fff" stroke="#000" stroke-width="1.6"/>
<circle cx="451.3" cy="322.7" r="4.3" fill="#fff" stroke="#000" stroke-width="1.6"/>
<circle cx="468.1" cy="343.5" r="4.3" fill="#fff" stroke="#000" stroke-width="1.6"/>
<circle cx="368.1" cy="377.7" r="4.3" fill="#fff" stroke="#000" stroke-width="1.6"/>
<circle cx="403.9" cy="425.7" r="4.3" fill="#fff" stroke="#000" stroke-width="1.6"/>
<circle cx="420.7" cy="446.2" r="4.3" fill="#fff" stroke="#000" stroke-width="1.6"/>
<circle cx="438.8" cy="446.2" r="4.5" fill="#fff" stroke="#000" stroke-width="1.6"/>
<circle cx="451.3" cy="466.5" r="4.3" fill="#fff" stroke="#000" stroke-width="1.6"/>
<circle cx="306.8" cy="446.7" r="8.8" fill="#fff" stroke="#000" stroke-width="1.6"/>
<circle cx="246.5" cy="466.5" r="8" fill="#fff" stroke="#000" stroke-width="1.6"/>
<circle cx="290.8" cy="466.5" r="6.4" fill="#fff" stroke="#000" stroke-width="1.6"/>
<circle cx="226" cy="480.3" r="6.1" fill="#fff" stroke="#000" stroke-width="1.6"/>
<circle cx="262.8" cy="480.9" r="6.7" fill="#fff" stroke="#000" stroke-width="1.6"/>
<circle cx="279.9" cy="480.9" r="7.5" fill="#fff" stroke="#000" stroke-width="1.6"/>
<circle cx="322" cy="479.8" r="8.8" fill="#fff" stroke="#000" stroke-width="1.6"/>
<circle cx="339.6" cy="477.7" r="12" fill="#fff" stroke="#000" stroke-width="1.6"/>
<circle cx="350" cy="463" r="12" fill="#fff" stroke="#000" stroke-width="1.6"/>
<circle cx="368.1" cy="446.2" r="8" fill="#fff" stroke="#000" stroke-width="1.6"/>
<circle cx="382" cy="446.2" r="10.1" fill="#fff" stroke="#000" stroke-width="1.6"/>
<circle cx="483.3" cy="466.5" r="5.9" fill="#fff" stroke="#000" stroke-width="1.6"/>
<circle cx="468.1" cy="480.3" r="5.3" fill="#fff" stroke="#000" stroke-width="1.6"/>
<circle cx="498" cy="480.9" r="10.1" fill="#fff" stroke="#000" stroke-width="1.6"/>
<circle cx="528.7" cy="445.7" r="13.3" fill="#fff" stroke="#000" stroke-width="1.6"/>
<circle cx="539.3" cy="466.5" r="9.3" fill="#fff" stroke="#000" stroke-width="1.6"/>
<circle cx="563.3" cy="459.5" r="12" fill="#fff" stroke="#000" stroke-width="1.6"/>
<circle cx="576.1" cy="446.2" r="7.5" fill="#fff" stroke="#000" stroke-width="1.6"/>
<circle cx="594" cy="446.2" r="5.3" fill="#fff" stroke="#000" stroke-width="1.6"/>
<circle cx="226" cy="548.3" r="4.5" fill="#fff" stroke="#000" stroke-width="1.6"/>
<circle cx="246.5" cy="548.3" r="4.3" fill="#fff" stroke="#000" stroke-width="1.6"/>
<circle cx="262.8" cy="548.3" r="6.7" fill="#fff" stroke="#000" stroke-width="1.6"/>
<circle cx="276.7" cy="548.3" r="6.7" fill="#fff" stroke="#000" stroke-width="1.6"/>
<circle cx="290.8" cy="548.3" r="5.1" fill="#fff" stroke="#000" stroke-width="1.6"/>
<circle cx="306.8" cy="547" r="4" fill="#fff" stroke="#000" stroke-width="1.6"/>
<circle cx="337.5" cy="548.3" r="6.7" fill="#fff" stroke="#000" stroke-width="1.6"/>
<circle cx="468.1" cy="548.3" r="5.1" fill="#fff" stroke="#000" stroke-width="1.6"/>
<circle cx="483.3" cy="548.3" r="4.3" fill="#fff" stroke="#000" stroke-width="1.6"/>
<circle cx="498" cy="547.8" r="5.9" fill="#fff" stroke="#000" stroke-width="1.6"/>
<circle cx="238.5" cy="986" r="4.5" fill="#fff" stroke="#000" stroke-width="1.6"/>
<circle cx="253.5" cy="986" r="4.5" fill="#fff" stroke="#000" stroke-width="1.6"/>
<circle cx="284.1" cy="986" r="4.5" fill="#fff" stroke="#000" stroke-width="1.6"/>
<circle cx="357.5" cy="986" r="4.5" fill="#fff" stroke="#000" stroke-width="1.6"/>
<circle cx="372.1" cy="986" r="4.5" fill="#fff" stroke="#000" stroke-width="1.6"/>
<circle cx="387.1" cy="986" r="4.5" fill="#fff" stroke="#000" stroke-width="1.6"/>
<circle cx="416.4" cy="986" r="4.5" fill="#fff" stroke="#000" stroke-width="1.6"/>
<circle cx="430.8" cy="986" r="4.5" fill="#fff" stroke="#000" stroke-width="1.6"/>
<circle cx="445.5" cy="986" r="4.5" fill="#fff" stroke="#000" stroke-width="1.6"/>
<circle cx="460.7" cy="986" r="4.5" fill="#fff" stroke="#000" stroke-width="1.6"/>
<circle cx="537.2" cy="986" r="4.5" fill="#fff" stroke="#000" stroke-width="1.6"/>
<circle cx="552.1" cy="986" r="4.5" fill="#fff" stroke="#000" stroke-width="1.6"/>
<circle cx="567.9" cy="986" r="4.5" fill="#fff" stroke="#000" stroke-width="1.6"/>
<circle cx="582" cy="986" r="4.5" fill="#fff" stroke="#000" stroke-width="1.6"/>
<circle cx="269.5" cy="998" r="4.5" fill="#fff" stroke="#000" stroke-width="1.6"/>
<circle cx="328.4" cy="998" r="4.5" fill="#fff" stroke="#000" stroke-width="1.6"/>
<circle cx="475.1" cy="998" r="4.5" fill="#fff" stroke="#000" stroke-width="1.6"/>
<circle cx="238.5" cy="1039.6" r="4.5" fill="#fff" stroke="#000" stroke-width="1.6"/>
<circle cx="416.4" cy="1039.6" r="4.5" fill="#fff" stroke="#000" stroke-width="1.6"/>
<circle cx="430.8" cy="1039.6" r="4.5" fill="#fff" stroke="#000" stroke-width="1.6"/>
<circle cx="460.7" cy="1039.6" r="4.5" fill="#fff" stroke="#000" stroke-width="1.6"/>
<circle cx="445.5" cy="1066.5" r="4.5" fill="#fff" stroke="#000" stroke-width="1.6"/>
<circle cx="253.5" cy="1094.3" r="4.5" fill="#fff" stroke="#000" stroke-width="1.6"/>
<circle cx="269.5" cy="1094.3" r="4.5" fill="#fff" stroke="#000" stroke-width="1.6"/>
<circle cx="357.5" cy="1094.3" r="4.5" fill="#fff" stroke="#000" stroke-width="1.6"/>
<circle cx="372.1" cy="1094.3" r="4.5" fill="#fff" stroke="#000" stroke-width="1.6"/>
<circle cx="475.1" cy="1094.3" r="4.5" fill="#fff" stroke="#000" stroke-width="1.6"/>
<circle cx="567.9" cy="1094.3" r="4.5" fill="#fff" stroke="#000" stroke-width="1.6"/>
<circle cx="284.1" cy="1121.5" r="4.5" fill="#fff" stroke="#000" stroke-width="1.6"/>
<circle cx="328.4" cy="1121.5" r="4.5" fill="#fff" stroke="#000" stroke-width="1.6"/>
<circle cx="387.1" cy="1121.5" r="4.5" fill="#fff" stroke="#000" stroke-width="1.6"/>
<circle cx="489.5" cy="1121.5" r="4.5" fill="#fff" stroke="#000" stroke-width="1.6"/>
<circle cx="537.2" cy="1121.5" r="4.5" fill="#fff" stroke="#000" stroke-width="1.6"/>
<circle cx="552.1" cy="1121.5" r="4.5" fill="#fff" stroke="#000" stroke-width="1.6"/>
<circle cx="582" cy="1121.5" r="4.5" fill="#fff" stroke="#000" stroke-width="1.6"/>
<circle cx="314" cy="1148.7" r="5.1" fill="#fff" stroke="#000" stroke-width="1.6"/>
<circle cx="522.5" cy="1148.7" r="4.5" fill="#fff" stroke="#000" stroke-width="1.6"/>
<circle cx="328.4" cy="1203.6" r="4.5" fill="#fff" stroke="#000" stroke-width="1.6"/>
<circle cx="522.5" cy="1230.8" r="4.5" fill="#fff" stroke="#000" stroke-width="1.6"/>
<circle cx="567.9" cy="1230.8" r="4.5" fill="#fff" stroke="#000" stroke-width="1.6"/>
<rect x="538.9" y="39.8" width="81.2" height="42.2" rx="11" ry="11" fill="#fff" fill-opacity="0.62"/>
<text x="578.3" y="72.8" font-size="36.3" text-anchor="middle" fill="#000" letter-spacing="1">HLII</text>
<rect x="538.9" y="333.4" width="81.2" height="42.4" rx="11" ry="11" fill="#fff" fill-opacity="0.62"/>
<text x="578.4" y="367.1" font-size="36.3" text-anchor="middle" fill="#000" letter-spacing="1">LLI</text>
<rect x="544.4" y="717.8" width="80.9" height="42.2" rx="11" ry="11" fill="#fff" fill-opacity="0.62"/>
<text x="583.7" y="751.6" font-size="36.3" text-anchor="middle" fill="#000" letter-spacing="1">HLII</text>
<rect x="544.4" y="1009.2" width="81.1" height="42.2" rx="11" ry="11" fill="#fff" fill-opacity="0.62"/>
<text x="583.9" y="1042.1" font-size="36.3" text-anchor="middle" fill="#000" letter-spacing="1">LLI</text>
<text x="-0.7" y="36.1" font-size="51" text-anchor="start" fill="#000" >A</text>
<text transform="translate(41 274.5) rotate(-90)" font-size="40.4" text-anchor="middle" fill="#000">N. Pacific (ALOHA)</text>
<text transform="translate(98 312.5) rotate(-90)" font-size="33.4" text-anchor="middle" fill="#000">Depth (m)</text>
<text transform="translate(41 994) rotate(-90)" font-size="40.4" text-anchor="middle" fill="#000">N. Atlantic (BATS)</text>
<text transform="translate(98 984) rotate(-90)" font-size="33.4" text-anchor="middle" fill="#000">Depth (m)</text>
<rect x="35.1" y="600.2" width="11.4" height="91.4" fill="#e01515"/>
<text x="59.7" y="634.2" font-size="28.4" text-anchor="start" fill="#000" >DCM</text>
<text x="59.7" y="669" font-size="28.4" text-anchor="start" fill="#000" >range</text>
<text x="675" y="65.7" font-size="30.5" font-style="italic">f</text>
<text x="683.2" y="76.3" font-size="19.15" text-anchor="start" fill="#000" >Sidero. consumer</text>
<circle cx="700.6" cy="118.2" r="13.9" fill="#fff" stroke="#000" stroke-width="1.8"/>
<text x="800.4" y="124.8" font-size="25" text-anchor="end" fill="#000" >&gt; 0.50</text>
<circle cx="700.6" cy="145.8" r="12.9" fill="#fff" stroke="#000" stroke-width="1.8"/>
<text x="800.4" y="152.2" font-size="25" text-anchor="end" fill="#000" >0.40</text>
<circle cx="700.6" cy="173.8" r="11.6" fill="#fff" stroke="#000" stroke-width="1.8"/>
<text x="800.4" y="179.8" font-size="25" text-anchor="end" fill="#000" >0.32</text>
<circle cx="700.6" cy="201.2" r="10" fill="#fff" stroke="#000" stroke-width="1.8"/>
<text x="800.4" y="207.2" font-size="25" text-anchor="end" fill="#000" >0.24</text>
<circle cx="700.6" cy="228.5" r="8.1" fill="#fff" stroke="#000" stroke-width="1.8"/>
<text x="800.4" y="234.4" font-size="25" text-anchor="end" fill="#000" >0.16</text>
<circle cx="700.6" cy="255.9" r="4.6" fill="#fff" stroke="#000" stroke-width="1.8"/>
<text x="800.4" y="261.9" font-size="25" text-anchor="end" fill="#000" >&lt; 0.05</text>
<text x="686.1" y="329.8" font-size="29.4">(cells ml<tspan font-size="17.6" dy="-11.5">-1</tspan><tspan dy="11.5">)</tspan></text>
<rect x="692" y="351.8" width="28" height="183.8" fill="#ece51b"/>
<rect x="692" y="362.6" width="28" height="173" fill="#c5e021"/>
<rect x="692" y="373.4" width="28" height="162.2" fill="#9dd93b"/>
<rect x="692" y="384.2" width="28" height="151.4" fill="#77d153"/>
<rect x="692" y="395" width="28" height="140.6" fill="#56c667"/>
<rect x="692" y="405.9" width="28" height="129.7" fill="#3aba76"/>
<rect x="692" y="416.7" width="28" height="118.9" fill="#26ad81"/>
<rect x="692" y="427.5" width="28" height="108.1" fill="#1f9f88"/>
<rect x="692" y="438.3" width="28" height="97.3" fill="#21918c"/>
<rect x="692" y="449.1" width="28" height="86.5" fill="#26828e"/>
<rect x="692" y="459.9" width="28" height="75.7" fill="#2c738e"/>
<rect x="692" y="470.7" width="28" height="64.9" fill="#32658e"/>
<rect x="692" y="481.5" width="28" height="54.1" fill="#39558c"/>
<rect x="692" y="492.4" width="28" height="43.2" fill="#404588"/>
<rect x="692" y="503.2" width="28" height="32.4" fill="#46337f"/>
<rect x="692" y="514" width="28" height="21.6" fill="#482071"/>
<rect x="692" y="524.8" width="28" height="10.8" fill="#460b5e"/>
<rect x="692" y="352.3" width="28" height="183.3" fill="none" stroke="#000" stroke-width="1.7"/>
<line x1="720" y1="362.6" x2="728.7" y2="362.6" stroke="#000" stroke-width="1.6"/>
<text x="737.8" y="371.5" font-size="25" text-anchor="start" fill="#000" >3.3e4</text>
<line x1="720" y1="405.9" x2="728.7" y2="405.9" stroke="#000" stroke-width="1.6"/>
<text x="737.8" y="414.8" font-size="25" text-anchor="start" fill="#000" >1.4e4</text>
<line x1="720" y1="449.1" x2="728.7" y2="449.1" stroke="#000" stroke-width="1.6"/>
<text x="737.8" y="458" font-size="25" text-anchor="start" fill="#000" >4.1e3</text>
<line x1="720" y1="492.4" x2="728.7" y2="492.4" stroke="#000" stroke-width="1.6"/>
<text x="737.8" y="501.3" font-size="25" text-anchor="start" fill="#000" >5.0e2</text>
<rect x="992.4" y="136.5" width="393" height="327.4" fill="#fff"/>
<line x1="1073.6" y1="463.9" x2="1073.6" y2="136.5" stroke="#7a7a7a" stroke-width="3" stroke-dasharray="5.3 5.5"/>
<line x1="1169.3" y1="463.9" x2="1169.3" y2="136.5" stroke="#7a7a7a" stroke-width="3" stroke-dasharray="5.3 5.5"/>
<line x1="1264.7" y1="463.9" x2="1264.7" y2="136.5" stroke="#7a7a7a" stroke-width="3" stroke-dasharray="5.3 5.5"/>
<line x1="1356.5" y1="463.9" x2="1356.5" y2="136.5" stroke="#7a7a7a" stroke-width="3" stroke-dasharray="5.3 5.5"/>
<text x="1035.5" y="174.8" font-size="29.3" text-anchor="middle" fill="#000" >W</text>
<text x="1118.6" y="174.8" font-size="29.3" text-anchor="middle" fill="#000" >Sp</text>
<text x="1217" y="174.8" font-size="29.3" text-anchor="middle" fill="#000" >Su</text>
<text x="1310.7" y="174.8" font-size="29.3" text-anchor="middle" fill="#000" >F</text>
<path d="M1019.9 251.8L1022.9 250.6L1025.9 249.6L1028.9 248.9L1031.9 248.5L1034.9 248.3L1037.9 248.3L1041 248.5L1044 249L1047 249.6L1050 250.4L1053 251.4L1056 252.6L1059 253.9L1062 255.4L1065 257L1068 258.7L1071 260.6L1074 262.5L1077 264.6L1080.1 266.7L1083.1 268.9L1086.1 271.2L1089.1 273.5L1092.1 275.9L1095.1 278.3L1098.1 280.8L1101.1 283.3L1104.1 285.7L1107.1 288.2L1110.1 290.7L1113.1 293.2L1116.1 295.6L1119.1 298.1L1122.2 300.5L1125.2 302.9L1128.2 305.3L1131.2 307.6L1134.2 309.9L1137.2 312.1L1140.2 314.3L1143.2 316.5L1146.2 318.5L1149.2 320.6L1152.2 322.5L1155.2 324.4L1158.2 326.2L1161.3 327.9L1164.3 329.5L1167.3 331L1170.3 332.4L1173.3 333.8L1176.3 335L1179.3 336.1L1182.3 337.1L1185.3 337.9L1188.3 338.6L1191.3 339.3L1194.3 339.8L1197.3 340.2L1200.3 340.5L1203.4 340.7L1206.4 340.8L1209.4 340.8L1212.4 340.7L1215.4 340.4L1218.4 340L1221.4 339.5L1224.4 338.8L1227.4 338L1230.4 336.9L1233.4 335.8L1236.4 334.4L1239.4 333L1242.5 331.3L1245.5 329.6L1248.5 327.7L1251.5 325.7L1254.5 323.5L1257.5 321.3L1260.5 318.9L1263.5 316.5L1266.5 313.9L1269.5 311.3L1272.5 308.6L1275.5 305.8L1278.5 303L1281.5 300.2L1284.6 297.3L1287.6 294.4L1290.6 291.5L1293.6 288.6L1296.6 285.7L1299.6 282.9L1302.6 280L1305.6 277.3L1308.6 274.6L1311.6 272L1314.6 269.5L1317.6 267L1320.6 264.7L1323.7 262.5L1326.7 260.5L1329.7 258.6L1332.7 256.8L1335.7 255.2L1338.7 253.8L1341.7 252.6L1344.7 251.6L1344.7 328L1341.7 329.6L1338.7 331.3L1335.7 333.3L1332.7 335.4L1329.7 337.7L1326.7 340.1L1323.7 342.7L1320.6 345.3L1317.6 348.1L1314.6 351L1311.6 353.9L1308.6 357L1305.6 360L1302.6 363.2L1299.6 366.3L1296.6 369.5L1293.6 372.7L1290.6 376L1287.6 379.1L1284.6 382.3L1281.5 385.5L1278.5 388.6L1275.5 391.6L1272.5 394.6L1269.5 397.4L1266.5 400.2L1263.5 402.9L1260.5 405.5L1257.5 408L1254.5 410.3L1251.5 412.5L1248.5 414.6L1245.5 416.6L1242.5 418.4L1239.4 420.2L1236.4 421.7L1233.4 423.2L1230.4 424.5L1227.4 425.7L1224.4 426.7L1221.4 427.6L1218.4 428.4L1215.4 429L1212.4 429.4L1209.4 429.7L1206.4 429.8L1203.4 429.7L1200.3 429.5L1197.3 429.1L1194.3 428.5L1191.3 427.7L1188.3 426.8L1185.3 425.6L1182.3 424.3L1179.3 422.9L1176.3 421.2L1173.3 419.5L1170.3 417.7L1167.3 415.7L1164.3 413.7L1161.3 411.5L1158.2 409.4L1155.2 407.1L1152.2 404.8L1149.2 402.5L1146.2 400.1L1143.2 397.7L1140.2 395.2L1137.2 392.7L1134.2 390.1L1131.2 387.6L1128.2 385L1125.2 382.3L1122.2 379.7L1119.1 377L1116.1 374.4L1113.1 371.7L1110.1 369L1107.1 366.3L1104.1 363.6L1101.1 361L1098.1 358.4L1095.1 355.8L1092.1 353.2L1089.1 350.7L1086.1 348.2L1083.1 345.8L1080.1 343.5L1077 341.3L1074 339.1L1071 337L1068 335.1L1065 333.2L1062 331.5L1059 329.8L1056 328.4L1053 327L1050 325.9L1047 324.9L1044 324.2L1041 323.7L1037.9 323.4L1034.9 323.3L1031.9 323.6L1028.9 324.1L1025.9 324.9L1022.9 326L1019.9 327.5Z" fill="#ffd700" fill-opacity="0.3"/>
<path d="M1019.9 288.7L1022.9 287.8L1025.9 287.1L1028.9 286.6L1031.9 286.3L1034.9 286.2L1037.9 286.4L1041 286.7L1044 287.1L1047 287.8L1050 288.6L1053 289.5L1056 290.7L1059 291.9L1062 293.3L1065 294.9L1068 296.5L1071 298.3L1074 300.1L1077 302.1L1080.1 304.2L1083.1 306.4L1086.1 308.6L1089.1 310.9L1092.1 313.3L1095.1 315.7L1098.1 318.2L1101.1 320.8L1104.1 323.4L1107.1 326L1110.1 328.6L1113.1 331.3L1116.1 333.9L1119.1 336.6L1122.2 339.3L1125.2 341.9L1128.2 344.6L1131.2 347.2L1134.2 349.7L1137.2 352.3L1140.2 354.8L1143.2 357.2L1146.2 359.6L1149.2 362L1152.2 364.2L1155.2 366.4L1158.2 368.5L1161.3 370.4L1164.3 372.3L1167.3 374.1L1170.3 375.8L1173.3 377.3L1176.3 378.7L1179.3 380L1182.3 381.1L1185.3 382.1L1188.3 383L1191.3 383.7L1194.3 384.2L1197.3 384.6L1200.3 384.9L1203.4 385L1206.4 385L1209.4 384.9L1212.4 384.6L1215.4 384.2L1218.4 383.7L1221.4 383L1224.4 382.2L1227.4 381.3L1230.4 380.2L1233.4 379.1L1236.4 377.8L1239.4 376.4L1242.5 374.8L1245.5 373.2L1248.5 371.4L1251.5 369.5L1254.5 367.5L1257.5 365.4L1260.5 363.2L1263.5 360.8L1266.5 358.4L1269.5 355.9L1272.5 353.2L1275.5 350.5L1278.5 347.7L1281.5 344.9L1284.6 342L1287.6 339L1290.6 336L1293.6 333L1296.6 330L1299.6 327L1302.6 324L1305.6 321L1308.6 318L1311.6 315.1L1314.6 312.2L1317.6 309.4L1320.6 306.6L1323.7 304L1326.7 301.4L1329.7 298.9L1332.7 296.5L1335.7 294.2L1338.7 292L1341.7 290L1344.7 288.2" fill="none" stroke="#ffd700" stroke-width="4.3" stroke-linejoin="round"/>
<path d="M1019.9 393.5L1022.9 396.3L1025.9 398.6L1028.9 400.3L1031.9 401.4L1034.9 401.9L1037.9 401.9L1041 401.4L1044 400.4L1047 398.9L1050 396.9L1053 394.4L1056 391.5L1059 388.1L1062 384.3L1065 380.1L1068 375.5L1071 370.4L1074 364.9L1077 359L1080.1 352.8L1083.1 346.4L1086.1 339.8L1089.1 333.3L1092.1 326.9L1095.1 320.6L1098.1 314.3L1101.1 308.1L1104.1 301.9L1107.1 295.7L1110.1 289.4L1113.1 283.1L1116.1 276.8L1119.1 270.4L1122.2 264L1125.2 257.6L1128.2 251.2L1131.2 244.9L1134.2 238.6L1137.2 232.4L1140.2 226.2L1143.2 220.2L1146.2 214.3L1149.2 208.5L1152.2 202.9L1155.2 197.5L1158.2 192.3L1161.3 187.3L1164.3 182.5L1167.3 178L1170.3 173.7L1173.3 169.8L1176.3 166.1L1179.3 162.8L1182.3 159.8L1185.3 157.1L1188.3 154.9L1191.3 153L1194.3 151.6L1197.3 150.5L1200.3 149.9L1203.4 149.7L1206.4 149.8L1209.4 150.4L1212.4 151.4L1215.4 152.7L1218.4 154.5L1221.4 156.6L1224.4 159.2L1227.4 162.1L1230.4 165.4L1233.4 169.1L1236.4 173.1L1239.4 177.4L1242.5 181.9L1245.5 186.5L1248.5 191.2L1251.5 196L1254.5 200.8L1257.5 205.6L1260.5 210.4L1263.5 215.5L1266.5 220.8L1269.5 226.5L1272.5 232.4L1275.5 238.6L1278.5 245.1L1281.5 251.7L1284.6 258.6L1287.6 265.6L1290.6 272.8L1293.6 280.1L1296.6 287.5L1299.6 295L1302.6 302.5L1305.6 310.1L1308.6 317.6L1311.6 325.1L1314.6 332.6L1317.6 340L1320.6 347.3L1323.7 354.4L1326.7 361.2L1329.7 367.7L1332.7 373.7L1335.7 379.3L1338.7 384.3L1341.7 388.7L1344.7 392.5L1344.7 441L1341.7 436.6L1338.7 432.1L1335.7 427.5L1332.7 422.9L1329.7 418.3L1326.7 413.6L1323.7 408.9L1320.6 404.2L1317.6 399.5L1314.6 394.7L1311.6 390L1308.6 385.2L1305.6 380.4L1302.6 375.6L1299.6 370.8L1296.6 366L1293.6 361.1L1290.6 356.2L1287.6 351.2L1284.6 346.2L1281.5 341.2L1278.5 336.2L1275.5 331.2L1272.5 326.3L1269.5 321.4L1266.5 316.6L1263.5 311.9L1260.5 307.3L1257.5 302.8L1254.5 298.5L1251.5 294.4L1248.5 290.4L1245.5 286.6L1242.5 283.1L1239.4 279.8L1236.4 276.8L1233.4 274.1L1230.4 271.6L1227.4 269.5L1224.4 267.7L1221.4 266.3L1218.4 265.3L1215.4 264.5L1212.4 264.1L1209.4 263.9L1206.4 264L1203.4 264.4L1200.3 265L1197.3 265.7L1194.3 266.7L1191.3 267.8L1188.3 269L1185.3 270.4L1182.3 271.9L1179.3 273.4L1176.3 275L1173.3 276.8L1170.3 278.6L1167.3 280.7L1164.3 282.9L1161.3 285.3L1158.2 288L1155.2 290.9L1152.2 294.2L1149.2 297.7L1146.2 301.6L1143.2 305.8L1140.2 310.3L1137.2 315L1134.2 320L1131.2 325.2L1128.2 330.5L1125.2 336L1122.2 341.6L1119.1 347.3L1116.1 353L1113.1 358.8L1110.1 364.6L1107.1 370.4L1104.1 376.1L1101.1 381.7L1098.1 387.2L1095.1 392.6L1092.1 397.8L1089.1 402.8L1086.1 407.6L1083.1 412.1L1080.1 416.4L1077 420.4L1074 424.1L1071 427.6L1068 430.8L1065 433.8L1062 436.5L1059 438.9L1056 441.1L1053 443L1050 444.5L1047 445.8L1044 446.8L1041 447.4L1037.9 447.6L1034.9 447.6L1031.9 447.1L1028.9 446.3L1025.9 445.1L1022.9 443.5L1019.9 441.5Z" fill="#3a5fcd" fill-opacity="0.3"/>
<path d="M1019.9 418L1022.9 420.5L1025.9 422.4L1028.9 423.9L1031.9 424.9L1034.9 425.4L1037.9 425.5L1041 425.1L1044 424.3L1047 423L1050 421.4L1053 419.3L1056 416.9L1059 414.1L1062 410.9L1065 407.4L1068 403.5L1071 399.4L1074 394.9L1077 390.2L1080.1 385.3L1083.1 380L1086.1 374.6L1089.1 369L1092.1 363.2L1095.1 357.3L1098.1 351.2L1101.1 345.1L1104.1 338.9L1107.1 332.6L1110.1 326.4L1113.1 320.1L1116.1 313.9L1119.1 307.7L1122.2 301.6L1125.2 295.6L1128.2 289.7L1131.2 283.9L1134.2 278.2L1137.2 272.6L1140.2 267.2L1143.2 262L1146.2 256.9L1149.2 252L1152.2 247.3L1155.2 242.8L1158.2 238.6L1161.3 234.5L1164.3 230.8L1167.3 227.3L1170.3 224L1173.3 221.1L1176.3 218.3L1179.3 215.9L1182.3 213.7L1185.3 211.9L1188.3 210.2L1191.3 208.9L1194.3 207.9L1197.3 207.1L1200.3 206.7L1203.4 206.5L1206.4 206.6L1209.4 207L1212.4 207.7L1215.4 208.7L1218.4 210L1221.4 211.5L1224.4 213.4L1227.4 215.6L1230.4 218.1L1233.4 220.8L1236.4 223.9L1239.4 227.2L1242.5 230.8L1245.5 234.7L1248.5 238.7L1251.5 243.1L1254.5 247.6L1257.5 252.3L1260.5 257.3L1263.5 262.4L1266.5 267.7L1269.5 273.2L1272.5 278.8L1275.5 284.5L1278.5 290.4L1281.5 296.3L1284.6 302.4L1287.6 308.5L1290.6 314.7L1293.6 320.9L1296.6 327.1L1299.6 333.3L1302.6 339.6L1305.6 345.8L1308.6 352L1311.6 358.1L1314.6 364.1L1317.6 370.1L1320.6 375.9L1323.7 381.7L1326.7 387.3L1329.7 392.7L1332.7 398L1335.7 403.2L1338.7 408.1L1341.7 412.8L1344.7 417.3" fill="none" stroke="#3a5fcd" stroke-width="4.3" stroke-linejoin="round"/>
<rect x="992.4" y="74.8" width="393" height="61.7" fill="#d9d9d9" stroke="#333" stroke-width="3.7"/>
<text x="1188.5" y="117.3" font-size="32.2" text-anchor="middle" fill="#000" >N. Atlantic (BATS) DCM</text>
<rect x="992.4" y="136.5" width="393" height="327.4" fill="none" stroke="#333" stroke-width="3.7"/>
<rect x="1405.4" y="136.5" width="393.2" height="327.4" fill="#fff"/>
<line x1="1486.5" y1="463.9" x2="1486.5" y2="136.5" stroke="#7a7a7a" stroke-width="3" stroke-dasharray="5.3 5.5"/>
<line x1="1582.2" y1="463.9" x2="1582.2" y2="136.5" stroke="#7a7a7a" stroke-width="3" stroke-dasharray="5.3 5.5"/>
<line x1="1677.8" y1="463.9" x2="1677.8" y2="136.5" stroke="#7a7a7a" stroke-width="3" stroke-dasharray="5.3 5.5"/>
<line x1="1769.4" y1="463.9" x2="1769.4" y2="136.5" stroke="#7a7a7a" stroke-width="3" stroke-dasharray="5.3 5.5"/>
<text x="1446.9" y="174.8" font-size="29.3" text-anchor="middle" fill="#000" >W</text>
<text x="1530.9" y="174.8" font-size="29.3" text-anchor="middle" fill="#000" >Sp</text>
<text x="1628.6" y="174.8" font-size="29.3" text-anchor="middle" fill="#000" >Su</text>
<text x="1722.5" y="174.8" font-size="29.3" text-anchor="middle" fill="#000" >F</text>
<path d="M1422.8 306.8L1425.8 303.9L1428.8 300.8L1431.8 297.7L1434.9 294.5L1437.9 291.2L1440.9 287.9L1443.9 284.6L1446.9 281.4L1449.9 278.1L1453 274.9L1456 271.8L1459 268.8L1462 265.9L1465 263.2L1468 260.5L1471 258.1L1474.1 255.8L1477.1 253.8L1480.1 251.9L1483.1 250.2L1486.1 248.8L1489.1 247.5L1492.2 246.4L1495.2 245.5L1498.2 244.9L1501.2 244.4L1504.2 244L1507.2 243.9L1510.3 244L1513.3 244.2L1516.3 244.6L1519.3 245.2L1522.3 246L1525.3 246.9L1528.3 248.1L1531.4 249.3L1534.4 250.8L1537.4 252.3L1540.4 254L1543.4 255.8L1546.4 257.8L1549.5 259.8L1552.5 261.9L1555.5 264.1L1558.5 266.4L1561.5 268.7L1564.5 271.1L1567.6 273.5L1570.6 276L1573.6 278.5L1576.6 281L1579.6 283.5L1582.6 286L1585.6 288.6L1588.7 291.3L1591.7 293.9L1594.7 296.6L1597.7 299.4L1600.7 302.2L1603.7 305L1606.8 307.9L1609.8 310.8L1612.8 313.8L1615.8 316.7L1618.8 319.6L1621.8 322.5L1624.9 325.3L1627.9 328.1L1630.9 330.9L1633.9 333.5L1636.9 336.1L1639.9 338.6L1642.9 341L1646 343.2L1649 345.3L1652 347.3L1655 349.1L1658 350.7L1661 352.2L1664.1 353.5L1667.1 354.7L1670.1 355.7L1673.1 356.5L1676.1 357.1L1679.1 357.5L1682.2 357.8L1685.2 357.9L1688.2 357.7L1691.2 357.4L1694.2 356.9L1697.2 356.2L1700.2 355.3L1703.3 354.3L1706.3 353.1L1709.3 351.8L1712.3 350.3L1715.3 348.7L1718.3 347L1721.4 345.2L1724.4 343.3L1727.4 341.3L1730.4 339.2L1733.4 337L1736.4 334.8L1739.5 332.5L1742.5 330.1L1745.5 327.8L1748.5 325.3L1751.5 322.9L1754.5 320.5L1757.5 318L1760.6 315.6L1763.6 313.2L1766.6 310.8L1769.6 308.4L1769.6 365.4L1766.6 367.6L1763.6 369.9L1760.6 372.2L1757.5 374.5L1754.5 376.8L1751.5 379.1L1748.5 381.4L1745.5 383.6L1742.5 385.8L1739.5 388L1736.4 390.1L1733.4 392.1L1730.4 394.1L1727.4 396.1L1724.4 397.9L1721.4 399.7L1718.3 401.3L1715.3 402.9L1712.3 404.3L1709.3 405.7L1706.3 406.9L1703.3 408L1700.2 408.9L1697.2 409.7L1694.2 410.3L1691.2 410.8L1688.2 411.1L1685.2 411.2L1682.2 411.2L1679.1 410.9L1676.1 410.6L1673.1 410.1L1670.1 409.4L1667.1 408.6L1664.1 407.7L1661 406.6L1658 405.4L1655 404.2L1652 402.8L1649 401.3L1646 399.7L1642.9 398.1L1639.9 396.4L1636.9 394.6L1633.9 392.7L1630.9 390.8L1627.9 388.8L1624.9 386.8L1621.8 384.8L1618.8 382.7L1615.8 380.6L1612.8 378.5L1609.8 376.4L1606.8 374.3L1603.7 372.2L1600.7 370.1L1597.7 368L1594.7 366L1591.7 363.9L1588.7 361.9L1585.6 359.9L1582.6 357.9L1579.6 355.9L1576.6 353.9L1573.6 351.9L1570.6 350L1567.6 348L1564.5 346L1561.5 344.1L1558.5 342.1L1555.5 340.2L1552.5 338.4L1549.5 336.6L1546.4 334.9L1543.4 333.3L1540.4 331.7L1537.4 330.3L1534.4 328.9L1531.4 327.7L1528.3 326.5L1525.3 325.6L1522.3 324.7L1519.3 324L1516.3 323.4L1513.3 323L1510.3 322.8L1507.2 322.6L1504.2 322.6L1501.2 322.8L1498.2 323L1495.2 323.4L1492.2 324L1489.1 324.6L1486.1 325.4L1483.1 326.3L1480.1 327.4L1477.1 328.5L1474.1 329.8L1471 331.1L1468 332.6L1465 334.2L1462 335.9L1459 337.8L1456 339.7L1453 341.7L1449.9 343.8L1446.9 346L1443.9 348.3L1440.9 350.7L1437.9 353.2L1434.9 355.8L1431.8 358.5L1428.8 361.2L1425.8 364L1422.8 367Z" fill="#ffd700" fill-opacity="0.3"/>
<path d="M1422.8 336.4L1425.8 333.7L1428.8 331L1431.8 328.3L1434.9 325.5L1437.9 322.7L1440.9 320L1443.9 317.2L1446.9 314.5L1449.9 311.9L1453 309.3L1456 306.7L1459 304.3L1462 301.9L1465 299.6L1468 297.5L1471 295.4L1474.1 293.5L1477.1 291.8L1480.1 290.2L1483.1 288.8L1486.1 287.5L1489.1 286.3L1492.2 285.4L1495.2 284.6L1498.2 283.9L1501.2 283.4L1504.2 283.1L1507.2 282.9L1510.3 283L1513.3 283.1L1516.3 283.5L1519.3 284L1522.3 284.7L1525.3 285.6L1528.3 286.6L1531.4 287.8L1534.4 289.2L1537.4 290.7L1540.4 292.3L1543.4 294L1546.4 295.8L1549.5 297.8L1552.5 299.8L1555.5 301.9L1558.5 304L1561.5 306.3L1564.5 308.5L1567.6 310.8L1570.6 313.1L1573.6 315.5L1576.6 317.8L1579.6 320.2L1582.6 322.6L1585.6 324.9L1588.7 327.3L1591.7 329.8L1594.7 332.2L1597.7 334.6L1600.7 337.1L1603.7 339.5L1606.8 342L1609.8 344.5L1612.8 346.9L1615.8 349.4L1618.8 351.8L1621.8 354.2L1624.9 356.5L1627.9 358.8L1630.9 361.1L1633.9 363.3L1636.9 365.4L1639.9 367.4L1642.9 369.4L1646 371.3L1649 373.1L1652 374.8L1655 376.3L1658 377.8L1661 379.1L1664.1 380.4L1667.1 381.4L1670.1 382.4L1673.1 383.1L1676.1 383.8L1679.1 384.2L1682.2 384.5L1685.2 384.6L1688.2 384.5L1691.2 384.2L1694.2 383.8L1697.2 383.1L1700.2 382.3L1703.3 381.4L1706.3 380.3L1709.3 379L1712.3 377.6L1715.3 376.1L1718.3 374.5L1721.4 372.7L1724.4 370.9L1727.4 368.9L1730.4 366.9L1733.4 364.8L1736.4 362.6L1739.5 360.4L1742.5 358.1L1745.5 355.8L1748.5 353.5L1751.5 351.1L1754.5 348.7L1757.5 346.3L1760.6 343.9L1763.6 341.5L1766.6 339.1L1769.6 336.8" fill="none" stroke="#ffd700" stroke-width="4.3" stroke-linejoin="round"/>
<path d="M1422.8 320.1L1425.8 325.6L1428.8 331L1431.8 336.1L1434.9 340.9L1437.9 345.5L1440.9 349.8L1443.9 353.8L1446.9 357.6L1449.9 361.1L1453 364.2L1456 367.1L1459 369.7L1462 372L1465 374L1468 375.7L1471 377.1L1474.1 378.1L1477.1 378.9L1480.1 379.3L1483.1 379.3L1486.1 379.1L1489.1 378.6L1492.2 377.7L1495.2 376.6L1498.2 375.2L1501.2 373.4L1504.2 371.4L1507.2 369.1L1510.3 366.5L1513.3 363.6L1516.3 360.5L1519.3 357.1L1522.3 353.4L1525.3 349.4L1528.3 345.3L1531.4 340.9L1534.4 336.4L1537.4 331.7L1540.4 326.9L1543.4 322.1L1546.4 317.3L1549.5 312.4L1552.5 307.6L1555.5 302.8L1558.5 298L1561.5 293.2L1564.5 288.4L1567.6 283.7L1570.6 279L1573.6 274.3L1576.6 269.6L1579.6 264.9L1582.6 260.3L1585.6 255.8L1588.7 251.3L1591.7 246.8L1594.7 242.5L1597.7 238.2L1600.7 234L1603.7 229.9L1606.8 225.9L1609.8 222.1L1612.8 218.3L1615.8 214.7L1618.8 211.2L1621.8 207.9L1624.9 204.7L1627.9 201.7L1630.9 198.9L1633.9 196.3L1636.9 193.8L1639.9 191.6L1642.9 189.5L1646 187.7L1649 186.1L1652 184.7L1655 183.6L1658 182.7L1661 182.1L1664.1 181.8L1667.1 181.7L1670.1 181.9L1673.1 182.4L1676.1 183.2L1679.1 184.3L1682.2 185.7L1685.2 187.5L1688.2 189.6L1691.2 192L1694.2 194.7L1697.2 197.8L1700.2 201.2L1703.3 204.8L1706.3 208.7L1709.3 212.8L1712.3 217.2L1715.3 221.7L1718.3 226.5L1721.4 231.4L1724.4 236.5L1727.4 241.7L1730.4 247L1733.4 252.4L1736.4 258L1739.5 263.6L1742.5 269.2L1745.5 274.8L1748.5 280.3L1751.5 285.6L1754.5 290.8L1757.5 295.7L1760.6 300.3L1763.6 304.5L1766.6 308.2L1769.6 311.5L1769.6 394.5L1766.6 391.3L1763.6 388.1L1760.6 384.8L1757.5 381.3L1754.5 377.8L1751.5 374.2L1748.5 370.6L1745.5 366.9L1742.5 363.1L1739.5 359.4L1736.4 355.7L1733.4 351.9L1730.4 348.2L1727.4 344.5L1724.4 340.8L1721.4 337.2L1718.3 333.7L1715.3 330.2L1712.3 326.8L1709.3 323.6L1706.3 320.4L1703.3 317.4L1700.2 314.5L1697.2 311.7L1694.2 309.2L1691.2 306.7L1688.2 304.5L1685.2 302.5L1682.2 300.7L1679.1 299.1L1676.1 297.7L1673.1 296.5L1670.1 295.5L1667.1 294.8L1664.1 294.3L1661 294.1L1658 294.1L1655 294.3L1652 294.8L1649 295.5L1646 296.6L1642.9 297.8L1639.9 299.3L1636.9 301L1633.9 303L1630.9 305.1L1627.9 307.4L1624.9 309.8L1621.8 312.5L1618.8 315.2L1615.8 318.1L1612.8 321L1609.8 324.1L1606.8 327.2L1603.7 330.4L1600.7 333.6L1597.7 336.9L1594.7 340.2L1591.7 343.6L1588.7 346.9L1585.6 350.3L1582.6 353.8L1579.6 357.2L1576.6 360.8L1573.6 364.3L1570.6 367.9L1567.6 371.5L1564.5 375.2L1561.5 378.9L1558.5 382.6L1555.5 386.3L1552.5 390L1549.5 393.7L1546.4 397.4L1543.4 401.1L1540.4 404.7L1537.4 408.3L1534.4 411.9L1531.4 415.4L1528.3 418.8L1525.3 422.2L1522.3 425.5L1519.3 428.6L1516.3 431.7L1513.3 434.6L1510.3 437.3L1507.2 439.7L1504.2 441.8L1501.2 443.5L1498.2 444.8L1495.2 445.8L1492.2 446.3L1489.1 446.4L1486.1 446.1L1483.1 445.5L1480.1 444.6L1477.1 443.4L1474.1 441.9L1471 440.1L1468 438.2L1465 436L1462 433.6L1459 431.1L1456 428.4L1453 425.6L1449.9 422.7L1446.9 419.7L1443.9 416.7L1440.9 413.7L1437.9 410.6L1434.9 407.6L1431.8 404.6L1428.8 401.7L1425.8 398.9L1422.8 396.2Z" fill="#3a5fcd" fill-opacity="0.3"/>
<path d="M1422.8 358.8L1425.8 363.1L1428.8 367.4L1431.8 371.5L1434.9 375.5L1437.9 379.4L1440.9 383.1L1443.9 386.6L1446.9 390L1449.9 393.2L1453 396.2L1456 399L1459 401.5L1462 403.8L1465 405.9L1468 407.7L1471 409.3L1474.1 410.5L1477.1 411.5L1480.1 412.2L1483.1 412.6L1486.1 412.7L1489.1 412.5L1492.2 412L1495.2 411.3L1498.2 410.2L1501.2 408.9L1504.2 407.3L1507.2 405.4L1510.3 403.2L1513.3 400.7L1516.3 398L1519.3 395L1522.3 391.7L1525.3 388.1L1528.3 384.3L1531.4 380.2L1534.4 376L1537.4 371.6L1540.4 367L1543.4 362.3L1546.4 357.6L1549.5 352.7L1552.5 347.9L1555.5 343L1558.5 338.2L1561.5 333.4L1564.5 328.7L1567.6 324.1L1570.6 319.6L1573.6 315.3L1576.6 311.2L1579.6 307.2L1582.6 303.3L1585.6 299.6L1588.7 296L1591.7 292.4L1594.7 289L1597.7 285.6L1600.7 282.3L1603.7 279L1606.8 275.8L1609.8 272.6L1612.8 269.6L1615.8 266.6L1618.8 263.7L1621.8 260.9L1624.9 258.2L1627.9 255.7L1630.9 253.3L1633.9 251L1636.9 248.9L1639.9 246.9L1642.9 245.1L1646 243.4L1649 242L1652 240.8L1655 239.7L1658 238.9L1661 238.3L1664.1 237.9L1667.1 237.8L1670.1 237.9L1673.1 238.2L1676.1 238.9L1679.1 239.8L1682.2 241L1685.2 242.5L1688.2 244.3L1691.2 246.4L1694.2 248.8L1697.2 251.5L1700.2 254.4L1703.3 257.6L1706.3 261.1L1709.3 264.7L1712.3 268.6L1715.3 272.7L1718.3 276.9L1721.4 281.3L1724.4 285.8L1727.4 290.5L1730.4 295.2L1733.4 300.1L1736.4 305L1739.5 310L1742.5 315.1L1745.5 320.1L1748.5 325.2L1751.5 330.1L1754.5 335L1757.5 339.8L1760.6 344.4L1763.6 348.9L1766.6 353.1L1769.6 357.1" fill="none" stroke="#3a5fcd" stroke-width="4.3" stroke-linejoin="round"/>
<path d="M1422.8 343.1L1425.8 347.5L1428.8 351.6L1431.8 355.4L1434.9 359L1437.9 362.3L1440.9 365.4L1443.9 368.3L1446.9 370.9L1449.9 373.3L1453 375.4L1456 377.4L1459 379.1L1462 380.6L1465 381.9L1468 382.9L1471 383.8L1474.1 384.4L1477.1 384.9L1480.1 385.1L1483.1 385.1L1486.1 385L1489.1 384.6L1492.2 384.1L1495.2 383.4L1498.2 382.4L1501.2 381.3L1504.2 380.1L1507.2 378.6L1510.3 377L1513.3 375.2L1516.3 373.2L1519.3 371.1L1522.3 368.8L1525.3 366.4L1528.3 363.8L1531.4 361.1L1534.4 358.2L1537.4 355.2L1540.4 352.1L1543.4 348.9L1546.4 345.6L1549.5 342.1L1552.5 338.6L1555.5 335.1L1558.5 331.4L1561.5 327.7L1564.5 324L1567.6 320.2L1570.6 316.3L1573.6 312.5L1576.6 308.6L1579.6 304.7L1582.6 300.8L1585.6 296.9L1588.7 293L1591.7 289.2L1594.7 285.3L1597.7 281.6L1600.7 277.8L1603.7 274.1L1606.8 270.5L1609.8 266.9L1612.8 263.3L1615.8 259.8L1618.8 256.4L1621.8 253L1624.9 249.6L1627.9 246.2L1630.9 243L1633.9 239.8L1636.9 236.7L1639.9 233.8L1642.9 231L1646 228.4L1649 226.1L1652 223.9L1655 222.1L1658 220.5L1661 219.2L1664.1 218.2L1667.1 217.4L1670.1 217.1L1673.1 217L1676.1 217.3L1679.1 218L1682.2 219L1685.2 220.4L1688.2 222.3L1691.2 224.5L1694.2 227.1L1697.2 230.1L1700.2 233.4L1703.3 237L1706.3 240.9L1709.3 245.1L1712.3 249.5L1715.3 254.1L1718.3 258.8L1721.4 263.7L1724.4 268.7L1727.4 273.8L1730.4 279L1733.4 284.2L1736.4 289.4L1739.5 294.6L1742.5 299.8L1745.5 304.9L1748.5 309.8L1751.5 314.7L1754.5 319.4L1757.5 323.9L1760.6 328.2L1763.6 332.3L1766.6 336.2L1769.6 339.7L1769.6 368.9L1766.6 366.4L1763.6 363.7L1760.6 360.9L1757.5 357.8L1754.5 354.6L1751.5 351.3L1748.5 347.9L1745.5 344.3L1742.5 340.7L1739.5 337.1L1736.4 333.4L1733.4 329.7L1730.4 326L1727.4 322.3L1724.4 318.7L1721.4 315.1L1718.3 311.6L1715.3 308.2L1712.3 304.9L1709.3 301.7L1706.3 298.6L1703.3 295.8L1700.2 293.1L1697.2 290.6L1694.2 288.4L1691.2 286.3L1688.2 284.6L1685.2 283.1L1682.2 281.9L1679.1 280.9L1676.1 280.2L1673.1 279.7L1670.1 279.5L1667.1 279.5L1664.1 279.7L1661 280.1L1658 280.7L1655 281.5L1652 282.5L1649 283.6L1646 285L1642.9 286.4L1639.9 288L1636.9 289.8L1633.9 291.7L1630.9 293.7L1627.9 295.8L1624.9 298L1621.8 300.3L1618.8 302.7L1615.8 305.2L1612.8 307.7L1609.8 310.3L1606.8 313L1603.7 315.7L1600.7 318.4L1597.7 321.2L1594.7 324L1591.7 326.8L1588.7 329.6L1585.6 332.4L1582.6 335.3L1579.6 338.2L1576.6 341.1L1573.6 344.1L1570.6 347L1567.6 350L1564.5 353L1561.5 356L1558.5 359L1555.5 362L1552.5 364.9L1549.5 367.8L1546.4 370.6L1543.4 373.3L1540.4 376L1537.4 378.6L1534.4 381.1L1531.4 383.5L1528.3 385.7L1525.3 387.9L1522.3 389.9L1519.3 391.7L1516.3 393.4L1513.3 394.9L1510.3 396.3L1507.2 397.5L1504.2 398.6L1501.2 399.5L1498.2 400.3L1495.2 400.9L1492.2 401.3L1489.1 401.6L1486.1 401.8L1483.1 401.8L1480.1 401.6L1477.1 401.3L1474.1 400.8L1471 400.2L1468 399.5L1465 398.5L1462 397.4L1459 396.2L1456 394.8L1453 393.3L1449.9 391.6L1446.9 389.7L1443.9 387.7L1440.9 385.5L1437.9 383.2L1434.9 380.7L1431.8 378.1L1428.8 375.3L1425.8 372.4L1422.8 369.3Z" fill="#000" fill-opacity="0.3"/>
<path d="M1422.8 356.6L1425.8 360.1L1428.8 363.4L1431.8 366.6L1434.9 369.5L1437.9 372.3L1440.9 374.9L1443.9 377.4L1446.9 379.6L1449.9 381.7L1453 383.7L1456 385.4L1459 387L1462 388.4L1465 389.6L1468 390.7L1471 391.6L1474.1 392.3L1477.1 392.8L1480.1 393.2L1483.1 393.4L1486.1 393.4L1489.1 393.2L1492.2 392.8L1495.2 392.3L1498.2 391.6L1501.2 390.7L1504.2 389.7L1507.2 388.5L1510.3 387.1L1513.3 385.5L1516.3 383.7L1519.3 381.8L1522.3 379.6L1525.3 377.3L1528.3 374.9L1531.4 372.3L1534.4 369.5L1537.4 366.6L1540.4 363.7L1543.4 360.6L1546.4 357.4L1549.5 354.2L1552.5 350.9L1555.5 347.5L1558.5 344.2L1561.5 340.8L1564.5 337.4L1567.6 334.1L1570.6 330.7L1573.6 327.5L1576.6 324.2L1579.6 321L1582.6 317.8L1585.6 314.6L1588.7 311.5L1591.7 308.3L1594.7 305.1L1597.7 301.9L1600.7 298.7L1603.7 295.5L1606.8 292.2L1609.8 289L1612.8 285.7L1615.8 282.6L1618.8 279.4L1621.8 276.3L1624.9 273.3L1627.9 270.4L1630.9 267.6L1633.9 264.9L1636.9 262.3L1639.9 259.9L1642.9 257.7L1646 255.6L1649 253.8L1652 252.1L1655 250.7L1658 249.5L1661 248.5L1664.1 247.8L1667.1 247.3L1670.1 247.1L1673.1 247.2L1676.1 247.5L1679.1 248.2L1682.2 249.1L1685.2 250.4L1688.2 252L1691.2 253.9L1694.2 256.1L1697.2 258.5L1700.2 261.3L1703.3 264.3L1706.3 267.6L1709.3 271L1712.3 274.7L1715.3 278.5L1718.3 282.5L1721.4 286.6L1724.4 290.9L1727.4 295.2L1730.4 299.6L1733.4 304.1L1736.4 308.6L1739.5 313.2L1742.5 317.7L1745.5 322.3L1748.5 326.8L1751.5 331.2L1754.5 335.6L1757.5 339.9L1760.6 344.1L1763.6 348.2L1766.6 352.1L1769.6 355.8" fill="none" stroke="#000" stroke-width="4.4" stroke-linejoin="round"/>
<rect x="1405.4" y="74.8" width="393.2" height="61.7" fill="#d9d9d9" stroke="#333" stroke-width="3.7"/>
<text x="1601.9" y="117.3" font-size="32.2" text-anchor="middle" fill="#000" >N. Pacific (ALOHA) DCM</text>
<rect x="1405.4" y="136.5" width="393.2" height="327.4" fill="none" stroke="#333" stroke-width="3.7"/>
<line x1="982" y1="195.1" x2="990.6" y2="195.1" stroke="#333" stroke-width="3.6"/>
<text x="974.6" y="206.6" font-size="32" text-anchor="end" fill="#4d4d4d" >0.2</text>
<line x1="982" y1="257.8" x2="990.6" y2="257.8" stroke="#333" stroke-width="3.6"/>
<text x="974.6" y="269.3" font-size="32" text-anchor="end" fill="#4d4d4d" >0.1</text>
<line x1="982" y1="320.5" x2="990.6" y2="320.5" stroke="#333" stroke-width="3.6"/>
<text x="974.6" y="332" font-size="32" text-anchor="end" fill="#4d4d4d" >0.0</text>
<line x1="982" y1="383.2" x2="990.6" y2="383.2" stroke="#333" stroke-width="3.6"/>
<text x="974.6" y="394.7" font-size="32" text-anchor="end" fill="#4d4d4d" >-0.1</text>
<line x1="982" y1="445.9" x2="990.6" y2="445.9" stroke="#333" stroke-width="3.6"/>
<text x="974.6" y="457.4" font-size="32" text-anchor="end" fill="#4d4d4d" >-0.2</text>
<line x1="992.3" y1="465.7" x2="992.3" y2="474.2" stroke="#333" stroke-width="3.7"/>
<text x="992.3" y="504.4" font-size="32" text-anchor="middle" fill="#4d4d4d" >0</text>
<line x1="1094.9" y1="465.7" x2="1094.9" y2="474.2" stroke="#333" stroke-width="3.7"/>
<text x="1094.9" y="504.4" font-size="32" text-anchor="middle" fill="#4d4d4d" >100</text>
<line x1="1197.4" y1="465.7" x2="1197.4" y2="474.2" stroke="#333" stroke-width="3.7"/>
<text x="1197.4" y="504.4" font-size="32" text-anchor="middle" fill="#4d4d4d" >200</text>
<line x1="1300" y1="465.7" x2="1300" y2="474.2" stroke="#333" stroke-width="3.7"/>
<text x="1300" y="504.4" font-size="32" text-anchor="middle" fill="#4d4d4d" >300</text>
<line x1="1405.5" y1="465.7" x2="1405.5" y2="474.2" stroke="#333" stroke-width="3.7"/>
<text x="1405.5" y="504.4" font-size="32" text-anchor="middle" fill="#4d4d4d" >0</text>
<line x1="1508.1" y1="465.7" x2="1508.1" y2="474.2" stroke="#333" stroke-width="3.7"/>
<text x="1508.1" y="504.4" font-size="32" text-anchor="middle" fill="#4d4d4d" >100</text>
<line x1="1610.6" y1="465.7" x2="1610.6" y2="474.2" stroke="#333" stroke-width="3.7"/>
<text x="1610.6" y="504.4" font-size="32" text-anchor="middle" fill="#4d4d4d" >200</text>
<line x1="1713.2" y1="465.7" x2="1713.2" y2="474.2" stroke="#333" stroke-width="3.7"/>
<text x="1713.2" y="504.4" font-size="32" text-anchor="middle" fill="#4d4d4d" >300</text>
<text x="1395.6" y="550" font-size="39.6" text-anchor="middle" fill="#000" word-spacing="5">Day of year</text>
<text transform="translate(903.8 283.2) rotate(-90)" font-size="39.9" text-anchor="middle" fill="#000">Seasonal effect</text>
<text x="883.8" y="36.6" font-size="51.5" text-anchor="start" fill="#000" >B</text>
<rect x="1007.9" y="3.9" width="57.9" height="57.4" fill="#000" fill-opacity="0.3"/>
<line x1="1012.3" y1="32" x2="1061.5" y2="32" stroke="#000" stroke-width="3.4"/>
<text x="1089.5" y="44.4" font-size="31.95" text-anchor="start" fill="#000" >Sidero. consumer</text>
<rect x="1395.9" y="3.9" width="57.9" height="57.4" fill="#3a5fcd" fill-opacity="0.3"/>
<line x1="1400.3" y1="32" x2="1449.5" y2="32" stroke="#3a5fcd" stroke-width="3.4"/>
<text x="1478" y="44.4" font-size="31.95" text-anchor="start" fill="#000" >LLI</text>
<rect x="1603.1" y="3.9" width="57.9" height="57.4" fill="#ffd700" fill-opacity="0.3"/>
<line x1="1607.5" y1="32" x2="1656.7" y2="32" stroke="#ffd700" stroke-width="3.4"/>
<text x="1685.4" y="44.4" font-size="31.95" text-anchor="start" fill="#000" >HLII</text>
<circle cx="934.4" cy="834" r="7.2" fill="#7ad151"/>
<circle cx="934.4" cy="893.9" r="7.2" fill="#7ad151"/>
<circle cx="1055.9" cy="749.1" r="7.2" fill="#7ad151"/>
<circle cx="1055.9" cy="844.6" r="7.2" fill="#7ad151"/>
<circle cx="1045" cy="860.5" r="7.2" fill="#7ad151"/>
<circle cx="1049" cy="861.3" r="7.2" fill="#7ad151"/>
<circle cx="1055.9" cy="869.1" r="7.2" fill="#7ad151"/>
<circle cx="934.4" cy="943.1" r="7.2" fill="#7ad151"/>
<circle cx="934.4" cy="954.5" r="7.2" fill="#7ad151"/>
<circle cx="923.8" cy="1024.7" r="7.2" fill="#7ad151"/>
<circle cx="929" cy="1032.1" r="7.2" fill="#7ad151"/>
<circle cx="934.7" cy="1035.4" r="7.2" fill="#7ad151"/>
<circle cx="919.2" cy="1053.3" r="7.2" fill="#7ad151"/>
<circle cx="942.1" cy="1055" r="7.2" fill="#7ad151"/>
<circle cx="918.4" cy="1067.2" r="7.2" fill="#7ad151"/>
<circle cx="929" cy="1065.6" r="7.2" fill="#7ad151"/>
<circle cx="936.4" cy="1068" r="7.2" fill="#7ad151"/>
<circle cx="950.2" cy="1065.6" r="7.2" fill="#7ad151"/>
<circle cx="954.3" cy="1068.8" r="7.2" fill="#7ad151"/>
<circle cx="942.9" cy="1076.2" r="7.2" fill="#7ad151"/>
<circle cx="928.2" cy="1080.3" r="7.2" fill="#7ad151"/>
<circle cx="935.5" cy="1081.9" r="7.2" fill="#7ad151"/>
<circle cx="1055.9" cy="910.4" r="7.2" fill="#7ad151"/>
<circle cx="1062.9" cy="915.8" r="7.2" fill="#7ad151"/>
<circle cx="1055.9" cy="935.7" r="7.2" fill="#7ad151"/>
<circle cx="1050.7" cy="939" r="7.2" fill="#7ad151"/>
<circle cx="1047.4" cy="943.1" r="7.2" fill="#7ad151"/>
<circle cx="1055.9" cy="952.4" r="7.2" fill="#7ad151"/>
<circle cx="1047.4" cy="970" r="7.2" fill="#7ad151"/>
<circle cx="1069.5" cy="970.4" r="7.2" fill="#7ad151"/>
<circle cx="1055.9" cy="974.9" r="7.2" fill="#7ad151"/>
<circle cx="1062.9" cy="979" r="7.2" fill="#7ad151"/>
<circle cx="1049" cy="991.6" r="7.2" fill="#7ad151"/>
<circle cx="1055.9" cy="999.8" r="7.2" fill="#7ad151"/>
<circle cx="1055.9" cy="1010" r="7.2" fill="#7ad151"/>
<circle cx="1055.9" cy="1020.7" r="7.2" fill="#7ad151"/>
<circle cx="1055.9" cy="1029.6" r="7.2" fill="#7ad151"/>
<circle cx="879.7" cy="698.5" r="7.2" fill="#414487"/>
<circle cx="879.7" cy="733.6" r="7.2" fill="#414487"/>
<circle cx="879.7" cy="833" r="7.2" fill="#414487"/>
<circle cx="1001.2" cy="725.7" r="7.2" fill="#414487"/>
<circle cx="1005" cy="743" r="7.2" fill="#414487"/>
<circle cx="1012" cy="870.8" r="7.2" fill="#414487"/>
<circle cx="875.9" cy="965.9" r="7.2" fill="#414487"/>
<circle cx="883.3" cy="986" r="7.2" fill="#414487"/>
<circle cx="879.7" cy="1020.2" r="7.2" fill="#414487"/>
<circle cx="872.2" cy="1025.9" r="7.2" fill="#414487"/>
<circle cx="1001.2" cy="1020.2" r="7.2" fill="#414487"/>
<line x1="879.7" y1="852" x2="879.7" y2="988" stroke="#000" stroke-width="4"/>
<circle cx="879.7" cy="933.3" r="10.4" fill="#414487" stroke="#000" stroke-width="3.8"/>
<line x1="934.4" y1="1032.1" x2="934.4" y2="1059" stroke="#000" stroke-width="4"/>
<circle cx="934.4" cy="1046.8" r="10.4" fill="#7ad151" stroke="#000" stroke-width="3.8"/>
<line x1="1001.2" y1="735.2" x2="1001.2" y2="965.5" stroke="#000" stroke-width="4"/>
<circle cx="1001.2" cy="877.6" r="10.4" fill="#414487" stroke="#000" stroke-width="3.8"/>
<line x1="1055.9" y1="914.2" x2="1055.9" y2="982.8" stroke="#000" stroke-width="4"/>
<circle cx="1055.9" cy="952.4" r="10.4" fill="#7ad151" stroke="#000" stroke-width="3.8"/>
<path d="M933.7 712.7 L933.7 697.6 L1054.1 697.6 L1054.1 712.7" fill="none" stroke="#ff4500" stroke-width="3.6" stroke-linejoin="miter"/>
<text x="990.6" y="703" font-size="29.5" text-anchor="middle" fill="#ff4500" >*</text>
<path d="M879.7 796.8 L879.7 782.2 L935 782.2 L935 796.8" fill="none" stroke="#ff4500" stroke-width="3.6" stroke-linejoin="miter"/>
<text x="905.3" y="786.3" font-size="29.5" text-anchor="middle" fill="#ff4500" >*</text>
<rect x="833.8" y="618.6" width="267.4" height="60.7" fill="#d9d9d9" stroke="#333" stroke-width="3.7"/>
<rect x="833.8" y="679.3" width="267.4" height="421.6" fill="none" stroke="#333" stroke-width="3.7"/>
<text x="967.7" y="661.2" font-size="32.7" text-anchor="middle">dFe (nmol kg<tspan font-size="19" dy="-12">-1</tspan><tspan dy="12">)</tspan></text>
<line x1="823.3" y1="696" x2="832" y2="696" stroke="#333" stroke-width="3.7"/>
<text x="816.5" y="707.5" font-size="32" text-anchor="end" fill="#4d4d4d" >0.8</text>
<line x1="823.3" y1="798.4" x2="832" y2="798.4" stroke="#333" stroke-width="3.7"/>
<text x="816.5" y="809.9" font-size="32" text-anchor="end" fill="#4d4d4d" >0.6</text>
<line x1="823.3" y1="900.6" x2="832" y2="900.6" stroke="#333" stroke-width="3.7"/>
<text x="816.5" y="912.1" font-size="32" text-anchor="end" fill="#4d4d4d" >0.4</text>
<line x1="823.3" y1="1002.8" x2="832" y2="1002.8" stroke="#333" stroke-width="3.7"/>
<text x="816.5" y="1014.3" font-size="32" text-anchor="end" fill="#4d4d4d" >0.2</text>
<line x1="907" y1="1102.7" x2="907" y2="1111.2" stroke="#333" stroke-width="3.7"/>
<text x="907" y="1141.8" font-size="32" text-anchor="middle" fill="#4d4d4d" >DCM</text>
<line x1="1028.7" y1="1102.7" x2="1028.7" y2="1111.2" stroke="#333" stroke-width="3.7"/>
<text x="1028.7" y="1141.8" font-size="32" text-anchor="middle" fill="#4d4d4d" >surface</text>
<circle cx="1284.2" cy="784" r="7.2" fill="#7ad151"/>
<circle cx="1399" cy="791.1" r="7.2" fill="#7ad151"/>
<circle cx="1413.4" cy="791.1" r="7.2" fill="#7ad151"/>
<circle cx="1405.9" cy="883.3" r="7.2" fill="#7ad151"/>
<circle cx="1405.9" cy="892.3" r="7.2" fill="#7ad151"/>
<circle cx="1284.2" cy="934.1" r="7.2" fill="#7ad151"/>
<circle cx="1261" cy="1051.7" r="7.2" fill="#7ad151"/>
<circle cx="1261" cy="1056.9" r="7.2" fill="#7ad151"/>
<circle cx="1292.1" cy="1054.1" r="7.2" fill="#7ad151"/>
<circle cx="1275.7" cy="1065.6" r="7.2" fill="#7ad151"/>
<circle cx="1301.4" cy="1063.4" r="7.2" fill="#7ad151"/>
<circle cx="1284.2" cy="1070.5" r="7.2" fill="#7ad151"/>
<circle cx="1284.2" cy="1081.9" r="7.2" fill="#7ad151"/>
<circle cx="1402.3" cy="901.4" r="7.2" fill="#7ad151"/>
<circle cx="1405.9" cy="906.3" r="7.2" fill="#7ad151"/>
<circle cx="1405.9" cy="916.1" r="7.2" fill="#7ad151"/>
<circle cx="1397.4" cy="927.2" r="7.2" fill="#7ad151"/>
<circle cx="1405.9" cy="939" r="7.2" fill="#7ad151"/>
<circle cx="1405.9" cy="952.9" r="7.2" fill="#7ad151"/>
<circle cx="1390.1" cy="959.7" r="7.2" fill="#7ad151"/>
<circle cx="1405.9" cy="963.5" r="7.2" fill="#7ad151"/>
<circle cx="1405.9" cy="978.2" r="7.2" fill="#7ad151"/>
<circle cx="1405.9" cy="1012.5" r="7.2" fill="#7ad151"/>
<circle cx="1229.7" cy="718.9" r="7.2" fill="#414487"/>
<circle cx="1216.6" cy="791.1" r="7.2" fill="#414487"/>
<circle cx="1234.1" cy="791.1" r="7.2" fill="#414487"/>
<circle cx="1240.3" cy="851.5" r="7.2" fill="#414487"/>
<circle cx="1236.9" cy="858.8" r="7.2" fill="#414487"/>
<circle cx="1214.8" cy="865.4" r="7.2" fill="#414487"/>
<circle cx="1351.2" cy="698.5" r="7.2" fill="#414487"/>
<circle cx="1343.5" cy="802.2" r="7.2" fill="#414487"/>
<circle cx="1240.3" cy="905.8" r="7.2" fill="#414487"/>
<circle cx="1229.7" cy="916.9" r="7.2" fill="#414487"/>
<circle cx="1358.2" cy="916.9" r="7.2" fill="#414487"/>
<circle cx="1350.4" cy="950.8" r="7.2" fill="#414487"/>
<circle cx="1359.9" cy="953" r="7.2" fill="#414487"/>
<line x1="1229.7" y1="765.3" x2="1229.7" y2="905.5" stroke="#000" stroke-width="4"/>
<circle cx="1229.7" cy="843" r="10.4" fill="#414487" stroke="#000" stroke-width="3.8"/>
<line x1="1284.2" y1="1020.2" x2="1284.2" y2="1059.9" stroke="#000" stroke-width="4"/>
<circle cx="1284.2" cy="1041.9" r="10.4" fill="#7ad151" stroke="#000" stroke-width="3.8"/>
<line x1="1351.2" y1="790.2" x2="1351.2" y2="947.5" stroke="#000" stroke-width="4"/>
<circle cx="1351.2" cy="879.6" r="10.4" fill="#414487" stroke="#000" stroke-width="3.8"/>
<line x1="1405.9" y1="890.5" x2="1405.9" y2="960.2" stroke="#000" stroke-width="4"/>
<circle cx="1405.9" cy="928.1" r="10.4" fill="#7ad151" stroke="#000" stroke-width="3.8"/>
<path d="M1227.7 750.2 L1227.7 735.2 L1282.9 735.2 L1282.9 750.2" fill="none" stroke="#ff4500" stroke-width="3.6" stroke-linejoin="miter"/>
<text x="1254" y="737.6" font-size="29.5" text-anchor="middle" fill="#ff4500" >*</text>
<path d="M1283.7 725.7 L1283.7 711 L1404.1 711 L1404.1 725.7" fill="none" stroke="#ff4500" stroke-width="3.6" stroke-linejoin="miter"/>
<text x="1336.7" y="716.6" font-size="29.5" text-anchor="middle" fill="#ff4500" >*</text>
<rect x="1184.7" y="618.6" width="266.6" height="60.7" fill="#d9d9d9" stroke="#333" stroke-width="3.7"/>
<rect x="1184.7" y="679.3" width="266.6" height="421.6" fill="none" stroke="#333" stroke-width="3.7"/>
<text x="1318" y="661.2" font-size="32.7" text-anchor="middle">L<tspan font-size="17.5" dy="9.5">1</tspan><tspan dy="-9.5"> (nmol kg</tspan><tspan font-size="19" dy="-12">-1</tspan><tspan dy="12">)</tspan></text>
<line x1="1174.2" y1="694" x2="1182.9" y2="694" stroke="#333" stroke-width="3.7"/>
<text x="1167.4" y="705.5" font-size="32" text-anchor="end" fill="#4d4d4d" >2.0</text>
<line x1="1174.2" y1="809.5" x2="1182.9" y2="809.5" stroke="#333" stroke-width="3.7"/>
<text x="1167.4" y="821" font-size="32" text-anchor="end" fill="#4d4d4d" >1.5</text>
<line x1="1174.2" y1="925.1" x2="1182.9" y2="925.1" stroke="#333" stroke-width="3.7"/>
<text x="1167.4" y="936.6" font-size="32" text-anchor="end" fill="#4d4d4d" >1.0</text>
<line x1="1174.2" y1="1040.6" x2="1182.9" y2="1040.6" stroke="#333" stroke-width="3.7"/>
<text x="1167.4" y="1052.1" font-size="32" text-anchor="end" fill="#4d4d4d" >0.5</text>
<line x1="1256.6" y1="1102.7" x2="1256.6" y2="1111.2" stroke="#333" stroke-width="3.7"/>
<text x="1256.6" y="1141.8" font-size="32" text-anchor="middle" fill="#4d4d4d" >DCM</text>
<line x1="1378.1" y1="1102.7" x2="1378.1" y2="1111.2" stroke="#333" stroke-width="3.7"/>
<text x="1378.1" y="1141.8" font-size="32" text-anchor="middle" fill="#4d4d4d" >surface</text>
<circle cx="1580" cy="698.6" r="7.2" fill="#7ad151"/>
<circle cx="1580" cy="756.1" r="7.2" fill="#7ad151"/>
<circle cx="1580" cy="855.9" r="7.2" fill="#7ad151"/>
<circle cx="1580" cy="911.8" r="7.2" fill="#7ad151"/>
<circle cx="1580" cy="929.1" r="7.2" fill="#7ad151"/>
<circle cx="1605" cy="971" r="7.2" fill="#7ad151"/>
<circle cx="1609.2" cy="972.7" r="7.2" fill="#7ad151"/>
<circle cx="1580" cy="1008.6" r="7.2" fill="#7ad151"/>
<circle cx="1580" cy="1045.5" r="7.2" fill="#7ad151"/>
<circle cx="1580" cy="1081.8" r="7.2" fill="#7ad151"/>
<circle cx="1728.9" cy="741.3" r="7.2" fill="#7ad151"/>
<circle cx="1728.9" cy="847" r="7.2" fill="#7ad151"/>
<circle cx="1728.9" cy="868.6" r="7.2" fill="#7ad151"/>
<circle cx="1740.4" cy="907.1" r="7.2" fill="#7ad151"/>
<circle cx="1750.1" cy="907.5" r="7.2" fill="#7ad151"/>
<circle cx="1725.1" cy="952.4" r="7.2" fill="#7ad151"/>
<circle cx="1729.8" cy="957.5" r="7.2" fill="#7ad151"/>
<circle cx="1728.9" cy="971.8" r="7.2" fill="#7ad151"/>
<circle cx="1728.9" cy="1072.9" r="7.2" fill="#7ad151"/>
<circle cx="1673.9" cy="841.5" r="7.2" fill="#414487"/>
<circle cx="1673.9" cy="853.8" r="7.2" fill="#414487"/>
<circle cx="1647.3" cy="877.9" r="7.2" fill="#414487"/>
<circle cx="1701" cy="878.4" r="7.2" fill="#414487"/>
<circle cx="1673.9" cy="882.2" r="7.2" fill="#414487"/>
<circle cx="1673.9" cy="891.9" r="7.2" fill="#414487"/>
<circle cx="1673.9" cy="898.7" r="7.2" fill="#414487"/>
<circle cx="1673.9" cy="931.2" r="7.2" fill="#414487"/>
<circle cx="1673.9" cy="936.3" r="7.2" fill="#414487"/>
<circle cx="1673.9" cy="947.3" r="7.2" fill="#414487"/>
<rect x="1506.8" y="618.6" width="268.7" height="60.7" fill="#d9d9d9" stroke="#333" stroke-width="3.7"/>
<rect x="1506.8" y="679.3" width="268.7" height="421.6" fill="none" stroke="#333" stroke-width="3.7"/>
<text x="1641" y="657.8" font-size="28.9" text-anchor="middle">Sidero. (pmol kg<tspan font-size="17" dy="-10.5">-1</tspan><tspan dy="10.5">)</tspan></text>
<line x1="1496.3" y1="753.1" x2="1505" y2="753.1" stroke="#333" stroke-width="3.7"/>
<text x="1489.5" y="764.6" font-size="32" text-anchor="end" fill="#4d4d4d" >2</text>
<line x1="1496.3" y1="877.1" x2="1505" y2="877.1" stroke="#333" stroke-width="3.7"/>
<text x="1489.5" y="888.6" font-size="32" text-anchor="end" fill="#4d4d4d" >1</text>
<line x1="1496.3" y1="999.8" x2="1505" y2="999.8" stroke="#333" stroke-width="3.7"/>
<text x="1489.5" y="1011.3" font-size="32" text-anchor="end" fill="#4d4d4d" >0</text>
<line x1="1580.4" y1="1102.7" x2="1580.4" y2="1111.2" stroke="#333" stroke-width="3.7"/>
<text x="1580.4" y="1141.8" font-size="32" text-anchor="middle" fill="#4d4d4d" >DCM</text>
<line x1="1701" y1="1102.7" x2="1701" y2="1111.2" stroke="#333" stroke-width="3.7"/>
<text x="1701" y="1141.8" font-size="32" text-anchor="middle" fill="#4d4d4d" >surface</text>
<text x="743.2" y="608.9" font-size="52.5" text-anchor="start" fill="#000" >C</text>
<line x1="854" y1="1172" x2="854" y2="1222.8" stroke="#000" stroke-width="4"/>
<circle cx="854" cy="1197.5" r="10.4" fill="#414487" stroke="#000" stroke-width="3.8"/>
<text x="879.6" y="1209" font-size="32.8" text-anchor="start" fill="#000" >N. Atlantic (BATS)</text>
<line x1="1198.4" y1="1172" x2="1198.4" y2="1222.8" stroke="#000" stroke-width="4"/>
<circle cx="1198.4" cy="1197.5" r="10.4" fill="#7ad151" stroke="#000" stroke-width="3.8"/>
<text x="1224" y="1209" font-size="32.8" text-anchor="start" fill="#000" >N. Pacific (ALOHA + SCOPE gradients)</text>
</svg>
</body></html>
